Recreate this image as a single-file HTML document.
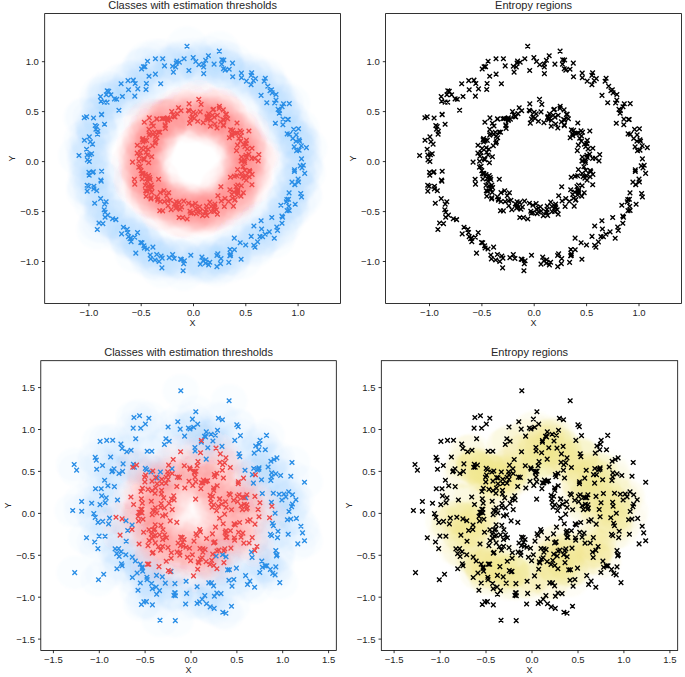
<!DOCTYPE html>
<html><head><meta charset="utf-8"><style>
html,body{margin:0;padding:0;background:#fff;width:685px;height:677px;overflow:hidden}
svg{display:block}
text{font-family:"Liberation Sans",sans-serif;fill:#262626}
.tl{font-size:9.5px}
.tt{font-size:11px}
.al{font-size:9px}
.fr line,.fr rect{stroke:#000;stroke-width:0.8}
</style></head><body>
<svg width="685" height="677" viewBox="0 0 685 677">
<defs><filter id="bl" x="-5%" y="-5%" width="110%" height="110%"><feGaussianBlur stdDeviation="1.0"/></filter></defs>
<g>
<g filter="url(#bl)">
<ellipse cx="144.4" cy="140.6" rx="20.9" ry="20" fill="#EE4848" fill-opacity="0.020"/>
<ellipse cx="176.3" cy="63.1" rx="20.9" ry="20" fill="#1E90FF" fill-opacity="0.021"/>
<ellipse cx="144.2" cy="159.6" rx="20.9" ry="20" fill="#EE4848" fill-opacity="0.020"/>
<ellipse cx="123.4" cy="227.3" rx="20.9" ry="20" fill="#1E90FF" fill-opacity="0.021"/>
<ellipse cx="107.1" cy="102.3" rx="20.9" ry="20" fill="#1E90FF" fill-opacity="0.021"/>
<ellipse cx="148.2" cy="185.9" rx="20.9" ry="20" fill="#EE4848" fill-opacity="0.020"/>
<ellipse cx="143.6" cy="158.4" rx="20.9" ry="20" fill="#EE4848" fill-opacity="0.020"/>
<ellipse cx="91.6" cy="153.8" rx="20.9" ry="20" fill="#1E90FF" fill-opacity="0.021"/>
<ellipse cx="175.6" cy="67" rx="20.9" ry="20" fill="#1E90FF" fill-opacity="0.021"/>
<ellipse cx="206.8" cy="215.4" rx="20.9" ry="20" fill="#EE4848" fill-opacity="0.020"/>
<ellipse cx="296" cy="141.3" rx="20.9" ry="20" fill="#1E90FF" fill-opacity="0.021"/>
<ellipse cx="216.9" cy="266.6" rx="20.9" ry="20" fill="#1E90FF" fill-opacity="0.021"/>
<ellipse cx="164.4" cy="201.6" rx="20.9" ry="20" fill="#EE4848" fill-opacity="0.020"/>
<ellipse cx="133.2" cy="80.1" rx="20.9" ry="20" fill="#1E90FF" fill-opacity="0.021"/>
<ellipse cx="151.7" cy="156.8" rx="20.9" ry="20" fill="#EE4848" fill-opacity="0.020"/>
<ellipse cx="146.7" cy="178.5" rx="20.9" ry="20" fill="#EE4848" fill-opacity="0.020"/>
<ellipse cx="244.9" cy="170.4" rx="20.9" ry="20" fill="#EE4848" fill-opacity="0.020"/>
<ellipse cx="270" cy="90.7" rx="20.9" ry="20" fill="#1E90FF" fill-opacity="0.021"/>
<ellipse cx="197.7" cy="121.2" rx="20.9" ry="20" fill="#EE4848" fill-opacity="0.020"/>
<ellipse cx="166.6" cy="195.8" rx="20.9" ry="20" fill="#EE4848" fill-opacity="0.020"/>
<ellipse cx="242.2" cy="176.8" rx="20.9" ry="20" fill="#EE4848" fill-opacity="0.020"/>
<ellipse cx="249.9" cy="171.7" rx="20.9" ry="20" fill="#EE4848" fill-opacity="0.020"/>
<ellipse cx="223.6" cy="125.6" rx="20.9" ry="20" fill="#EE4848" fill-opacity="0.020"/>
<ellipse cx="153" cy="134.4" rx="20.9" ry="20" fill="#EE4848" fill-opacity="0.020"/>
<ellipse cx="155.4" cy="74.1" rx="20.9" ry="20" fill="#1E90FF" fill-opacity="0.021"/>
<ellipse cx="220.9" cy="186.8" rx="20.9" ry="20" fill="#EE4848" fill-opacity="0.020"/>
<ellipse cx="237.6" cy="169.6" rx="20.9" ry="20" fill="#EE4848" fill-opacity="0.020"/>
<ellipse cx="253.8" cy="245.2" rx="20.9" ry="20" fill="#1E90FF" fill-opacity="0.021"/>
<ellipse cx="106.3" cy="94.8" rx="20.9" ry="20" fill="#1E90FF" fill-opacity="0.021"/>
<ellipse cx="162.1" cy="118.8" rx="20.9" ry="20" fill="#EE4848" fill-opacity="0.020"/>
<ellipse cx="236.9" cy="195" rx="20.9" ry="20" fill="#EE4848" fill-opacity="0.020"/>
<ellipse cx="156.8" cy="118.8" rx="20.9" ry="20" fill="#EE4848" fill-opacity="0.020"/>
<ellipse cx="206.3" cy="209.4" rx="20.9" ry="20" fill="#EE4848" fill-opacity="0.020"/>
<ellipse cx="156.7" cy="254.5" rx="20.9" ry="20" fill="#1E90FF" fill-opacity="0.021"/>
<ellipse cx="296.6" cy="150.7" rx="20.9" ry="20" fill="#1E90FF" fill-opacity="0.021"/>
<ellipse cx="165.1" cy="124.9" rx="20.9" ry="20" fill="#EE4848" fill-opacity="0.020"/>
<ellipse cx="150.9" cy="198.9" rx="20.9" ry="20" fill="#EE4848" fill-opacity="0.020"/>
<ellipse cx="179.4" cy="62.3" rx="20.9" ry="20" fill="#1E90FF" fill-opacity="0.021"/>
<ellipse cx="245.7" cy="245" rx="20.9" ry="20" fill="#1E90FF" fill-opacity="0.021"/>
<ellipse cx="193.2" cy="57.6" rx="20.9" ry="20" fill="#1E90FF" fill-opacity="0.021"/>
<ellipse cx="149.5" cy="177.6" rx="20.9" ry="20" fill="#EE4848" fill-opacity="0.020"/>
<ellipse cx="108.7" cy="91.4" rx="20.9" ry="20" fill="#1E90FF" fill-opacity="0.021"/>
<ellipse cx="236.8" cy="175.8" rx="20.9" ry="20" fill="#EE4848" fill-opacity="0.020"/>
<ellipse cx="183.1" cy="270.7" rx="20.9" ry="20" fill="#1E90FF" fill-opacity="0.021"/>
<ellipse cx="261.1" cy="95.4" rx="20.9" ry="20" fill="#1E90FF" fill-opacity="0.021"/>
<ellipse cx="164.5" cy="65.9" rx="20.9" ry="20" fill="#1E90FF" fill-opacity="0.021"/>
<ellipse cx="301.5" cy="158.9" rx="20.9" ry="20" fill="#1E90FF" fill-opacity="0.021"/>
<ellipse cx="298.5" cy="128.7" rx="20.9" ry="20" fill="#1E90FF" fill-opacity="0.021"/>
<ellipse cx="162.7" cy="210.9" rx="20.9" ry="20" fill="#EE4848" fill-opacity="0.020"/>
<ellipse cx="278.1" cy="109.4" rx="20.9" ry="20" fill="#1E90FF" fill-opacity="0.021"/>
<ellipse cx="155.4" cy="58.8" rx="20.9" ry="20" fill="#1E90FF" fill-opacity="0.021"/>
<ellipse cx="169.2" cy="257.6" rx="20.9" ry="20" fill="#1E90FF" fill-opacity="0.021"/>
<ellipse cx="89.2" cy="175.2" rx="20.9" ry="20" fill="#1E90FF" fill-opacity="0.021"/>
<ellipse cx="157.7" cy="199" rx="20.9" ry="20" fill="#EE4848" fill-opacity="0.020"/>
<ellipse cx="205.4" cy="263.3" rx="20.9" ry="20" fill="#1E90FF" fill-opacity="0.021"/>
<ellipse cx="208.4" cy="55.8" rx="20.9" ry="20" fill="#1E90FF" fill-opacity="0.021"/>
<ellipse cx="107.8" cy="215.1" rx="20.9" ry="20" fill="#1E90FF" fill-opacity="0.021"/>
<ellipse cx="283" cy="119.1" rx="20.9" ry="20" fill="#1E90FF" fill-opacity="0.021"/>
<ellipse cx="230.5" cy="255.5" rx="20.9" ry="20" fill="#1E90FF" fill-opacity="0.021"/>
<ellipse cx="147.5" cy="61.2" rx="20.9" ry="20" fill="#1E90FF" fill-opacity="0.021"/>
<ellipse cx="241.2" cy="173.5" rx="20.9" ry="20" fill="#EE4848" fill-opacity="0.020"/>
<ellipse cx="236.5" cy="150.6" rx="20.9" ry="20" fill="#EE4848" fill-opacity="0.020"/>
<ellipse cx="177.3" cy="113.6" rx="20.9" ry="20" fill="#EE4848" fill-opacity="0.020"/>
<ellipse cx="237.7" cy="190.3" rx="20.9" ry="20" fill="#EE4848" fill-opacity="0.020"/>
<ellipse cx="143.4" cy="66.8" rx="20.9" ry="20" fill="#1E90FF" fill-opacity="0.021"/>
<ellipse cx="251.1" cy="75.4" rx="20.9" ry="20" fill="#1E90FF" fill-opacity="0.021"/>
<ellipse cx="215" cy="207.9" rx="20.9" ry="20" fill="#EE4848" fill-opacity="0.020"/>
<ellipse cx="229.2" cy="69.2" rx="20.9" ry="20" fill="#1E90FF" fill-opacity="0.021"/>
<ellipse cx="300.7" cy="193.5" rx="20.9" ry="20" fill="#1E90FF" fill-opacity="0.021"/>
<ellipse cx="147.2" cy="181.2" rx="20.9" ry="20" fill="#EE4848" fill-opacity="0.020"/>
<ellipse cx="156.9" cy="137.7" rx="20.9" ry="20" fill="#EE4848" fill-opacity="0.020"/>
<ellipse cx="165.2" cy="125.8" rx="20.9" ry="20" fill="#EE4848" fill-opacity="0.020"/>
<ellipse cx="230.6" cy="129.7" rx="20.9" ry="20" fill="#EE4848" fill-opacity="0.020"/>
<ellipse cx="223.3" cy="109.9" rx="20.9" ry="20" fill="#EE4848" fill-opacity="0.020"/>
<ellipse cx="189.3" cy="111" rx="20.9" ry="20" fill="#EE4848" fill-opacity="0.020"/>
<ellipse cx="212.9" cy="109.8" rx="20.9" ry="20" fill="#EE4848" fill-opacity="0.020"/>
<ellipse cx="237.2" cy="133" rx="20.9" ry="20" fill="#EE4848" fill-opacity="0.020"/>
<ellipse cx="172.6" cy="66.3" rx="20.9" ry="20" fill="#1E90FF" fill-opacity="0.021"/>
<ellipse cx="211.3" cy="211.5" rx="20.9" ry="20" fill="#EE4848" fill-opacity="0.020"/>
<ellipse cx="228.6" cy="201.4" rx="20.9" ry="20" fill="#EE4848" fill-opacity="0.020"/>
<ellipse cx="97.3" cy="229.5" rx="20.9" ry="20" fill="#1E90FF" fill-opacity="0.021"/>
<ellipse cx="141.6" cy="69" rx="20.9" ry="20" fill="#1E90FF" fill-opacity="0.021"/>
<ellipse cx="234.4" cy="176.2" rx="20.9" ry="20" fill="#EE4848" fill-opacity="0.020"/>
<ellipse cx="161.1" cy="256" rx="20.9" ry="20" fill="#1E90FF" fill-opacity="0.021"/>
<ellipse cx="188.4" cy="110.2" rx="20.9" ry="20" fill="#EE4848" fill-opacity="0.020"/>
<ellipse cx="128" cy="80.6" rx="20.9" ry="20" fill="#1E90FF" fill-opacity="0.021"/>
<ellipse cx="174.2" cy="258.5" rx="20.9" ry="20" fill="#1E90FF" fill-opacity="0.021"/>
<ellipse cx="168.7" cy="192.8" rx="20.9" ry="20" fill="#EE4848" fill-opacity="0.020"/>
<ellipse cx="195.5" cy="113.9" rx="20.9" ry="20" fill="#EE4848" fill-opacity="0.020"/>
<ellipse cx="222.8" cy="119.5" rx="20.9" ry="20" fill="#EE4848" fill-opacity="0.020"/>
<ellipse cx="140.4" cy="166.4" rx="20.9" ry="20" fill="#EE4848" fill-opacity="0.020"/>
<ellipse cx="243.3" cy="192.8" rx="20.9" ry="20" fill="#EE4848" fill-opacity="0.020"/>
<ellipse cx="142.9" cy="138.5" rx="20.9" ry="20" fill="#EE4848" fill-opacity="0.020"/>
<ellipse cx="181" cy="110.8" rx="20.9" ry="20" fill="#EE4848" fill-opacity="0.020"/>
<ellipse cx="177" cy="204.9" rx="20.9" ry="20" fill="#EE4848" fill-opacity="0.020"/>
<ellipse cx="155.6" cy="136.1" rx="20.9" ry="20" fill="#EE4848" fill-opacity="0.020"/>
<ellipse cx="137.8" cy="88.9" rx="20.9" ry="20" fill="#1E90FF" fill-opacity="0.021"/>
<ellipse cx="173.4" cy="72.1" rx="20.9" ry="20" fill="#1E90FF" fill-opacity="0.021"/>
<ellipse cx="202.6" cy="215.6" rx="20.9" ry="20" fill="#EE4848" fill-opacity="0.020"/>
<ellipse cx="293.7" cy="129.4" rx="20.9" ry="20" fill="#1E90FF" fill-opacity="0.021"/>
<ellipse cx="303.3" cy="165.3" rx="20.9" ry="20" fill="#1E90FF" fill-opacity="0.021"/>
<ellipse cx="190" cy="211.2" rx="20.9" ry="20" fill="#EE4848" fill-opacity="0.020"/>
<ellipse cx="279.3" cy="113.2" rx="20.9" ry="20" fill="#1E90FF" fill-opacity="0.021"/>
<ellipse cx="178.5" cy="107.8" rx="20.9" ry="20" fill="#EE4848" fill-opacity="0.020"/>
<ellipse cx="167.6" cy="117.9" rx="20.9" ry="20" fill="#EE4848" fill-opacity="0.020"/>
<ellipse cx="219.3" cy="51.1" rx="20.9" ry="20" fill="#1E90FF" fill-opacity="0.021"/>
<ellipse cx="212.5" cy="115.2" rx="20.9" ry="20" fill="#EE4848" fill-opacity="0.020"/>
<ellipse cx="281.9" cy="216" rx="20.9" ry="20" fill="#1E90FF" fill-opacity="0.021"/>
<ellipse cx="166.8" cy="118.3" rx="20.9" ry="20" fill="#EE4848" fill-opacity="0.020"/>
<ellipse cx="100.8" cy="180.1" rx="20.9" ry="20" fill="#1E90FF" fill-opacity="0.021"/>
<ellipse cx="87.2" cy="191.1" rx="20.9" ry="20" fill="#1E90FF" fill-opacity="0.021"/>
<ellipse cx="175.8" cy="208.1" rx="20.9" ry="20" fill="#EE4848" fill-opacity="0.020"/>
<ellipse cx="169.7" cy="119.1" rx="20.9" ry="20" fill="#EE4848" fill-opacity="0.020"/>
<ellipse cx="282.1" cy="106.8" rx="20.9" ry="20" fill="#1E90FF" fill-opacity="0.021"/>
<ellipse cx="235.1" cy="199.6" rx="20.9" ry="20" fill="#EE4848" fill-opacity="0.020"/>
<ellipse cx="232.8" cy="130.4" rx="20.9" ry="20" fill="#EE4848" fill-opacity="0.020"/>
<ellipse cx="300.3" cy="165.9" rx="20.9" ry="20" fill="#1E90FF" fill-opacity="0.021"/>
<ellipse cx="286.4" cy="201.9" rx="20.9" ry="20" fill="#1E90FF" fill-opacity="0.021"/>
<ellipse cx="92.5" cy="144.1" rx="20.9" ry="20" fill="#1E90FF" fill-opacity="0.021"/>
<ellipse cx="246.4" cy="81.1" rx="20.9" ry="20" fill="#1E90FF" fill-opacity="0.021"/>
<ellipse cx="261.6" cy="229" rx="20.9" ry="20" fill="#1E90FF" fill-opacity="0.021"/>
<ellipse cx="161.9" cy="267.9" rx="20.9" ry="20" fill="#1E90FF" fill-opacity="0.021"/>
<ellipse cx="190.7" cy="119.1" rx="20.9" ry="20" fill="#EE4848" fill-opacity="0.020"/>
<ellipse cx="127.2" cy="229.4" rx="20.9" ry="20" fill="#1E90FF" fill-opacity="0.021"/>
<ellipse cx="288.5" cy="199.3" rx="20.9" ry="20" fill="#1E90FF" fill-opacity="0.021"/>
<ellipse cx="288.8" cy="206.3" rx="20.9" ry="20" fill="#1E90FF" fill-opacity="0.021"/>
<ellipse cx="159.8" cy="210.7" rx="20.9" ry="20" fill="#EE4848" fill-opacity="0.020"/>
<ellipse cx="234.4" cy="249.8" rx="20.9" ry="20" fill="#1E90FF" fill-opacity="0.021"/>
<ellipse cx="88.9" cy="172.3" rx="20.9" ry="20" fill="#1E90FF" fill-opacity="0.021"/>
<ellipse cx="175" cy="116.9" rx="20.9" ry="20" fill="#EE4848" fill-opacity="0.020"/>
<ellipse cx="266.8" cy="102.8" rx="20.9" ry="20" fill="#1E90FF" fill-opacity="0.021"/>
<ellipse cx="97.8" cy="131.2" rx="20.9" ry="20" fill="#1E90FF" fill-opacity="0.021"/>
<ellipse cx="241" cy="196.2" rx="20.9" ry="20" fill="#EE4848" fill-opacity="0.020"/>
<ellipse cx="241.6" cy="132.3" rx="20.9" ry="20" fill="#EE4848" fill-opacity="0.020"/>
<ellipse cx="87.1" cy="185.3" rx="20.9" ry="20" fill="#1E90FF" fill-opacity="0.021"/>
<ellipse cx="205.7" cy="60.2" rx="20.9" ry="20" fill="#1E90FF" fill-opacity="0.021"/>
<ellipse cx="208.7" cy="264.9" rx="20.9" ry="20" fill="#1E90FF" fill-opacity="0.021"/>
<ellipse cx="289.3" cy="103.6" rx="20.9" ry="20" fill="#1E90FF" fill-opacity="0.021"/>
<ellipse cx="287.6" cy="119.5" rx="20.9" ry="20" fill="#1E90FF" fill-opacity="0.021"/>
<ellipse cx="246.1" cy="143.2" rx="20.9" ry="20" fill="#EE4848" fill-opacity="0.020"/>
<ellipse cx="188.9" cy="70.5" rx="20.9" ry="20" fill="#1E90FF" fill-opacity="0.021"/>
<ellipse cx="241.1" cy="259.2" rx="20.9" ry="20" fill="#1E90FF" fill-opacity="0.021"/>
<ellipse cx="249.1" cy="176.8" rx="20.9" ry="20" fill="#EE4848" fill-opacity="0.020"/>
<ellipse cx="122.4" cy="96.5" rx="20.9" ry="20" fill="#1E90FF" fill-opacity="0.021"/>
<ellipse cx="258.2" cy="160.9" rx="20.9" ry="20" fill="#EE4848" fill-opacity="0.020"/>
<ellipse cx="240.5" cy="141.3" rx="20.9" ry="20" fill="#EE4848" fill-opacity="0.020"/>
<ellipse cx="283.5" cy="103.8" rx="20.9" ry="20" fill="#1E90FF" fill-opacity="0.021"/>
<ellipse cx="276.8" cy="227" rx="20.9" ry="20" fill="#1E90FF" fill-opacity="0.021"/>
<ellipse cx="247.3" cy="148.9" rx="20.9" ry="20" fill="#EE4848" fill-opacity="0.020"/>
<ellipse cx="181.6" cy="207" rx="20.9" ry="20" fill="#EE4848" fill-opacity="0.020"/>
<ellipse cx="301.3" cy="145.9" rx="20.9" ry="20" fill="#1E90FF" fill-opacity="0.021"/>
<ellipse cx="89.3" cy="136.9" rx="20.9" ry="20" fill="#1E90FF" fill-opacity="0.021"/>
<ellipse cx="241.5" cy="77.7" rx="20.9" ry="20" fill="#1E90FF" fill-opacity="0.021"/>
<ellipse cx="288.3" cy="119.5" rx="20.9" ry="20" fill="#1E90FF" fill-opacity="0.021"/>
<ellipse cx="232.6" cy="198.3" rx="20.9" ry="20" fill="#EE4848" fill-opacity="0.020"/>
<ellipse cx="155.7" cy="141.8" rx="20.9" ry="20" fill="#EE4848" fill-opacity="0.020"/>
<ellipse cx="299.1" cy="150.1" rx="20.9" ry="20" fill="#1E90FF" fill-opacity="0.021"/>
<ellipse cx="253.9" cy="226" rx="20.9" ry="20" fill="#1E90FF" fill-opacity="0.021"/>
<ellipse cx="145.6" cy="190.8" rx="20.9" ry="20" fill="#EE4848" fill-opacity="0.020"/>
<ellipse cx="203.7" cy="73.6" rx="20.9" ry="20" fill="#1E90FF" fill-opacity="0.021"/>
<ellipse cx="84.3" cy="117.7" rx="20.9" ry="20" fill="#1E90FF" fill-opacity="0.021"/>
<ellipse cx="192.6" cy="116.5" rx="20.9" ry="20" fill="#EE4848" fill-opacity="0.020"/>
<ellipse cx="176.5" cy="207.6" rx="20.9" ry="20" fill="#EE4848" fill-opacity="0.020"/>
<ellipse cx="271.5" cy="89.8" rx="20.9" ry="20" fill="#1E90FF" fill-opacity="0.021"/>
<ellipse cx="195.4" cy="203.6" rx="20.9" ry="20" fill="#EE4848" fill-opacity="0.020"/>
<ellipse cx="237.6" cy="191.3" rx="20.9" ry="20" fill="#EE4848" fill-opacity="0.020"/>
<ellipse cx="274.7" cy="103" rx="20.9" ry="20" fill="#1E90FF" fill-opacity="0.021"/>
<ellipse cx="296.2" cy="134.9" rx="20.9" ry="20" fill="#1E90FF" fill-opacity="0.021"/>
<ellipse cx="211.2" cy="206.5" rx="20.9" ry="20" fill="#EE4848" fill-opacity="0.020"/>
<ellipse cx="86.6" cy="116.8" rx="20.9" ry="20" fill="#1E90FF" fill-opacity="0.021"/>
<ellipse cx="267.8" cy="86.2" rx="20.9" ry="20" fill="#1E90FF" fill-opacity="0.021"/>
<ellipse cx="137.5" cy="232.6" rx="20.9" ry="20" fill="#1E90FF" fill-opacity="0.021"/>
<ellipse cx="230.4" cy="177.2" rx="20.9" ry="20" fill="#EE4848" fill-opacity="0.020"/>
<ellipse cx="97.5" cy="134.1" rx="20.9" ry="20" fill="#1E90FF" fill-opacity="0.021"/>
<ellipse cx="96.6" cy="126.5" rx="20.9" ry="20" fill="#1E90FF" fill-opacity="0.021"/>
<ellipse cx="155" cy="260" rx="20.9" ry="20" fill="#1E90FF" fill-opacity="0.021"/>
<ellipse cx="132.5" cy="162.1" rx="20.9" ry="20" fill="#EE4848" fill-opacity="0.020"/>
<ellipse cx="180.5" cy="259.1" rx="20.9" ry="20" fill="#1E90FF" fill-opacity="0.021"/>
<ellipse cx="105.1" cy="212.2" rx="20.9" ry="20" fill="#1E90FF" fill-opacity="0.021"/>
<ellipse cx="137.2" cy="153.1" rx="20.9" ry="20" fill="#EE4848" fill-opacity="0.020"/>
<ellipse cx="141.7" cy="173.5" rx="20.9" ry="20" fill="#EE4848" fill-opacity="0.020"/>
<ellipse cx="209.8" cy="262.2" rx="20.9" ry="20" fill="#1E90FF" fill-opacity="0.021"/>
<ellipse cx="156.7" cy="196.8" rx="20.9" ry="20" fill="#EE4848" fill-opacity="0.020"/>
<ellipse cx="229.4" cy="137.7" rx="20.9" ry="20" fill="#EE4848" fill-opacity="0.020"/>
<ellipse cx="217.4" cy="214.1" rx="20.9" ry="20" fill="#EE4848" fill-opacity="0.020"/>
<ellipse cx="104.6" cy="204.1" rx="20.9" ry="20" fill="#1E90FF" fill-opacity="0.021"/>
<ellipse cx="146.1" cy="152.3" rx="20.9" ry="20" fill="#EE4848" fill-opacity="0.020"/>
<ellipse cx="176.9" cy="61.1" rx="20.9" ry="20" fill="#1E90FF" fill-opacity="0.021"/>
<ellipse cx="255" cy="247.2" rx="20.9" ry="20" fill="#1E90FF" fill-opacity="0.021"/>
<ellipse cx="143.9" cy="245.7" rx="20.9" ry="20" fill="#1E90FF" fill-opacity="0.021"/>
<ellipse cx="249.4" cy="170.5" rx="20.9" ry="20" fill="#EE4848" fill-opacity="0.020"/>
<ellipse cx="138.9" cy="161.2" rx="20.9" ry="20" fill="#EE4848" fill-opacity="0.020"/>
<ellipse cx="150.2" cy="189.4" rx="20.9" ry="20" fill="#EE4848" fill-opacity="0.020"/>
<ellipse cx="231.8" cy="134" rx="20.9" ry="20" fill="#EE4848" fill-opacity="0.020"/>
<ellipse cx="93.5" cy="118" rx="20.9" ry="20" fill="#1E90FF" fill-opacity="0.021"/>
<ellipse cx="294.5" cy="169.9" rx="20.9" ry="20" fill="#1E90FF" fill-opacity="0.021"/>
<ellipse cx="104.2" cy="209.7" rx="20.9" ry="20" fill="#1E90FF" fill-opacity="0.021"/>
<ellipse cx="134.8" cy="96.1" rx="20.9" ry="20" fill="#1E90FF" fill-opacity="0.021"/>
<ellipse cx="112.6" cy="218.7" rx="20.9" ry="20" fill="#1E90FF" fill-opacity="0.021"/>
<ellipse cx="139.2" cy="156.2" rx="20.9" ry="20" fill="#EE4848" fill-opacity="0.020"/>
<ellipse cx="224.3" cy="206.5" rx="20.9" ry="20" fill="#EE4848" fill-opacity="0.020"/>
<ellipse cx="149" cy="76.3" rx="20.9" ry="20" fill="#1E90FF" fill-opacity="0.021"/>
<ellipse cx="294.9" cy="184.7" rx="20.9" ry="20" fill="#1E90FF" fill-opacity="0.021"/>
<ellipse cx="130" cy="238.6" rx="20.9" ry="20" fill="#1E90FF" fill-opacity="0.021"/>
<ellipse cx="134.7" cy="237.3" rx="20.9" ry="20" fill="#1E90FF" fill-opacity="0.021"/>
<ellipse cx="228.8" cy="262.4" rx="20.9" ry="20" fill="#1E90FF" fill-opacity="0.021"/>
<ellipse cx="295.2" cy="204.3" rx="20.9" ry="20" fill="#1E90FF" fill-opacity="0.021"/>
<ellipse cx="160.7" cy="83.7" rx="20.9" ry="20" fill="#1E90FF" fill-opacity="0.021"/>
<ellipse cx="236.1" cy="186.6" rx="20.9" ry="20" fill="#EE4848" fill-opacity="0.020"/>
<ellipse cx="142.9" cy="142" rx="20.9" ry="20" fill="#EE4848" fill-opacity="0.020"/>
<ellipse cx="241.5" cy="157" rx="20.9" ry="20" fill="#EE4848" fill-opacity="0.020"/>
<ellipse cx="90.4" cy="141.8" rx="20.9" ry="20" fill="#1E90FF" fill-opacity="0.021"/>
<ellipse cx="203.2" cy="122.6" rx="20.9" ry="20" fill="#EE4848" fill-opacity="0.020"/>
<ellipse cx="206.9" cy="117.6" rx="20.9" ry="20" fill="#EE4848" fill-opacity="0.020"/>
<ellipse cx="258.8" cy="154.6" rx="20.9" ry="20" fill="#EE4848" fill-opacity="0.020"/>
<ellipse cx="152.6" cy="145.8" rx="20.9" ry="20" fill="#EE4848" fill-opacity="0.020"/>
<ellipse cx="151.2" cy="185" rx="20.9" ry="20" fill="#EE4848" fill-opacity="0.020"/>
<ellipse cx="282.6" cy="217.2" rx="20.9" ry="20" fill="#1E90FF" fill-opacity="0.021"/>
<ellipse cx="149.1" cy="135.1" rx="20.9" ry="20" fill="#EE4848" fill-opacity="0.020"/>
<ellipse cx="280.9" cy="205.2" rx="20.9" ry="20" fill="#1E90FF" fill-opacity="0.021"/>
<ellipse cx="143.2" cy="173.9" rx="20.9" ry="20" fill="#EE4848" fill-opacity="0.020"/>
<ellipse cx="240.2" cy="130.9" rx="20.9" ry="20" fill="#EE4848" fill-opacity="0.020"/>
<ellipse cx="265.3" cy="78.3" rx="20.9" ry="20" fill="#1E90FF" fill-opacity="0.021"/>
<ellipse cx="216.9" cy="255.5" rx="20.9" ry="20" fill="#1E90FF" fill-opacity="0.021"/>
<ellipse cx="100.6" cy="198.6" rx="20.9" ry="20" fill="#1E90FF" fill-opacity="0.021"/>
<ellipse cx="141.5" cy="148.4" rx="20.9" ry="20" fill="#EE4848" fill-opacity="0.020"/>
<ellipse cx="294.4" cy="171.5" rx="20.9" ry="20" fill="#1E90FF" fill-opacity="0.021"/>
<ellipse cx="192.2" cy="205.3" rx="20.9" ry="20" fill="#EE4848" fill-opacity="0.020"/>
<ellipse cx="223.9" cy="120" rx="20.9" ry="20" fill="#EE4848" fill-opacity="0.020"/>
<ellipse cx="203.6" cy="67" rx="20.9" ry="20" fill="#1E90FF" fill-opacity="0.021"/>
<ellipse cx="95.2" cy="125.5" rx="20.9" ry="20" fill="#1E90FF" fill-opacity="0.021"/>
<ellipse cx="128.5" cy="89.8" rx="20.9" ry="20" fill="#1E90FF" fill-opacity="0.021"/>
<ellipse cx="200.4" cy="211.1" rx="20.9" ry="20" fill="#EE4848" fill-opacity="0.020"/>
<ellipse cx="292.8" cy="138.5" rx="20.9" ry="20" fill="#1E90FF" fill-opacity="0.021"/>
<ellipse cx="148.1" cy="149.2" rx="20.9" ry="20" fill="#EE4848" fill-opacity="0.020"/>
<ellipse cx="149" cy="129.4" rx="20.9" ry="20" fill="#EE4848" fill-opacity="0.020"/>
<ellipse cx="163.8" cy="118.5" rx="20.9" ry="20" fill="#EE4848" fill-opacity="0.020"/>
<ellipse cx="127.8" cy="232.6" rx="20.9" ry="20" fill="#1E90FF" fill-opacity="0.021"/>
<ellipse cx="115.9" cy="219.7" rx="20.9" ry="20" fill="#1E90FF" fill-opacity="0.021"/>
<ellipse cx="162.2" cy="258.1" rx="20.9" ry="20" fill="#1E90FF" fill-opacity="0.021"/>
<ellipse cx="146.1" cy="196.3" rx="20.9" ry="20" fill="#EE4848" fill-opacity="0.020"/>
<ellipse cx="181.4" cy="259.5" rx="20.9" ry="20" fill="#1E90FF" fill-opacity="0.021"/>
<ellipse cx="206.2" cy="212.7" rx="20.9" ry="20" fill="#EE4848" fill-opacity="0.020"/>
<ellipse cx="299.6" cy="141.3" rx="20.9" ry="20" fill="#1E90FF" fill-opacity="0.021"/>
<ellipse cx="145.3" cy="174.5" rx="20.9" ry="20" fill="#EE4848" fill-opacity="0.020"/>
<ellipse cx="118.9" cy="110.2" rx="20.9" ry="20" fill="#1E90FF" fill-opacity="0.021"/>
<ellipse cx="144.9" cy="66.6" rx="20.9" ry="20" fill="#1E90FF" fill-opacity="0.021"/>
<ellipse cx="251.7" cy="72.8" rx="20.9" ry="20" fill="#1E90FF" fill-opacity="0.021"/>
<ellipse cx="193.5" cy="112.3" rx="20.9" ry="20" fill="#EE4848" fill-opacity="0.020"/>
<ellipse cx="140.8" cy="242.5" rx="20.9" ry="20" fill="#1E90FF" fill-opacity="0.021"/>
<ellipse cx="231.9" cy="194.5" rx="20.9" ry="20" fill="#EE4848" fill-opacity="0.020"/>
<ellipse cx="217.4" cy="115.2" rx="20.9" ry="20" fill="#EE4848" fill-opacity="0.020"/>
<ellipse cx="237.7" cy="192.6" rx="20.9" ry="20" fill="#EE4848" fill-opacity="0.020"/>
<ellipse cx="220.5" cy="263.6" rx="20.9" ry="20" fill="#1E90FF" fill-opacity="0.021"/>
<ellipse cx="214.9" cy="124" rx="20.9" ry="20" fill="#EE4848" fill-opacity="0.020"/>
<ellipse cx="168.1" cy="205.8" rx="20.9" ry="20" fill="#EE4848" fill-opacity="0.020"/>
<ellipse cx="105.1" cy="217.2" rx="20.9" ry="20" fill="#1E90FF" fill-opacity="0.021"/>
<ellipse cx="134.8" cy="184.1" rx="20.9" ry="20" fill="#EE4848" fill-opacity="0.020"/>
<ellipse cx="99" cy="223" rx="20.9" ry="20" fill="#1E90FF" fill-opacity="0.021"/>
<ellipse cx="209.9" cy="202.1" rx="20.9" ry="20" fill="#EE4848" fill-opacity="0.020"/>
<ellipse cx="220.6" cy="121.9" rx="20.9" ry="20" fill="#EE4848" fill-opacity="0.020"/>
<ellipse cx="87.4" cy="159.9" rx="20.9" ry="20" fill="#1E90FF" fill-opacity="0.021"/>
<ellipse cx="145.5" cy="147.8" rx="20.9" ry="20" fill="#EE4848" fill-opacity="0.020"/>
<ellipse cx="110.9" cy="94.8" rx="20.9" ry="20" fill="#1E90FF" fill-opacity="0.021"/>
<ellipse cx="106.1" cy="201.8" rx="20.9" ry="20" fill="#1E90FF" fill-opacity="0.021"/>
<ellipse cx="298.5" cy="182" rx="20.9" ry="20" fill="#1E90FF" fill-opacity="0.021"/>
<ellipse cx="206.5" cy="206.1" rx="20.9" ry="20" fill="#EE4848" fill-opacity="0.020"/>
<ellipse cx="114.5" cy="98.9" rx="20.9" ry="20" fill="#1E90FF" fill-opacity="0.021"/>
<ellipse cx="157.8" cy="200.2" rx="20.9" ry="20" fill="#EE4848" fill-opacity="0.020"/>
<ellipse cx="79" cy="155.5" rx="20.9" ry="20" fill="#1E90FF" fill-opacity="0.021"/>
<ellipse cx="183.6" cy="263.8" rx="20.9" ry="20" fill="#1E90FF" fill-opacity="0.021"/>
<ellipse cx="229.8" cy="255.7" rx="20.9" ry="20" fill="#1E90FF" fill-opacity="0.021"/>
<ellipse cx="304.7" cy="173.4" rx="20.9" ry="20" fill="#1E90FF" fill-opacity="0.021"/>
<ellipse cx="210.4" cy="126.1" rx="20.9" ry="20" fill="#EE4848" fill-opacity="0.020"/>
<ellipse cx="219.2" cy="108.4" rx="20.9" ry="20" fill="#EE4848" fill-opacity="0.020"/>
<ellipse cx="155.1" cy="143.3" rx="20.9" ry="20" fill="#EE4848" fill-opacity="0.020"/>
<ellipse cx="148.5" cy="175.5" rx="20.9" ry="20" fill="#EE4848" fill-opacity="0.020"/>
<ellipse cx="134.4" cy="179.2" rx="20.9" ry="20" fill="#EE4848" fill-opacity="0.020"/>
<ellipse cx="235.4" cy="133.4" rx="20.9" ry="20" fill="#EE4848" fill-opacity="0.020"/>
<ellipse cx="89.8" cy="154.7" rx="20.9" ry="20" fill="#1E90FF" fill-opacity="0.021"/>
<ellipse cx="213.6" cy="109.2" rx="20.9" ry="20" fill="#EE4848" fill-opacity="0.020"/>
<ellipse cx="261.1" cy="220.7" rx="20.9" ry="20" fill="#1E90FF" fill-opacity="0.021"/>
<ellipse cx="167.7" cy="200.7" rx="20.9" ry="20" fill="#EE4848" fill-opacity="0.020"/>
<ellipse cx="269.3" cy="231.9" rx="20.9" ry="20" fill="#1E90FF" fill-opacity="0.021"/>
<ellipse cx="92.8" cy="172.5" rx="20.9" ry="20" fill="#1E90FF" fill-opacity="0.021"/>
<ellipse cx="171.1" cy="209.6" rx="20.9" ry="20" fill="#EE4848" fill-opacity="0.020"/>
<ellipse cx="214.2" cy="117.3" rx="20.9" ry="20" fill="#EE4848" fill-opacity="0.020"/>
<ellipse cx="197.8" cy="211.9" rx="20.9" ry="20" fill="#EE4848" fill-opacity="0.020"/>
<ellipse cx="142.7" cy="173.3" rx="20.9" ry="20" fill="#EE4848" fill-opacity="0.020"/>
<ellipse cx="210.7" cy="120.3" rx="20.9" ry="20" fill="#EE4848" fill-opacity="0.020"/>
<ellipse cx="150" cy="133.8" rx="20.9" ry="20" fill="#EE4848" fill-opacity="0.020"/>
<ellipse cx="208.6" cy="113.8" rx="20.9" ry="20" fill="#EE4848" fill-opacity="0.020"/>
<ellipse cx="147" cy="191.2" rx="20.9" ry="20" fill="#EE4848" fill-opacity="0.020"/>
<ellipse cx="156.8" cy="119.1" rx="20.9" ry="20" fill="#EE4848" fill-opacity="0.020"/>
<ellipse cx="95.9" cy="129.3" rx="20.9" ry="20" fill="#1E90FF" fill-opacity="0.021"/>
<ellipse cx="172.6" cy="254.6" rx="20.9" ry="20" fill="#1E90FF" fill-opacity="0.021"/>
<ellipse cx="200.2" cy="111.9" rx="20.9" ry="20" fill="#EE4848" fill-opacity="0.020"/>
<ellipse cx="192.2" cy="212.7" rx="20.9" ry="20" fill="#EE4848" fill-opacity="0.020"/>
<ellipse cx="246.3" cy="180.1" rx="20.9" ry="20" fill="#EE4848" fill-opacity="0.020"/>
<ellipse cx="237.8" cy="185.1" rx="20.9" ry="20" fill="#EE4848" fill-opacity="0.020"/>
<ellipse cx="176.3" cy="201.8" rx="20.9" ry="20" fill="#EE4848" fill-opacity="0.020"/>
<ellipse cx="289.2" cy="210.5" rx="20.9" ry="20" fill="#1E90FF" fill-opacity="0.021"/>
<ellipse cx="198.8" cy="99.4" rx="20.9" ry="20" fill="#EE4848" fill-opacity="0.020"/>
<ellipse cx="135.8" cy="253.1" rx="20.9" ry="20" fill="#1E90FF" fill-opacity="0.021"/>
<ellipse cx="93.8" cy="188.9" rx="20.9" ry="20" fill="#1E90FF" fill-opacity="0.021"/>
<ellipse cx="217.8" cy="253.9" rx="20.9" ry="20" fill="#1E90FF" fill-opacity="0.021"/>
<ellipse cx="252" cy="148.2" rx="20.9" ry="20" fill="#EE4848" fill-opacity="0.020"/>
<ellipse cx="286.9" cy="199.6" rx="20.9" ry="20" fill="#1E90FF" fill-opacity="0.021"/>
<ellipse cx="84.4" cy="140.3" rx="20.9" ry="20" fill="#1E90FF" fill-opacity="0.021"/>
<ellipse cx="86.6" cy="149.2" rx="20.9" ry="20" fill="#1E90FF" fill-opacity="0.021"/>
<ellipse cx="154.6" cy="132.2" rx="20.9" ry="20" fill="#EE4848" fill-opacity="0.020"/>
<ellipse cx="271.8" cy="217.5" rx="20.9" ry="20" fill="#1E90FF" fill-opacity="0.021"/>
<ellipse cx="151.6" cy="192.4" rx="20.9" ry="20" fill="#EE4848" fill-opacity="0.020"/>
<ellipse cx="151.9" cy="187.6" rx="20.9" ry="20" fill="#EE4848" fill-opacity="0.020"/>
<ellipse cx="89.3" cy="161.5" rx="20.9" ry="20" fill="#1E90FF" fill-opacity="0.021"/>
<ellipse cx="227.6" cy="118.8" rx="20.9" ry="20" fill="#EE4848" fill-opacity="0.020"/>
<ellipse cx="164" cy="190.8" rx="20.9" ry="20" fill="#EE4848" fill-opacity="0.020"/>
<ellipse cx="101.6" cy="114.7" rx="20.9" ry="20" fill="#1E90FF" fill-opacity="0.021"/>
<ellipse cx="147.4" cy="155" rx="20.9" ry="20" fill="#EE4848" fill-opacity="0.020"/>
<ellipse cx="174" cy="116.5" rx="20.9" ry="20" fill="#EE4848" fill-opacity="0.020"/>
<ellipse cx="88.6" cy="186.3" rx="20.9" ry="20" fill="#1E90FF" fill-opacity="0.021"/>
<ellipse cx="213.8" cy="211.4" rx="20.9" ry="20" fill="#EE4848" fill-opacity="0.020"/>
<ellipse cx="241.4" cy="73.1" rx="20.9" ry="20" fill="#1E90FF" fill-opacity="0.021"/>
<ellipse cx="221.3" cy="201" rx="20.9" ry="20" fill="#EE4848" fill-opacity="0.020"/>
<ellipse cx="184.1" cy="58.7" rx="20.9" ry="20" fill="#1E90FF" fill-opacity="0.021"/>
<ellipse cx="237" cy="123" rx="20.9" ry="20" fill="#EE4848" fill-opacity="0.020"/>
<ellipse cx="133.4" cy="80.3" rx="20.9" ry="20" fill="#1E90FF" fill-opacity="0.021"/>
<ellipse cx="294.7" cy="184.5" rx="20.9" ry="20" fill="#1E90FF" fill-opacity="0.021"/>
<ellipse cx="184.4" cy="260.7" rx="20.9" ry="20" fill="#1E90FF" fill-opacity="0.021"/>
<ellipse cx="141.1" cy="170.6" rx="20.9" ry="20" fill="#EE4848" fill-opacity="0.020"/>
<ellipse cx="131" cy="238.1" rx="20.9" ry="20" fill="#1E90FF" fill-opacity="0.021"/>
<ellipse cx="287.2" cy="133.9" rx="20.9" ry="20" fill="#1E90FF" fill-opacity="0.021"/>
<ellipse cx="264.2" cy="81.2" rx="20.9" ry="20" fill="#1E90FF" fill-opacity="0.021"/>
<ellipse cx="276" cy="100.1" rx="20.9" ry="20" fill="#1E90FF" fill-opacity="0.021"/>
<ellipse cx="152.9" cy="247.1" rx="20.9" ry="20" fill="#1E90FF" fill-opacity="0.021"/>
<ellipse cx="94.7" cy="203.2" rx="20.9" ry="20" fill="#1E90FF" fill-opacity="0.021"/>
<ellipse cx="160.3" cy="192.6" rx="20.9" ry="20" fill="#EE4848" fill-opacity="0.020"/>
<ellipse cx="149.3" cy="117.9" rx="20.9" ry="20" fill="#EE4848" fill-opacity="0.020"/>
<ellipse cx="277.5" cy="230.4" rx="20.9" ry="20" fill="#1E90FF" fill-opacity="0.021"/>
<ellipse cx="116.7" cy="99.3" rx="20.9" ry="20" fill="#1E90FF" fill-opacity="0.021"/>
<ellipse cx="223.8" cy="60" rx="20.9" ry="20" fill="#1E90FF" fill-opacity="0.021"/>
<ellipse cx="292" cy="182.1" rx="20.9" ry="20" fill="#1E90FF" fill-opacity="0.021"/>
<ellipse cx="244.1" cy="178.3" rx="20.9" ry="20" fill="#EE4848" fill-opacity="0.020"/>
<ellipse cx="138.8" cy="167.1" rx="20.9" ry="20" fill="#EE4848" fill-opacity="0.020"/>
<ellipse cx="159.1" cy="261.5" rx="20.9" ry="20" fill="#1E90FF" fill-opacity="0.021"/>
<ellipse cx="253.4" cy="80.6" rx="20.9" ry="20" fill="#1E90FF" fill-opacity="0.021"/>
<ellipse cx="241.7" cy="160.9" rx="20.9" ry="20" fill="#EE4848" fill-opacity="0.020"/>
<ellipse cx="174.5" cy="203.9" rx="20.9" ry="20" fill="#EE4848" fill-opacity="0.020"/>
<ellipse cx="234.3" cy="238.1" rx="20.9" ry="20" fill="#1E90FF" fill-opacity="0.021"/>
<ellipse cx="223.4" cy="124.9" rx="20.9" ry="20" fill="#EE4848" fill-opacity="0.020"/>
<ellipse cx="244.7" cy="162.5" rx="20.9" ry="20" fill="#EE4848" fill-opacity="0.020"/>
<ellipse cx="160.3" cy="201.5" rx="20.9" ry="20" fill="#EE4848" fill-opacity="0.020"/>
<ellipse cx="294.2" cy="146.9" rx="20.9" ry="20" fill="#1E90FF" fill-opacity="0.021"/>
<ellipse cx="244.4" cy="160.8" rx="20.9" ry="20" fill="#EE4848" fill-opacity="0.020"/>
<ellipse cx="199.7" cy="206.8" rx="20.9" ry="20" fill="#EE4848" fill-opacity="0.020"/>
<ellipse cx="101.1" cy="101.3" rx="20.9" ry="20" fill="#1E90FF" fill-opacity="0.021"/>
<ellipse cx="282" cy="223.2" rx="20.9" ry="20" fill="#1E90FF" fill-opacity="0.021"/>
<ellipse cx="187.1" cy="219" rx="20.9" ry="20" fill="#EE4848" fill-opacity="0.020"/>
<ellipse cx="257.6" cy="241.9" rx="20.9" ry="20" fill="#1E90FF" fill-opacity="0.021"/>
<ellipse cx="150.7" cy="258.9" rx="20.9" ry="20" fill="#1E90FF" fill-opacity="0.021"/>
<ellipse cx="107.2" cy="90.8" rx="20.9" ry="20" fill="#1E90FF" fill-opacity="0.021"/>
<ellipse cx="225.6" cy="114.4" rx="20.9" ry="20" fill="#EE4848" fill-opacity="0.020"/>
<ellipse cx="265.1" cy="234.3" rx="20.9" ry="20" fill="#1E90FF" fill-opacity="0.021"/>
<ellipse cx="195.8" cy="61.5" rx="20.9" ry="20" fill="#1E90FF" fill-opacity="0.021"/>
<ellipse cx="225.5" cy="69.6" rx="20.9" ry="20" fill="#1E90FF" fill-opacity="0.021"/>
<ellipse cx="272.2" cy="92.9" rx="20.9" ry="20" fill="#1E90FF" fill-opacity="0.021"/>
<ellipse cx="246.4" cy="140.4" rx="20.9" ry="20" fill="#EE4848" fill-opacity="0.020"/>
<ellipse cx="167.6" cy="120.5" rx="20.9" ry="20" fill="#EE4848" fill-opacity="0.020"/>
<ellipse cx="230.6" cy="253.9" rx="20.9" ry="20" fill="#1E90FF" fill-opacity="0.021"/>
<ellipse cx="205.1" cy="211.8" rx="20.9" ry="20" fill="#EE4848" fill-opacity="0.020"/>
<ellipse cx="276" cy="94.5" rx="20.9" ry="20" fill="#1E90FF" fill-opacity="0.021"/>
<ellipse cx="183.8" cy="201.1" rx="20.9" ry="20" fill="#EE4848" fill-opacity="0.020"/>
<ellipse cx="287.1" cy="210.6" rx="20.9" ry="20" fill="#1E90FF" fill-opacity="0.021"/>
<ellipse cx="244.9" cy="146.6" rx="20.9" ry="20" fill="#EE4848" fill-opacity="0.020"/>
<ellipse cx="226.4" cy="114.3" rx="20.9" ry="20" fill="#EE4848" fill-opacity="0.020"/>
<ellipse cx="142" cy="242.7" rx="20.9" ry="20" fill="#1E90FF" fill-opacity="0.021"/>
<ellipse cx="188.6" cy="203.2" rx="20.9" ry="20" fill="#EE4848" fill-opacity="0.020"/>
<ellipse cx="93.9" cy="186.2" rx="20.9" ry="20" fill="#1E90FF" fill-opacity="0.021"/>
<ellipse cx="203.6" cy="64" rx="20.9" ry="20" fill="#1E90FF" fill-opacity="0.021"/>
<ellipse cx="101.2" cy="181.1" rx="20.9" ry="20" fill="#1E90FF" fill-opacity="0.021"/>
<ellipse cx="101.6" cy="171.2" rx="20.9" ry="20" fill="#1E90FF" fill-opacity="0.021"/>
<ellipse cx="234.7" cy="200.1" rx="20.9" ry="20" fill="#EE4848" fill-opacity="0.020"/>
<ellipse cx="299" cy="139.8" rx="20.9" ry="20" fill="#1E90FF" fill-opacity="0.021"/>
<ellipse cx="173.1" cy="114.9" rx="20.9" ry="20" fill="#EE4848" fill-opacity="0.020"/>
<ellipse cx="217.9" cy="195.7" rx="20.9" ry="20" fill="#EE4848" fill-opacity="0.020"/>
<ellipse cx="187" cy="46.3" rx="20.9" ry="20" fill="#1E90FF" fill-opacity="0.021"/>
<ellipse cx="208.7" cy="117.9" rx="20.9" ry="20" fill="#EE4848" fill-opacity="0.020"/>
<ellipse cx="289.5" cy="134.2" rx="20.9" ry="20" fill="#1E90FF" fill-opacity="0.021"/>
<ellipse cx="121.6" cy="233.9" rx="20.9" ry="20" fill="#1E90FF" fill-opacity="0.021"/>
<ellipse cx="255.5" cy="78.6" rx="20.9" ry="20" fill="#1E90FF" fill-opacity="0.021"/>
<ellipse cx="148.7" cy="162.8" rx="20.9" ry="20" fill="#EE4848" fill-opacity="0.020"/>
<ellipse cx="229.9" cy="189.7" rx="20.9" ry="20" fill="#EE4848" fill-opacity="0.020"/>
<ellipse cx="158.6" cy="179.2" rx="20.9" ry="20" fill="#EE4848" fill-opacity="0.020"/>
<ellipse cx="260" cy="236.6" rx="20.9" ry="20" fill="#1E90FF" fill-opacity="0.021"/>
<ellipse cx="240.7" cy="136" rx="20.9" ry="20" fill="#EE4848" fill-opacity="0.020"/>
<ellipse cx="195.8" cy="209.2" rx="20.9" ry="20" fill="#EE4848" fill-opacity="0.020"/>
<ellipse cx="179.1" cy="217.5" rx="20.9" ry="20" fill="#EE4848" fill-opacity="0.020"/>
<ellipse cx="159.8" cy="132.2" rx="20.9" ry="20" fill="#EE4848" fill-opacity="0.020"/>
<ellipse cx="289.1" cy="192.9" rx="20.9" ry="20" fill="#1E90FF" fill-opacity="0.021"/>
<ellipse cx="240.2" cy="242.8" rx="20.9" ry="20" fill="#1E90FF" fill-opacity="0.021"/>
<ellipse cx="262.6" cy="236.8" rx="20.9" ry="20" fill="#1E90FF" fill-opacity="0.021"/>
<ellipse cx="217" cy="128" rx="20.9" ry="20" fill="#EE4848" fill-opacity="0.020"/>
<ellipse cx="214.4" cy="206.4" rx="20.9" ry="20" fill="#EE4848" fill-opacity="0.020"/>
<ellipse cx="241.1" cy="161" rx="20.9" ry="20" fill="#EE4848" fill-opacity="0.020"/>
<ellipse cx="251.9" cy="184.7" rx="20.9" ry="20" fill="#EE4848" fill-opacity="0.020"/>
<ellipse cx="252.1" cy="174.4" rx="20.9" ry="20" fill="#EE4848" fill-opacity="0.020"/>
<ellipse cx="207.3" cy="116.6" rx="20.9" ry="20" fill="#EE4848" fill-opacity="0.020"/>
<ellipse cx="146.6" cy="140.4" rx="20.9" ry="20" fill="#EE4848" fill-opacity="0.020"/>
<ellipse cx="248.9" cy="131" rx="20.9" ry="20" fill="#EE4848" fill-opacity="0.020"/>
<ellipse cx="221" cy="258.6" rx="20.9" ry="20" fill="#1E90FF" fill-opacity="0.021"/>
<ellipse cx="131.1" cy="241.6" rx="20.9" ry="20" fill="#1E90FF" fill-opacity="0.021"/>
<ellipse cx="232.7" cy="76.7" rx="20.9" ry="20" fill="#1E90FF" fill-opacity="0.021"/>
<ellipse cx="274.3" cy="238.2" rx="20.9" ry="20" fill="#1E90FF" fill-opacity="0.021"/>
<ellipse cx="151.1" cy="197.7" rx="20.9" ry="20" fill="#EE4848" fill-opacity="0.020"/>
<ellipse cx="203.1" cy="260.7" rx="20.9" ry="20" fill="#1E90FF" fill-opacity="0.021"/>
<ellipse cx="194.2" cy="118.4" rx="20.9" ry="20" fill="#EE4848" fill-opacity="0.020"/>
<ellipse cx="251.8" cy="158.4" rx="20.9" ry="20" fill="#EE4848" fill-opacity="0.020"/>
<ellipse cx="104.5" cy="124.2" rx="20.9" ry="20" fill="#1E90FF" fill-opacity="0.021"/>
<ellipse cx="221.9" cy="59.7" rx="20.9" ry="20" fill="#1E90FF" fill-opacity="0.021"/>
<ellipse cx="150.1" cy="179.6" rx="20.9" ry="20" fill="#EE4848" fill-opacity="0.020"/>
<ellipse cx="306.4" cy="147.6" rx="20.9" ry="20" fill="#1E90FF" fill-opacity="0.021"/>
<ellipse cx="196.4" cy="213.6" rx="20.9" ry="20" fill="#EE4848" fill-opacity="0.020"/>
<ellipse cx="241.3" cy="185.8" rx="20.9" ry="20" fill="#EE4848" fill-opacity="0.020"/>
<ellipse cx="225.1" cy="70.1" rx="20.9" ry="20" fill="#1E90FF" fill-opacity="0.021"/>
<ellipse cx="179" cy="202.4" rx="20.9" ry="20" fill="#EE4848" fill-opacity="0.020"/>
<ellipse cx="146.4" cy="83.5" rx="20.9" ry="20" fill="#1E90FF" fill-opacity="0.021"/>
<ellipse cx="230" cy="249.5" rx="20.9" ry="20" fill="#1E90FF" fill-opacity="0.021"/>
<ellipse cx="251.1" cy="84.8" rx="20.9" ry="20" fill="#1E90FF" fill-opacity="0.021"/>
<ellipse cx="237.5" cy="145.1" rx="20.9" ry="20" fill="#EE4848" fill-opacity="0.020"/>
<ellipse cx="180.2" cy="209.2" rx="20.9" ry="20" fill="#EE4848" fill-opacity="0.020"/>
<ellipse cx="140.5" cy="152.5" rx="20.9" ry="20" fill="#EE4848" fill-opacity="0.020"/>
<ellipse cx="121.1" cy="83.8" rx="20.9" ry="20" fill="#1E90FF" fill-opacity="0.021"/>
<ellipse cx="165.4" cy="128.4" rx="20.9" ry="20" fill="#EE4848" fill-opacity="0.020"/>
<ellipse cx="233.9" cy="192" rx="20.9" ry="20" fill="#EE4848" fill-opacity="0.020"/>
<ellipse cx="221.7" cy="64.3" rx="20.9" ry="20" fill="#1E90FF" fill-opacity="0.021"/>
<ellipse cx="153.3" cy="126" rx="20.9" ry="20" fill="#EE4848" fill-opacity="0.020"/>
<ellipse cx="245.8" cy="143.7" rx="20.9" ry="20" fill="#EE4848" fill-opacity="0.020"/>
<ellipse cx="298.1" cy="179.1" rx="20.9" ry="20" fill="#1E90FF" fill-opacity="0.021"/>
<ellipse cx="282.9" cy="124.8" rx="20.9" ry="20" fill="#1E90FF" fill-opacity="0.021"/>
<ellipse cx="192" cy="117.3" rx="20.9" ry="20" fill="#EE4848" fill-opacity="0.020"/>
<ellipse cx="135.2" cy="83.5" rx="20.9" ry="20" fill="#1E90FF" fill-opacity="0.021"/>
<ellipse cx="142.2" cy="179" rx="20.9" ry="20" fill="#EE4848" fill-opacity="0.020"/>
<ellipse cx="238.9" cy="138.2" rx="20.9" ry="20" fill="#EE4848" fill-opacity="0.020"/>
<ellipse cx="144.4" cy="248" rx="20.9" ry="20" fill="#1E90FF" fill-opacity="0.021"/>
<ellipse cx="171.7" cy="111.6" rx="20.9" ry="20" fill="#EE4848" fill-opacity="0.020"/>
<ellipse cx="243.1" cy="166.8" rx="20.9" ry="20" fill="#EE4848" fill-opacity="0.020"/>
<ellipse cx="96.7" cy="190.7" rx="20.9" ry="20" fill="#1E90FF" fill-opacity="0.021"/>
<ellipse cx="207.8" cy="119.6" rx="20.9" ry="20" fill="#EE4848" fill-opacity="0.020"/>
<ellipse cx="245.5" cy="175.5" rx="20.9" ry="20" fill="#EE4848" fill-opacity="0.020"/>
<ellipse cx="189.6" cy="123.1" rx="20.9" ry="20" fill="#EE4848" fill-opacity="0.020"/>
<ellipse cx="302" cy="167.9" rx="20.9" ry="20" fill="#1E90FF" fill-opacity="0.021"/>
<ellipse cx="214.1" cy="64.1" rx="20.9" ry="20" fill="#1E90FF" fill-opacity="0.021"/>
<ellipse cx="137.3" cy="145.2" rx="20.9" ry="20" fill="#EE4848" fill-opacity="0.020"/>
<ellipse cx="232.5" cy="63.1" rx="20.9" ry="20" fill="#1E90FF" fill-opacity="0.021"/>
<ellipse cx="233.4" cy="206.1" rx="20.9" ry="20" fill="#EE4848" fill-opacity="0.020"/>
<ellipse cx="150.2" cy="255" rx="20.9" ry="20" fill="#1E90FF" fill-opacity="0.021"/>
<ellipse cx="190.7" cy="213.3" rx="20.9" ry="20" fill="#EE4848" fill-opacity="0.020"/>
<ellipse cx="205.9" cy="259.8" rx="20.9" ry="20" fill="#1E90FF" fill-opacity="0.021"/>
<ellipse cx="246.5" cy="157.5" rx="20.9" ry="20" fill="#EE4848" fill-opacity="0.020"/>
<ellipse cx="190.8" cy="255.2" rx="20.9" ry="20" fill="#1E90FF" fill-opacity="0.021"/>
<ellipse cx="147.3" cy="249" rx="20.9" ry="20" fill="#1E90FF" fill-opacity="0.021"/>
<ellipse cx="198.9" cy="64.7" rx="20.9" ry="20" fill="#1E90FF" fill-opacity="0.021"/>
<ellipse cx="223.5" cy="68.7" rx="20.9" ry="20" fill="#1E90FF" fill-opacity="0.021"/>
<ellipse cx="158.3" cy="132" rx="20.9" ry="20" fill="#EE4848" fill-opacity="0.020"/>
<ellipse cx="301.5" cy="197" rx="20.9" ry="20" fill="#1E90FF" fill-opacity="0.021"/>
<ellipse cx="246" cy="155.2" rx="20.9" ry="20" fill="#EE4848" fill-opacity="0.020"/>
<ellipse cx="279.5" cy="110.5" rx="20.9" ry="20" fill="#1E90FF" fill-opacity="0.021"/>
<ellipse cx="189.1" cy="103.9" rx="20.9" ry="20" fill="#EE4848" fill-opacity="0.020"/>
<ellipse cx="214.9" cy="204.1" rx="20.9" ry="20" fill="#EE4848" fill-opacity="0.020"/>
<ellipse cx="128.5" cy="236.6" rx="20.9" ry="20" fill="#1E90FF" fill-opacity="0.021"/>
<ellipse cx="232" cy="135.7" rx="20.9" ry="20" fill="#EE4848" fill-opacity="0.020"/>
<ellipse cx="197.7" cy="208.4" rx="20.9" ry="20" fill="#EE4848" fill-opacity="0.020"/>
<ellipse cx="201.9" cy="257.1" rx="20.9" ry="20" fill="#1E90FF" fill-opacity="0.021"/>
<ellipse cx="145.3" cy="185.4" rx="20.9" ry="20" fill="#EE4848" fill-opacity="0.020"/>
<ellipse cx="219.4" cy="106.3" rx="20.9" ry="20" fill="#EE4848" fill-opacity="0.020"/>
<ellipse cx="170.2" cy="200.3" rx="20.9" ry="20" fill="#EE4848" fill-opacity="0.020"/>
<ellipse cx="151.7" cy="123.2" rx="20.9" ry="20" fill="#EE4848" fill-opacity="0.020"/>
<ellipse cx="248.9" cy="154.1" rx="20.9" ry="20" fill="#EE4848" fill-opacity="0.020"/>
<ellipse cx="201.1" cy="104.4" rx="20.9" ry="20" fill="#EE4848" fill-opacity="0.020"/>
<ellipse cx="102.9" cy="223.6" rx="20.9" ry="20" fill="#1E90FF" fill-opacity="0.021"/>
<ellipse cx="93.3" cy="171.8" rx="20.9" ry="20" fill="#1E90FF" fill-opacity="0.021"/>
<ellipse cx="115.8" cy="219.5" rx="20.9" ry="20" fill="#1E90FF" fill-opacity="0.021"/>
<ellipse cx="142.4" cy="139.9" rx="20.9" ry="20" fill="#EE4848" fill-opacity="0.020"/>
<ellipse cx="104.5" cy="102.1" rx="20.9" ry="20" fill="#1E90FF" fill-opacity="0.021"/>
<ellipse cx="144" cy="159.6" rx="20.9" ry="20" fill="#EE4848" fill-opacity="0.020"/>
<ellipse cx="146" cy="89.5" rx="20.9" ry="20" fill="#1E90FF" fill-opacity="0.021"/>
<ellipse cx="216.4" cy="209.7" rx="20.9" ry="20" fill="#EE4848" fill-opacity="0.020"/>
<ellipse cx="167.6" cy="119.6" rx="20.9" ry="20" fill="#EE4848" fill-opacity="0.020"/>
<ellipse cx="251.2" cy="236.4" rx="20.9" ry="20" fill="#1E90FF" fill-opacity="0.021"/>
<ellipse cx="225" cy="198.5" rx="20.9" ry="20" fill="#EE4848" fill-opacity="0.020"/>
<ellipse cx="87.2" cy="155" rx="20.9" ry="20" fill="#1E90FF" fill-opacity="0.021"/>
<ellipse cx="254.5" cy="158.2" rx="20.9" ry="20" fill="#EE4848" fill-opacity="0.020"/>
<ellipse cx="275.4" cy="123.3" rx="20.9" ry="20" fill="#1E90FF" fill-opacity="0.021"/>
<ellipse cx="200.3" cy="264.1" rx="20.9" ry="20" fill="#1E90FF" fill-opacity="0.021"/>
<ellipse cx="162.7" cy="58.7" rx="20.9" ry="20" fill="#1E90FF" fill-opacity="0.021"/>
<ellipse cx="101.5" cy="114.4" rx="20.9" ry="20" fill="#1E90FF" fill-opacity="0.021"/>
<ellipse cx="243.6" cy="144.1" rx="20.9" ry="20" fill="#EE4848" fill-opacity="0.020"/>
<ellipse cx="144.3" cy="122.3" rx="20.9" ry="20" fill="#EE4848" fill-opacity="0.020"/>
<ellipse cx="182.7" cy="217.6" rx="20.9" ry="20" fill="#EE4848" fill-opacity="0.020"/>
<ellipse cx="100.5" cy="96.6" rx="20.9" ry="20" fill="#1E90FF" fill-opacity="0.021"/>
</g>
<path fill="none" stroke="#2A8EE6" stroke-width="1.35" d="M174 60.8l4.6 4.6m0-4.6l-4.6 4.6M121.1 225l4.6 4.6m0-4.6l-4.6 4.6M104.8 100l4.6 4.6m0-4.6l-4.6 4.6M89.3 151.5l4.6 4.6m0-4.6l-4.6 4.6M173.3 64.7l4.6 4.6m0-4.6l-4.6 4.6M293.7 139l4.6 4.6m0-4.6l-4.6 4.6M214.6 264.3l4.6 4.6m0-4.6l-4.6 4.6M130.9 77.8l4.6 4.6m0-4.6l-4.6 4.6M267.7 88.4l4.6 4.6m0-4.6l-4.6 4.6M153.1 71.8l4.6 4.6m0-4.6l-4.6 4.6M251.5 242.9l4.6 4.6m0-4.6l-4.6 4.6M104 92.5l4.6 4.6m0-4.6l-4.6 4.6M154.4 252.2l4.6 4.6m0-4.6l-4.6 4.6M294.3 148.4l4.6 4.6m0-4.6l-4.6 4.6M177.1 60l4.6 4.6m0-4.6l-4.6 4.6M243.4 242.7l4.6 4.6m0-4.6l-4.6 4.6M190.9 55.3l4.6 4.6m0-4.6l-4.6 4.6M106.4 89.1l4.6 4.6m0-4.6l-4.6 4.6M180.8 268.4l4.6 4.6m0-4.6l-4.6 4.6M258.8 93.1l4.6 4.6m0-4.6l-4.6 4.6M162.2 63.6l4.6 4.6m0-4.6l-4.6 4.6M299.2 156.6l4.6 4.6m0-4.6l-4.6 4.6M296.2 126.4l4.6 4.6m0-4.6l-4.6 4.6M275.8 107.1l4.6 4.6m0-4.6l-4.6 4.6M153.1 56.5l4.6 4.6m0-4.6l-4.6 4.6M166.9 255.3l4.6 4.6m0-4.6l-4.6 4.6M86.9 172.9l4.6 4.6m0-4.6l-4.6 4.6M203.1 261l4.6 4.6m0-4.6l-4.6 4.6M206.1 53.5l4.6 4.6m0-4.6l-4.6 4.6M105.5 212.8l4.6 4.6m0-4.6l-4.6 4.6M280.7 116.8l4.6 4.6m0-4.6l-4.6 4.6M228.2 253.2l4.6 4.6m0-4.6l-4.6 4.6M145.2 58.9l4.6 4.6m0-4.6l-4.6 4.6M141.1 64.5l4.6 4.6m0-4.6l-4.6 4.6M248.8 73.1l4.6 4.6m0-4.6l-4.6 4.6M226.9 66.9l4.6 4.6m0-4.6l-4.6 4.6M298.4 191.2l4.6 4.6m0-4.6l-4.6 4.6M170.3 64l4.6 4.6m0-4.6l-4.6 4.6M95 227.2l4.6 4.6m0-4.6l-4.6 4.6M139.3 66.7l4.6 4.6m0-4.6l-4.6 4.6M158.8 253.7l4.6 4.6m0-4.6l-4.6 4.6M125.7 78.3l4.6 4.6m0-4.6l-4.6 4.6M171.9 256.2l4.6 4.6m0-4.6l-4.6 4.6M135.5 86.6l4.6 4.6m0-4.6l-4.6 4.6M171.1 69.8l4.6 4.6m0-4.6l-4.6 4.6M291.4 127.1l4.6 4.6m0-4.6l-4.6 4.6M301 163l4.6 4.6m0-4.6l-4.6 4.6M277 110.9l4.6 4.6m0-4.6l-4.6 4.6M217 48.8l4.6 4.6m0-4.6l-4.6 4.6M279.6 213.7l4.6 4.6m0-4.6l-4.6 4.6M98.5 177.8l4.6 4.6m0-4.6l-4.6 4.6M84.9 188.8l4.6 4.6m0-4.6l-4.6 4.6M279.8 104.5l4.6 4.6m0-4.6l-4.6 4.6M298 163.6l4.6 4.6m0-4.6l-4.6 4.6M284.1 199.6l4.6 4.6m0-4.6l-4.6 4.6M90.2 141.8l4.6 4.6m0-4.6l-4.6 4.6M244.1 78.8l4.6 4.6m0-4.6l-4.6 4.6M259.3 226.7l4.6 4.6m0-4.6l-4.6 4.6M159.6 265.6l4.6 4.6m0-4.6l-4.6 4.6M124.9 227.1l4.6 4.6m0-4.6l-4.6 4.6M286.2 197l4.6 4.6m0-4.6l-4.6 4.6M286.5 204l4.6 4.6m0-4.6l-4.6 4.6M232.1 247.5l4.6 4.6m0-4.6l-4.6 4.6M86.6 170l4.6 4.6m0-4.6l-4.6 4.6M264.5 100.5l4.6 4.6m0-4.6l-4.6 4.6M95.5 128.9l4.6 4.6m0-4.6l-4.6 4.6M84.8 183l4.6 4.6m0-4.6l-4.6 4.6M203.4 57.9l4.6 4.6m0-4.6l-4.6 4.6M206.4 262.6l4.6 4.6m0-4.6l-4.6 4.6M287 101.3l4.6 4.6m0-4.6l-4.6 4.6M285.3 117.2l4.6 4.6m0-4.6l-4.6 4.6M186.6 68.2l4.6 4.6m0-4.6l-4.6 4.6M238.8 256.9l4.6 4.6m0-4.6l-4.6 4.6M120.1 94.2l4.6 4.6m0-4.6l-4.6 4.6M281.2 101.5l4.6 4.6m0-4.6l-4.6 4.6M274.5 224.7l4.6 4.6m0-4.6l-4.6 4.6M299 143.6l4.6 4.6m0-4.6l-4.6 4.6M87 134.6l4.6 4.6m0-4.6l-4.6 4.6M239.2 75.4l4.6 4.6m0-4.6l-4.6 4.6M286 117.2l4.6 4.6m0-4.6l-4.6 4.6M296.8 147.8l4.6 4.6m0-4.6l-4.6 4.6M251.6 223.7l4.6 4.6m0-4.6l-4.6 4.6M201.4 71.3l4.6 4.6m0-4.6l-4.6 4.6M82 115.4l4.6 4.6m0-4.6l-4.6 4.6M269.2 87.5l4.6 4.6m0-4.6l-4.6 4.6M272.4 100.7l4.6 4.6m0-4.6l-4.6 4.6M293.9 132.6l4.6 4.6m0-4.6l-4.6 4.6M84.3 114.5l4.6 4.6m0-4.6l-4.6 4.6M265.5 83.9l4.6 4.6m0-4.6l-4.6 4.6M135.2 230.3l4.6 4.6m0-4.6l-4.6 4.6M95.2 131.8l4.6 4.6m0-4.6l-4.6 4.6M94.3 124.2l4.6 4.6m0-4.6l-4.6 4.6M152.7 257.7l4.6 4.6m0-4.6l-4.6 4.6M178.2 256.8l4.6 4.6m0-4.6l-4.6 4.6M102.8 209.9l4.6 4.6m0-4.6l-4.6 4.6M207.5 259.9l4.6 4.6m0-4.6l-4.6 4.6M102.3 201.8l4.6 4.6m0-4.6l-4.6 4.6M174.6 58.8l4.6 4.6m0-4.6l-4.6 4.6M252.7 244.9l4.6 4.6m0-4.6l-4.6 4.6M141.6 243.4l4.6 4.6m0-4.6l-4.6 4.6M91.2 115.7l4.6 4.6m0-4.6l-4.6 4.6M292.2 167.6l4.6 4.6m0-4.6l-4.6 4.6M101.9 207.4l4.6 4.6m0-4.6l-4.6 4.6M132.5 93.8l4.6 4.6m0-4.6l-4.6 4.6M110.3 216.4l4.6 4.6m0-4.6l-4.6 4.6M146.7 74l4.6 4.6m0-4.6l-4.6 4.6M292.6 182.4l4.6 4.6m0-4.6l-4.6 4.6M127.7 236.3l4.6 4.6m0-4.6l-4.6 4.6M132.4 235l4.6 4.6m0-4.6l-4.6 4.6M226.5 260.1l4.6 4.6m0-4.6l-4.6 4.6M292.9 202l4.6 4.6m0-4.6l-4.6 4.6M158.4 81.4l4.6 4.6m0-4.6l-4.6 4.6M88.1 139.5l4.6 4.6m0-4.6l-4.6 4.6M280.3 214.9l4.6 4.6m0-4.6l-4.6 4.6M278.6 202.9l4.6 4.6m0-4.6l-4.6 4.6M263 76l4.6 4.6m0-4.6l-4.6 4.6M214.6 253.2l4.6 4.6m0-4.6l-4.6 4.6M98.3 196.3l4.6 4.6m0-4.6l-4.6 4.6M292.1 169.2l4.6 4.6m0-4.6l-4.6 4.6M201.3 64.7l4.6 4.6m0-4.6l-4.6 4.6M92.9 123.2l4.6 4.6m0-4.6l-4.6 4.6M126.2 87.5l4.6 4.6m0-4.6l-4.6 4.6M290.5 136.2l4.6 4.6m0-4.6l-4.6 4.6M125.5 230.3l4.6 4.6m0-4.6l-4.6 4.6M113.6 217.4l4.6 4.6m0-4.6l-4.6 4.6M159.9 255.8l4.6 4.6m0-4.6l-4.6 4.6M179.1 257.2l4.6 4.6m0-4.6l-4.6 4.6M297.3 139l4.6 4.6m0-4.6l-4.6 4.6M116.6 107.9l4.6 4.6m0-4.6l-4.6 4.6M142.6 64.3l4.6 4.6m0-4.6l-4.6 4.6M249.4 70.5l4.6 4.6m0-4.6l-4.6 4.6M138.5 240.2l4.6 4.6m0-4.6l-4.6 4.6M218.2 261.3l4.6 4.6m0-4.6l-4.6 4.6M102.8 214.9l4.6 4.6m0-4.6l-4.6 4.6M96.7 220.7l4.6 4.6m0-4.6l-4.6 4.6M85.1 157.6l4.6 4.6m0-4.6l-4.6 4.6M108.6 92.5l4.6 4.6m0-4.6l-4.6 4.6M103.8 199.5l4.6 4.6m0-4.6l-4.6 4.6M296.2 179.7l4.6 4.6m0-4.6l-4.6 4.6M112.2 96.6l4.6 4.6m0-4.6l-4.6 4.6M76.7 153.2l4.6 4.6m0-4.6l-4.6 4.6M181.3 261.5l4.6 4.6m0-4.6l-4.6 4.6M227.5 253.4l4.6 4.6m0-4.6l-4.6 4.6M302.4 171.1l4.6 4.6m0-4.6l-4.6 4.6M87.5 152.4l4.6 4.6m0-4.6l-4.6 4.6M258.8 218.4l4.6 4.6m0-4.6l-4.6 4.6M267 229.6l4.6 4.6m0-4.6l-4.6 4.6M90.5 170.2l4.6 4.6m0-4.6l-4.6 4.6M93.6 127l4.6 4.6m0-4.6l-4.6 4.6M170.3 252.3l4.6 4.6m0-4.6l-4.6 4.6M286.9 208.2l4.6 4.6m0-4.6l-4.6 4.6M133.5 250.8l4.6 4.6m0-4.6l-4.6 4.6M91.5 186.6l4.6 4.6m0-4.6l-4.6 4.6M215.5 251.6l4.6 4.6m0-4.6l-4.6 4.6M284.6 197.3l4.6 4.6m0-4.6l-4.6 4.6M82.1 138l4.6 4.6m0-4.6l-4.6 4.6M84.3 146.9l4.6 4.6m0-4.6l-4.6 4.6M269.5 215.2l4.6 4.6m0-4.6l-4.6 4.6M87 159.2l4.6 4.6m0-4.6l-4.6 4.6M99.3 112.4l4.6 4.6m0-4.6l-4.6 4.6M86.3 184l4.6 4.6m0-4.6l-4.6 4.6M239.1 70.8l4.6 4.6m0-4.6l-4.6 4.6M181.8 56.4l4.6 4.6m0-4.6l-4.6 4.6M131.1 78l4.6 4.6m0-4.6l-4.6 4.6M292.4 182.2l4.6 4.6m0-4.6l-4.6 4.6M182.1 258.4l4.6 4.6m0-4.6l-4.6 4.6M128.7 235.8l4.6 4.6m0-4.6l-4.6 4.6M284.9 131.6l4.6 4.6m0-4.6l-4.6 4.6M261.9 78.9l4.6 4.6m0-4.6l-4.6 4.6M273.7 97.8l4.6 4.6m0-4.6l-4.6 4.6M150.6 244.8l4.6 4.6m0-4.6l-4.6 4.6M92.4 200.9l4.6 4.6m0-4.6l-4.6 4.6M275.2 228.1l4.6 4.6m0-4.6l-4.6 4.6M114.4 97l4.6 4.6m0-4.6l-4.6 4.6M221.5 57.7l4.6 4.6m0-4.6l-4.6 4.6M289.7 179.8l4.6 4.6m0-4.6l-4.6 4.6M156.8 259.2l4.6 4.6m0-4.6l-4.6 4.6M251.1 78.3l4.6 4.6m0-4.6l-4.6 4.6M232 235.8l4.6 4.6m0-4.6l-4.6 4.6M291.9 144.6l4.6 4.6m0-4.6l-4.6 4.6M98.8 99l4.6 4.6m0-4.6l-4.6 4.6M279.7 220.9l4.6 4.6m0-4.6l-4.6 4.6M255.3 239.6l4.6 4.6m0-4.6l-4.6 4.6M148.4 256.6l4.6 4.6m0-4.6l-4.6 4.6M104.9 88.5l4.6 4.6m0-4.6l-4.6 4.6M262.8 232l4.6 4.6m0-4.6l-4.6 4.6M193.5 59.2l4.6 4.6m0-4.6l-4.6 4.6M223.2 67.3l4.6 4.6m0-4.6l-4.6 4.6M269.9 90.6l4.6 4.6m0-4.6l-4.6 4.6M228.3 251.6l4.6 4.6m0-4.6l-4.6 4.6M273.7 92.2l4.6 4.6m0-4.6l-4.6 4.6M284.8 208.3l4.6 4.6m0-4.6l-4.6 4.6M139.7 240.4l4.6 4.6m0-4.6l-4.6 4.6M91.6 183.9l4.6 4.6m0-4.6l-4.6 4.6M201.3 61.7l4.6 4.6m0-4.6l-4.6 4.6M98.9 178.8l4.6 4.6m0-4.6l-4.6 4.6M99.3 168.9l4.6 4.6m0-4.6l-4.6 4.6M296.7 137.5l4.6 4.6m0-4.6l-4.6 4.6M184.7 44l4.6 4.6m0-4.6l-4.6 4.6M287.2 131.9l4.6 4.6m0-4.6l-4.6 4.6M119.3 231.6l4.6 4.6m0-4.6l-4.6 4.6M253.2 76.3l4.6 4.6m0-4.6l-4.6 4.6M257.7 234.3l4.6 4.6m0-4.6l-4.6 4.6M286.8 190.6l4.6 4.6m0-4.6l-4.6 4.6M237.9 240.5l4.6 4.6m0-4.6l-4.6 4.6M260.3 234.5l4.6 4.6m0-4.6l-4.6 4.6M218.7 256.3l4.6 4.6m0-4.6l-4.6 4.6M128.8 239.3l4.6 4.6m0-4.6l-4.6 4.6M230.4 74.4l4.6 4.6m0-4.6l-4.6 4.6M272 235.9l4.6 4.6m0-4.6l-4.6 4.6M200.8 258.4l4.6 4.6m0-4.6l-4.6 4.6M102.2 121.9l4.6 4.6m0-4.6l-4.6 4.6M219.6 57.4l4.6 4.6m0-4.6l-4.6 4.6M304.1 145.3l4.6 4.6m0-4.6l-4.6 4.6M222.8 67.8l4.6 4.6m0-4.6l-4.6 4.6M144.1 81.2l4.6 4.6m0-4.6l-4.6 4.6M227.7 247.2l4.6 4.6m0-4.6l-4.6 4.6M248.8 82.5l4.6 4.6m0-4.6l-4.6 4.6M118.8 81.5l4.6 4.6m0-4.6l-4.6 4.6M219.4 62l4.6 4.6m0-4.6l-4.6 4.6M295.8 176.8l4.6 4.6m0-4.6l-4.6 4.6M280.6 122.5l4.6 4.6m0-4.6l-4.6 4.6M132.9 81.2l4.6 4.6m0-4.6l-4.6 4.6M142.1 245.7l4.6 4.6m0-4.6l-4.6 4.6M94.4 188.4l4.6 4.6m0-4.6l-4.6 4.6M299.7 165.6l4.6 4.6m0-4.6l-4.6 4.6M211.8 61.8l4.6 4.6m0-4.6l-4.6 4.6M230.2 60.8l4.6 4.6m0-4.6l-4.6 4.6M147.9 252.7l4.6 4.6m0-4.6l-4.6 4.6M203.6 257.5l4.6 4.6m0-4.6l-4.6 4.6M188.5 252.9l4.6 4.6m0-4.6l-4.6 4.6M145 246.7l4.6 4.6m0-4.6l-4.6 4.6M196.6 62.4l4.6 4.6m0-4.6l-4.6 4.6M221.2 66.4l4.6 4.6m0-4.6l-4.6 4.6M299.2 194.7l4.6 4.6m0-4.6l-4.6 4.6M277.2 108.2l4.6 4.6m0-4.6l-4.6 4.6M126.2 234.3l4.6 4.6m0-4.6l-4.6 4.6M199.6 254.8l4.6 4.6m0-4.6l-4.6 4.6M100.6 221.3l4.6 4.6m0-4.6l-4.6 4.6M91 169.5l4.6 4.6m0-4.6l-4.6 4.6M113.5 217.2l4.6 4.6m0-4.6l-4.6 4.6M102.2 99.8l4.6 4.6m0-4.6l-4.6 4.6M143.7 87.2l4.6 4.6m0-4.6l-4.6 4.6M248.9 234.1l4.6 4.6m0-4.6l-4.6 4.6M84.9 152.7l4.6 4.6m0-4.6l-4.6 4.6M273.1 121l4.6 4.6m0-4.6l-4.6 4.6M198 261.8l4.6 4.6m0-4.6l-4.6 4.6M160.4 56.4l4.6 4.6m0-4.6l-4.6 4.6M99.2 112.1l4.6 4.6m0-4.6l-4.6 4.6M98.2 94.3l4.6 4.6m0-4.6l-4.6 4.6"/>
<path fill="none" stroke="#EE4848" stroke-width="1.35" d="M142.1 138.3l4.6 4.6m0-4.6l-4.6 4.6M141.9 157.3l4.6 4.6m0-4.6l-4.6 4.6M145.9 183.6l4.6 4.6m0-4.6l-4.6 4.6M141.3 156.1l4.6 4.6m0-4.6l-4.6 4.6M204.5 213.1l4.6 4.6m0-4.6l-4.6 4.6M162.1 199.3l4.6 4.6m0-4.6l-4.6 4.6M149.4 154.5l4.6 4.6m0-4.6l-4.6 4.6M144.4 176.2l4.6 4.6m0-4.6l-4.6 4.6M242.6 168.1l4.6 4.6m0-4.6l-4.6 4.6M195.4 118.9l4.6 4.6m0-4.6l-4.6 4.6M164.3 193.5l4.6 4.6m0-4.6l-4.6 4.6M239.9 174.5l4.6 4.6m0-4.6l-4.6 4.6M247.6 169.4l4.6 4.6m0-4.6l-4.6 4.6M221.3 123.3l4.6 4.6m0-4.6l-4.6 4.6M150.7 132.1l4.6 4.6m0-4.6l-4.6 4.6M218.6 184.5l4.6 4.6m0-4.6l-4.6 4.6M235.3 167.3l4.6 4.6m0-4.6l-4.6 4.6M159.8 116.5l4.6 4.6m0-4.6l-4.6 4.6M234.6 192.7l4.6 4.6m0-4.6l-4.6 4.6M154.5 116.5l4.6 4.6m0-4.6l-4.6 4.6M204 207.1l4.6 4.6m0-4.6l-4.6 4.6M162.8 122.6l4.6 4.6m0-4.6l-4.6 4.6M148.6 196.6l4.6 4.6m0-4.6l-4.6 4.6M147.2 175.3l4.6 4.6m0-4.6l-4.6 4.6M234.5 173.5l4.6 4.6m0-4.6l-4.6 4.6M160.4 208.6l4.6 4.6m0-4.6l-4.6 4.6M155.4 196.7l4.6 4.6m0-4.6l-4.6 4.6M238.9 171.2l4.6 4.6m0-4.6l-4.6 4.6M234.2 148.3l4.6 4.6m0-4.6l-4.6 4.6M175 111.3l4.6 4.6m0-4.6l-4.6 4.6M235.4 188l4.6 4.6m0-4.6l-4.6 4.6M212.7 205.6l4.6 4.6m0-4.6l-4.6 4.6M144.9 178.9l4.6 4.6m0-4.6l-4.6 4.6M154.6 135.4l4.6 4.6m0-4.6l-4.6 4.6M162.9 123.5l4.6 4.6m0-4.6l-4.6 4.6M228.3 127.4l4.6 4.6m0-4.6l-4.6 4.6M221 107.6l4.6 4.6m0-4.6l-4.6 4.6M187 108.7l4.6 4.6m0-4.6l-4.6 4.6M210.6 107.5l4.6 4.6m0-4.6l-4.6 4.6M234.9 130.7l4.6 4.6m0-4.6l-4.6 4.6M209 209.2l4.6 4.6m0-4.6l-4.6 4.6M226.3 199.1l4.6 4.6m0-4.6l-4.6 4.6M232.1 173.9l4.6 4.6m0-4.6l-4.6 4.6M186.1 107.9l4.6 4.6m0-4.6l-4.6 4.6M166.4 190.5l4.6 4.6m0-4.6l-4.6 4.6M193.2 111.6l4.6 4.6m0-4.6l-4.6 4.6M220.5 117.2l4.6 4.6m0-4.6l-4.6 4.6M138.1 164.1l4.6 4.6m0-4.6l-4.6 4.6M241 190.5l4.6 4.6m0-4.6l-4.6 4.6M140.6 136.2l4.6 4.6m0-4.6l-4.6 4.6M178.7 108.5l4.6 4.6m0-4.6l-4.6 4.6M174.7 202.6l4.6 4.6m0-4.6l-4.6 4.6M153.3 133.8l4.6 4.6m0-4.6l-4.6 4.6M200.3 213.3l4.6 4.6m0-4.6l-4.6 4.6M187.7 208.9l4.6 4.6m0-4.6l-4.6 4.6M176.2 105.5l4.6 4.6m0-4.6l-4.6 4.6M165.3 115.6l4.6 4.6m0-4.6l-4.6 4.6M210.2 112.9l4.6 4.6m0-4.6l-4.6 4.6M164.5 116l4.6 4.6m0-4.6l-4.6 4.6M173.5 205.8l4.6 4.6m0-4.6l-4.6 4.6M167.4 116.8l4.6 4.6m0-4.6l-4.6 4.6M232.8 197.3l4.6 4.6m0-4.6l-4.6 4.6M230.5 128.1l4.6 4.6m0-4.6l-4.6 4.6M188.4 116.8l4.6 4.6m0-4.6l-4.6 4.6M157.5 208.4l4.6 4.6m0-4.6l-4.6 4.6M172.7 114.6l4.6 4.6m0-4.6l-4.6 4.6M238.7 193.9l4.6 4.6m0-4.6l-4.6 4.6M239.3 130l4.6 4.6m0-4.6l-4.6 4.6M243.8 140.9l4.6 4.6m0-4.6l-4.6 4.6M246.8 174.5l4.6 4.6m0-4.6l-4.6 4.6M255.9 158.6l4.6 4.6m0-4.6l-4.6 4.6M238.2 139l4.6 4.6m0-4.6l-4.6 4.6M245 146.6l4.6 4.6m0-4.6l-4.6 4.6M179.3 204.7l4.6 4.6m0-4.6l-4.6 4.6M230.3 196l4.6 4.6m0-4.6l-4.6 4.6M153.4 139.5l4.6 4.6m0-4.6l-4.6 4.6M143.3 188.5l4.6 4.6m0-4.6l-4.6 4.6M190.3 114.2l4.6 4.6m0-4.6l-4.6 4.6M174.2 205.3l4.6 4.6m0-4.6l-4.6 4.6M193.1 201.3l4.6 4.6m0-4.6l-4.6 4.6M235.3 189l4.6 4.6m0-4.6l-4.6 4.6M208.9 204.2l4.6 4.6m0-4.6l-4.6 4.6M228.1 174.9l4.6 4.6m0-4.6l-4.6 4.6M130.2 159.8l4.6 4.6m0-4.6l-4.6 4.6M134.9 150.8l4.6 4.6m0-4.6l-4.6 4.6M139.4 171.2l4.6 4.6m0-4.6l-4.6 4.6M154.4 194.5l4.6 4.6m0-4.6l-4.6 4.6M227.1 135.4l4.6 4.6m0-4.6l-4.6 4.6M215.1 211.8l4.6 4.6m0-4.6l-4.6 4.6M143.8 150l4.6 4.6m0-4.6l-4.6 4.6M247.1 168.2l4.6 4.6m0-4.6l-4.6 4.6M136.6 158.9l4.6 4.6m0-4.6l-4.6 4.6M147.9 187.1l4.6 4.6m0-4.6l-4.6 4.6M229.5 131.7l4.6 4.6m0-4.6l-4.6 4.6M136.9 153.9l4.6 4.6m0-4.6l-4.6 4.6M222 204.2l4.6 4.6m0-4.6l-4.6 4.6M233.8 184.3l4.6 4.6m0-4.6l-4.6 4.6M140.6 139.7l4.6 4.6m0-4.6l-4.6 4.6M239.2 154.7l4.6 4.6m0-4.6l-4.6 4.6M200.9 120.3l4.6 4.6m0-4.6l-4.6 4.6M204.6 115.3l4.6 4.6m0-4.6l-4.6 4.6M256.5 152.3l4.6 4.6m0-4.6l-4.6 4.6M150.3 143.5l4.6 4.6m0-4.6l-4.6 4.6M148.9 182.7l4.6 4.6m0-4.6l-4.6 4.6M146.8 132.8l4.6 4.6m0-4.6l-4.6 4.6M140.9 171.6l4.6 4.6m0-4.6l-4.6 4.6M237.9 128.6l4.6 4.6m0-4.6l-4.6 4.6M139.2 146.1l4.6 4.6m0-4.6l-4.6 4.6M189.9 203l4.6 4.6m0-4.6l-4.6 4.6M221.6 117.7l4.6 4.6m0-4.6l-4.6 4.6M198.1 208.8l4.6 4.6m0-4.6l-4.6 4.6M145.8 146.9l4.6 4.6m0-4.6l-4.6 4.6M146.7 127.1l4.6 4.6m0-4.6l-4.6 4.6M161.5 116.2l4.6 4.6m0-4.6l-4.6 4.6M143.8 194l4.6 4.6m0-4.6l-4.6 4.6M203.9 210.4l4.6 4.6m0-4.6l-4.6 4.6M143 172.2l4.6 4.6m0-4.6l-4.6 4.6M191.2 110l4.6 4.6m0-4.6l-4.6 4.6M229.6 192.2l4.6 4.6m0-4.6l-4.6 4.6M215.1 112.9l4.6 4.6m0-4.6l-4.6 4.6M235.4 190.3l4.6 4.6m0-4.6l-4.6 4.6M212.6 121.7l4.6 4.6m0-4.6l-4.6 4.6M165.8 203.5l4.6 4.6m0-4.6l-4.6 4.6M132.5 181.8l4.6 4.6m0-4.6l-4.6 4.6M207.6 199.8l4.6 4.6m0-4.6l-4.6 4.6M218.3 119.6l4.6 4.6m0-4.6l-4.6 4.6M143.2 145.5l4.6 4.6m0-4.6l-4.6 4.6M204.2 203.8l4.6 4.6m0-4.6l-4.6 4.6M155.5 197.9l4.6 4.6m0-4.6l-4.6 4.6M208.1 123.8l4.6 4.6m0-4.6l-4.6 4.6M216.9 106.1l4.6 4.6m0-4.6l-4.6 4.6M152.8 141l4.6 4.6m0-4.6l-4.6 4.6M146.2 173.2l4.6 4.6m0-4.6l-4.6 4.6M132.1 176.9l4.6 4.6m0-4.6l-4.6 4.6M233.1 131.1l4.6 4.6m0-4.6l-4.6 4.6M211.3 106.9l4.6 4.6m0-4.6l-4.6 4.6M165.4 198.4l4.6 4.6m0-4.6l-4.6 4.6M168.8 207.3l4.6 4.6m0-4.6l-4.6 4.6M211.9 115l4.6 4.6m0-4.6l-4.6 4.6M195.5 209.6l4.6 4.6m0-4.6l-4.6 4.6M140.4 171l4.6 4.6m0-4.6l-4.6 4.6M208.4 118l4.6 4.6m0-4.6l-4.6 4.6M147.7 131.5l4.6 4.6m0-4.6l-4.6 4.6M206.3 111.5l4.6 4.6m0-4.6l-4.6 4.6M144.7 188.9l4.6 4.6m0-4.6l-4.6 4.6M154.5 116.8l4.6 4.6m0-4.6l-4.6 4.6M197.9 109.6l4.6 4.6m0-4.6l-4.6 4.6M189.9 210.4l4.6 4.6m0-4.6l-4.6 4.6M244 177.8l4.6 4.6m0-4.6l-4.6 4.6M235.5 182.8l4.6 4.6m0-4.6l-4.6 4.6M174 199.5l4.6 4.6m0-4.6l-4.6 4.6M196.5 97.1l4.6 4.6m0-4.6l-4.6 4.6M249.7 145.9l4.6 4.6m0-4.6l-4.6 4.6M152.3 129.9l4.6 4.6m0-4.6l-4.6 4.6M149.3 190.1l4.6 4.6m0-4.6l-4.6 4.6M149.6 185.3l4.6 4.6m0-4.6l-4.6 4.6M225.3 116.5l4.6 4.6m0-4.6l-4.6 4.6M161.7 188.5l4.6 4.6m0-4.6l-4.6 4.6M145.1 152.7l4.6 4.6m0-4.6l-4.6 4.6M171.7 114.2l4.6 4.6m0-4.6l-4.6 4.6M211.5 209.1l4.6 4.6m0-4.6l-4.6 4.6M219 198.7l4.6 4.6m0-4.6l-4.6 4.6M234.7 120.7l4.6 4.6m0-4.6l-4.6 4.6M138.8 168.3l4.6 4.6m0-4.6l-4.6 4.6M158 190.3l4.6 4.6m0-4.6l-4.6 4.6M147 115.6l4.6 4.6m0-4.6l-4.6 4.6M241.8 176l4.6 4.6m0-4.6l-4.6 4.6M136.5 164.8l4.6 4.6m0-4.6l-4.6 4.6M239.4 158.6l4.6 4.6m0-4.6l-4.6 4.6M172.2 201.6l4.6 4.6m0-4.6l-4.6 4.6M221.1 122.6l4.6 4.6m0-4.6l-4.6 4.6M242.4 160.2l4.6 4.6m0-4.6l-4.6 4.6M158 199.2l4.6 4.6m0-4.6l-4.6 4.6M242.1 158.5l4.6 4.6m0-4.6l-4.6 4.6M197.4 204.5l4.6 4.6m0-4.6l-4.6 4.6M184.8 216.7l4.6 4.6m0-4.6l-4.6 4.6M223.3 112.1l4.6 4.6m0-4.6l-4.6 4.6M244.1 138.1l4.6 4.6m0-4.6l-4.6 4.6M165.3 118.2l4.6 4.6m0-4.6l-4.6 4.6M202.8 209.5l4.6 4.6m0-4.6l-4.6 4.6M181.5 198.8l4.6 4.6m0-4.6l-4.6 4.6M242.6 144.3l4.6 4.6m0-4.6l-4.6 4.6M224.1 112l4.6 4.6m0-4.6l-4.6 4.6M186.3 200.9l4.6 4.6m0-4.6l-4.6 4.6M232.4 197.8l4.6 4.6m0-4.6l-4.6 4.6M170.8 112.6l4.6 4.6m0-4.6l-4.6 4.6M215.6 193.4l4.6 4.6m0-4.6l-4.6 4.6M206.4 115.6l4.6 4.6m0-4.6l-4.6 4.6M146.4 160.5l4.6 4.6m0-4.6l-4.6 4.6M227.6 187.4l4.6 4.6m0-4.6l-4.6 4.6M156.3 176.9l4.6 4.6m0-4.6l-4.6 4.6M238.4 133.7l4.6 4.6m0-4.6l-4.6 4.6M193.5 206.9l4.6 4.6m0-4.6l-4.6 4.6M176.8 215.2l4.6 4.6m0-4.6l-4.6 4.6M157.5 129.9l4.6 4.6m0-4.6l-4.6 4.6M214.7 125.7l4.6 4.6m0-4.6l-4.6 4.6M212.1 204.1l4.6 4.6m0-4.6l-4.6 4.6M238.8 158.7l4.6 4.6m0-4.6l-4.6 4.6M249.6 182.4l4.6 4.6m0-4.6l-4.6 4.6M249.8 172.1l4.6 4.6m0-4.6l-4.6 4.6M205 114.3l4.6 4.6m0-4.6l-4.6 4.6M144.3 138.1l4.6 4.6m0-4.6l-4.6 4.6M246.6 128.7l4.6 4.6m0-4.6l-4.6 4.6M148.8 195.4l4.6 4.6m0-4.6l-4.6 4.6M191.9 116.1l4.6 4.6m0-4.6l-4.6 4.6M249.5 156.1l4.6 4.6m0-4.6l-4.6 4.6M147.8 177.3l4.6 4.6m0-4.6l-4.6 4.6M194.1 211.3l4.6 4.6m0-4.6l-4.6 4.6M239 183.5l4.6 4.6m0-4.6l-4.6 4.6M176.7 200.1l4.6 4.6m0-4.6l-4.6 4.6M235.2 142.8l4.6 4.6m0-4.6l-4.6 4.6M177.9 206.9l4.6 4.6m0-4.6l-4.6 4.6M138.2 150.2l4.6 4.6m0-4.6l-4.6 4.6M163.1 126.1l4.6 4.6m0-4.6l-4.6 4.6M231.6 189.7l4.6 4.6m0-4.6l-4.6 4.6M151 123.7l4.6 4.6m0-4.6l-4.6 4.6M243.5 141.4l4.6 4.6m0-4.6l-4.6 4.6M189.7 115l4.6 4.6m0-4.6l-4.6 4.6M139.9 176.7l4.6 4.6m0-4.6l-4.6 4.6M236.6 135.9l4.6 4.6m0-4.6l-4.6 4.6M169.4 109.3l4.6 4.6m0-4.6l-4.6 4.6M240.8 164.5l4.6 4.6m0-4.6l-4.6 4.6M205.5 117.3l4.6 4.6m0-4.6l-4.6 4.6M243.2 173.2l4.6 4.6m0-4.6l-4.6 4.6M187.3 120.8l4.6 4.6m0-4.6l-4.6 4.6M135 142.9l4.6 4.6m0-4.6l-4.6 4.6M231.1 203.8l4.6 4.6m0-4.6l-4.6 4.6M188.4 211l4.6 4.6m0-4.6l-4.6 4.6M244.2 155.2l4.6 4.6m0-4.6l-4.6 4.6M156 129.7l4.6 4.6m0-4.6l-4.6 4.6M243.7 152.9l4.6 4.6m0-4.6l-4.6 4.6M186.8 101.6l4.6 4.6m0-4.6l-4.6 4.6M212.6 201.8l4.6 4.6m0-4.6l-4.6 4.6M229.7 133.4l4.6 4.6m0-4.6l-4.6 4.6M195.4 206.1l4.6 4.6m0-4.6l-4.6 4.6M143 183.1l4.6 4.6m0-4.6l-4.6 4.6M217.1 104l4.6 4.6m0-4.6l-4.6 4.6M167.9 198l4.6 4.6m0-4.6l-4.6 4.6M149.4 120.9l4.6 4.6m0-4.6l-4.6 4.6M246.6 151.8l4.6 4.6m0-4.6l-4.6 4.6M198.8 102.1l4.6 4.6m0-4.6l-4.6 4.6M140.1 137.6l4.6 4.6m0-4.6l-4.6 4.6M141.7 157.3l4.6 4.6m0-4.6l-4.6 4.6M214.1 207.4l4.6 4.6m0-4.6l-4.6 4.6M165.3 117.3l4.6 4.6m0-4.6l-4.6 4.6M222.7 196.2l4.6 4.6m0-4.6l-4.6 4.6M252.2 155.9l4.6 4.6m0-4.6l-4.6 4.6M241.3 141.8l4.6 4.6m0-4.6l-4.6 4.6M142 120l4.6 4.6m0-4.6l-4.6 4.6M180.4 215.3l4.6 4.6m0-4.6l-4.6 4.6"/>
<path fill="none" stroke="#000" stroke-width="1.35" d="M482.8 138.3l4.6 4.6m0-4.6l-4.6 4.6M514.8 60.8l4.6 4.6m0-4.6l-4.6 4.6M482.6 157.3l4.6 4.6m0-4.6l-4.6 4.6M461.7 225l4.6 4.6m0-4.6l-4.6 4.6M445.4 100l4.6 4.6m0-4.6l-4.6 4.6M486.6 183.6l4.6 4.6m0-4.6l-4.6 4.6M482 156.1l4.6 4.6m0-4.6l-4.6 4.6M429.9 151.5l4.6 4.6m0-4.6l-4.6 4.6M514 64.7l4.6 4.6m0-4.6l-4.6 4.6M545.3 213.1l4.6 4.6m0-4.6l-4.6 4.6M634.6 139l4.6 4.6m0-4.6l-4.6 4.6M555.4 264.3l4.6 4.6m0-4.6l-4.6 4.6M502.8 199.3l4.6 4.6m0-4.6l-4.6 4.6M471.6 77.8l4.6 4.6m0-4.6l-4.6 4.6M490.1 154.5l4.6 4.6m0-4.6l-4.6 4.6M485.1 176.2l4.6 4.6m0-4.6l-4.6 4.6M583.4 168.1l4.6 4.6m0-4.6l-4.6 4.6M608.6 88.4l4.6 4.6m0-4.6l-4.6 4.6M536.1 118.9l4.6 4.6m0-4.6l-4.6 4.6M505 193.5l4.6 4.6m0-4.6l-4.6 4.6M580.8 174.5l4.6 4.6m0-4.6l-4.6 4.6M588.5 169.4l4.6 4.6m0-4.6l-4.6 4.6M562.1 123.3l4.6 4.6m0-4.6l-4.6 4.6M491.4 132.1l4.6 4.6m0-4.6l-4.6 4.6M493.8 71.8l4.6 4.6m0-4.6l-4.6 4.6M559.4 184.5l4.6 4.6m0-4.6l-4.6 4.6M576.1 167.3l4.6 4.6m0-4.6l-4.6 4.6M592.3 242.9l4.6 4.6m0-4.6l-4.6 4.6M444.6 92.5l4.6 4.6m0-4.6l-4.6 4.6M500.5 116.5l4.6 4.6m0-4.6l-4.6 4.6M575.4 192.7l4.6 4.6m0-4.6l-4.6 4.6M495.2 116.5l4.6 4.6m0-4.6l-4.6 4.6M544.7 207.1l4.6 4.6m0-4.6l-4.6 4.6M495.1 252.2l4.6 4.6m0-4.6l-4.6 4.6M635.2 148.4l4.6 4.6m0-4.6l-4.6 4.6M503.5 122.6l4.6 4.6m0-4.6l-4.6 4.6M489.3 196.6l4.6 4.6m0-4.6l-4.6 4.6M517.9 60l4.6 4.6m0-4.6l-4.6 4.6M584.2 242.7l4.6 4.6m0-4.6l-4.6 4.6M531.6 55.3l4.6 4.6m0-4.6l-4.6 4.6M487.9 175.3l4.6 4.6m0-4.6l-4.6 4.6M447 89.1l4.6 4.6m0-4.6l-4.6 4.6M575.3 173.5l4.6 4.6m0-4.6l-4.6 4.6M521.6 268.4l4.6 4.6m0-4.6l-4.6 4.6M599.7 93.1l4.6 4.6m0-4.6l-4.6 4.6M502.9 63.6l4.6 4.6m0-4.6l-4.6 4.6M640.1 156.6l4.6 4.6m0-4.6l-4.6 4.6M637.1 126.4l4.6 4.6m0-4.6l-4.6 4.6M501.1 208.6l4.6 4.6m0-4.6l-4.6 4.6M616.7 107.1l4.6 4.6m0-4.6l-4.6 4.6M493.7 56.5l4.6 4.6m0-4.6l-4.6 4.6M507.6 255.3l4.6 4.6m0-4.6l-4.6 4.6M427.5 172.9l4.6 4.6m0-4.6l-4.6 4.6M496.1 196.7l4.6 4.6m0-4.6l-4.6 4.6M543.9 261l4.6 4.6m0-4.6l-4.6 4.6M546.9 53.5l4.6 4.6m0-4.6l-4.6 4.6M446.1 212.8l4.6 4.6m0-4.6l-4.6 4.6M621.6 116.8l4.6 4.6m0-4.6l-4.6 4.6M569 253.2l4.6 4.6m0-4.6l-4.6 4.6M485.8 58.9l4.6 4.6m0-4.6l-4.6 4.6M579.8 171.2l4.6 4.6m0-4.6l-4.6 4.6M575 148.3l4.6 4.6m0-4.6l-4.6 4.6M515.7 111.3l4.6 4.6m0-4.6l-4.6 4.6M576.2 188l4.6 4.6m0-4.6l-4.6 4.6M481.8 64.5l4.6 4.6m0-4.6l-4.6 4.6M589.6 73.1l4.6 4.6m0-4.6l-4.6 4.6M553.5 205.6l4.6 4.6m0-4.6l-4.6 4.6M567.7 66.9l4.6 4.6m0-4.6l-4.6 4.6M639.3 191.2l4.6 4.6m0-4.6l-4.6 4.6M485.5 178.9l4.6 4.6m0-4.6l-4.6 4.6M495.3 135.4l4.6 4.6m0-4.6l-4.6 4.6M503.6 123.5l4.6 4.6m0-4.6l-4.6 4.6M569.1 127.4l4.6 4.6m0-4.6l-4.6 4.6M561.8 107.6l4.6 4.6m0-4.6l-4.6 4.6M527.7 108.7l4.6 4.6m0-4.6l-4.6 4.6M551.4 107.5l4.6 4.6m0-4.6l-4.6 4.6M575.7 130.7l4.6 4.6m0-4.6l-4.6 4.6M511 64l4.6 4.6m0-4.6l-4.6 4.6M549.8 209.2l4.6 4.6m0-4.6l-4.6 4.6M567.1 199.1l4.6 4.6m0-4.6l-4.6 4.6M435.6 227.2l4.6 4.6m0-4.6l-4.6 4.6M479.9 66.7l4.6 4.6m0-4.6l-4.6 4.6M572.9 173.9l4.6 4.6m0-4.6l-4.6 4.6M499.5 253.7l4.6 4.6m0-4.6l-4.6 4.6M526.9 107.9l4.6 4.6m0-4.6l-4.6 4.6M466.4 78.3l4.6 4.6m0-4.6l-4.6 4.6M512.6 256.2l4.6 4.6m0-4.6l-4.6 4.6M507.1 190.5l4.6 4.6m0-4.6l-4.6 4.6M533.9 111.6l4.6 4.6m0-4.6l-4.6 4.6M561.3 117.2l4.6 4.6m0-4.6l-4.6 4.6M478.8 164.1l4.6 4.6m0-4.6l-4.6 4.6M581.9 190.5l4.6 4.6m0-4.6l-4.6 4.6M481.3 136.2l4.6 4.6m0-4.6l-4.6 4.6M519.4 108.5l4.6 4.6m0-4.6l-4.6 4.6M515.5 202.6l4.6 4.6m0-4.6l-4.6 4.6M494 133.8l4.6 4.6m0-4.6l-4.6 4.6M476.2 86.6l4.6 4.6m0-4.6l-4.6 4.6M511.8 69.8l4.6 4.6m0-4.6l-4.6 4.6M541 213.3l4.6 4.6m0-4.6l-4.6 4.6M632.3 127.1l4.6 4.6m0-4.6l-4.6 4.6M641.9 163l4.6 4.6m0-4.6l-4.6 4.6M528.5 208.9l4.6 4.6m0-4.6l-4.6 4.6M617.8 110.9l4.6 4.6m0-4.6l-4.6 4.6M516.9 105.5l4.6 4.6m0-4.6l-4.6 4.6M506.1 115.6l4.6 4.6m0-4.6l-4.6 4.6M557.8 48.8l4.6 4.6m0-4.6l-4.6 4.6M551 112.9l4.6 4.6m0-4.6l-4.6 4.6M620.5 213.7l4.6 4.6m0-4.6l-4.6 4.6M505.2 116l4.6 4.6m0-4.6l-4.6 4.6M439.1 177.8l4.6 4.6m0-4.6l-4.6 4.6M425.5 188.8l4.6 4.6m0-4.6l-4.6 4.6M514.2 205.8l4.6 4.6m0-4.6l-4.6 4.6M508.1 116.8l4.6 4.6m0-4.6l-4.6 4.6M620.7 104.5l4.6 4.6m0-4.6l-4.6 4.6M573.6 197.3l4.6 4.6m0-4.6l-4.6 4.6M571.3 128.1l4.6 4.6m0-4.6l-4.6 4.6M638.9 163.6l4.6 4.6m0-4.6l-4.6 4.6M625 199.6l4.6 4.6m0-4.6l-4.6 4.6M430.8 141.8l4.6 4.6m0-4.6l-4.6 4.6M584.9 78.8l4.6 4.6m0-4.6l-4.6 4.6M600.1 226.7l4.6 4.6m0-4.6l-4.6 4.6M500.3 265.6l4.6 4.6m0-4.6l-4.6 4.6M529.2 116.8l4.6 4.6m0-4.6l-4.6 4.6M465.6 227.1l4.6 4.6m0-4.6l-4.6 4.6M627.1 197l4.6 4.6m0-4.6l-4.6 4.6M627.4 204l4.6 4.6m0-4.6l-4.6 4.6M498.2 208.4l4.6 4.6m0-4.6l-4.6 4.6M572.9 247.5l4.6 4.6m0-4.6l-4.6 4.6M427.2 170l4.6 4.6m0-4.6l-4.6 4.6M513.4 114.6l4.6 4.6m0-4.6l-4.6 4.6M605.4 100.5l4.6 4.6m0-4.6l-4.6 4.6M436.1 128.9l4.6 4.6m0-4.6l-4.6 4.6M579.5 193.9l4.6 4.6m0-4.6l-4.6 4.6M580.2 130l4.6 4.6m0-4.6l-4.6 4.6M425.4 183l4.6 4.6m0-4.6l-4.6 4.6M544.1 57.9l4.6 4.6m0-4.6l-4.6 4.6M547.1 262.6l4.6 4.6m0-4.6l-4.6 4.6M627.9 101.3l4.6 4.6m0-4.6l-4.6 4.6M626.2 117.2l4.6 4.6m0-4.6l-4.6 4.6M584.6 140.9l4.6 4.6m0-4.6l-4.6 4.6M527.4 68.2l4.6 4.6m0-4.6l-4.6 4.6M579.6 256.9l4.6 4.6m0-4.6l-4.6 4.6M587.7 174.5l4.6 4.6m0-4.6l-4.6 4.6M460.7 94.2l4.6 4.6m0-4.6l-4.6 4.6M596.7 158.6l4.6 4.6m0-4.6l-4.6 4.6M579 139l4.6 4.6m0-4.6l-4.6 4.6M622 101.5l4.6 4.6m0-4.6l-4.6 4.6M615.4 224.7l4.6 4.6m0-4.6l-4.6 4.6M585.8 146.6l4.6 4.6m0-4.6l-4.6 4.6M520.1 204.7l4.6 4.6m0-4.6l-4.6 4.6M639.9 143.6l4.6 4.6m0-4.6l-4.6 4.6M427.6 134.6l4.6 4.6m0-4.6l-4.6 4.6M580 75.4l4.6 4.6m0-4.6l-4.6 4.6M626.9 117.2l4.6 4.6m0-4.6l-4.6 4.6M571.2 196l4.6 4.6m0-4.6l-4.6 4.6M494.1 139.5l4.6 4.6m0-4.6l-4.6 4.6M637.7 147.8l4.6 4.6m0-4.6l-4.6 4.6M592.4 223.7l4.6 4.6m0-4.6l-4.6 4.6M484 188.5l4.6 4.6m0-4.6l-4.6 4.6M542.1 71.3l4.6 4.6m0-4.6l-4.6 4.6M422.6 115.4l4.6 4.6m0-4.6l-4.6 4.6M531.1 114.2l4.6 4.6m0-4.6l-4.6 4.6M514.9 205.3l4.6 4.6m0-4.6l-4.6 4.6M610 87.5l4.6 4.6m0-4.6l-4.6 4.6M533.8 201.3l4.6 4.6m0-4.6l-4.6 4.6M576.1 189l4.6 4.6m0-4.6l-4.6 4.6M613.3 100.7l4.6 4.6m0-4.6l-4.6 4.6M634.8 132.6l4.6 4.6m0-4.6l-4.6 4.6M549.7 204.2l4.6 4.6m0-4.6l-4.6 4.6M424.9 114.5l4.6 4.6m0-4.6l-4.6 4.6M606.4 83.9l4.6 4.6m0-4.6l-4.6 4.6M475.9 230.3l4.6 4.6m0-4.6l-4.6 4.6M568.9 174.9l4.6 4.6m0-4.6l-4.6 4.6M435.8 131.8l4.6 4.6m0-4.6l-4.6 4.6M434.9 124.2l4.6 4.6m0-4.6l-4.6 4.6M493.4 257.7l4.6 4.6m0-4.6l-4.6 4.6M470.8 159.8l4.6 4.6m0-4.6l-4.6 4.6M518.9 256.8l4.6 4.6m0-4.6l-4.6 4.6M443.5 209.9l4.6 4.6m0-4.6l-4.6 4.6M475.6 150.8l4.6 4.6m0-4.6l-4.6 4.6M480.1 171.2l4.6 4.6m0-4.6l-4.6 4.6M548.3 259.9l4.6 4.6m0-4.6l-4.6 4.6M495.1 194.5l4.6 4.6m0-4.6l-4.6 4.6M567.9 135.4l4.6 4.6m0-4.6l-4.6 4.6M555.9 211.8l4.6 4.6m0-4.6l-4.6 4.6M442.9 201.8l4.6 4.6m0-4.6l-4.6 4.6M484.4 150l4.6 4.6m0-4.6l-4.6 4.6M515.3 58.8l4.6 4.6m0-4.6l-4.6 4.6M593.6 244.9l4.6 4.6m0-4.6l-4.6 4.6M482.3 243.4l4.6 4.6m0-4.6l-4.6 4.6M587.9 168.2l4.6 4.6m0-4.6l-4.6 4.6M477.3 158.9l4.6 4.6m0-4.6l-4.6 4.6M488.6 187.1l4.6 4.6m0-4.6l-4.6 4.6M570.3 131.7l4.6 4.6m0-4.6l-4.6 4.6M431.8 115.7l4.6 4.6m0-4.6l-4.6 4.6M633 167.6l4.6 4.6m0-4.6l-4.6 4.6M442.5 207.4l4.6 4.6m0-4.6l-4.6 4.6M473.1 93.8l4.6 4.6m0-4.6l-4.6 4.6M451 216.4l4.6 4.6m0-4.6l-4.6 4.6M477.6 153.9l4.6 4.6m0-4.6l-4.6 4.6M562.8 204.2l4.6 4.6m0-4.6l-4.6 4.6M487.4 74l4.6 4.6m0-4.6l-4.6 4.6M633.5 182.4l4.6 4.6m0-4.6l-4.6 4.6M468.3 236.3l4.6 4.6m0-4.6l-4.6 4.6M473 235l4.6 4.6m0-4.6l-4.6 4.6M567.3 260.1l4.6 4.6m0-4.6l-4.6 4.6M633.8 202l4.6 4.6m0-4.6l-4.6 4.6M499.1 81.4l4.6 4.6m0-4.6l-4.6 4.6M574.7 184.3l4.6 4.6m0-4.6l-4.6 4.6M481.3 139.7l4.6 4.6m0-4.6l-4.6 4.6M580 154.7l4.6 4.6m0-4.6l-4.6 4.6M428.7 139.5l4.6 4.6m0-4.6l-4.6 4.6M541.6 120.3l4.6 4.6m0-4.6l-4.6 4.6M545.3 115.3l4.6 4.6m0-4.6l-4.6 4.6M597.4 152.3l4.6 4.6m0-4.6l-4.6 4.6M491 143.5l4.6 4.6m0-4.6l-4.6 4.6M489.6 182.7l4.6 4.6m0-4.6l-4.6 4.6M621.2 214.9l4.6 4.6m0-4.6l-4.6 4.6M487.4 132.8l4.6 4.6m0-4.6l-4.6 4.6M619.5 202.9l4.6 4.6m0-4.6l-4.6 4.6M481.6 171.6l4.6 4.6m0-4.6l-4.6 4.6M578.7 128.6l4.6 4.6m0-4.6l-4.6 4.6M603.8 76l4.6 4.6m0-4.6l-4.6 4.6M555.3 253.2l4.6 4.6m0-4.6l-4.6 4.6M438.9 196.3l4.6 4.6m0-4.6l-4.6 4.6M479.8 146.1l4.6 4.6m0-4.6l-4.6 4.6M633 169.2l4.6 4.6m0-4.6l-4.6 4.6M530.6 203l4.6 4.6m0-4.6l-4.6 4.6M562.4 117.7l4.6 4.6m0-4.6l-4.6 4.6M542 64.7l4.6 4.6m0-4.6l-4.6 4.6M433.5 123.2l4.6 4.6m0-4.6l-4.6 4.6M466.9 87.5l4.6 4.6m0-4.6l-4.6 4.6M538.9 208.8l4.6 4.6m0-4.6l-4.6 4.6M631.4 136.2l4.6 4.6m0-4.6l-4.6 4.6M486.5 146.9l4.6 4.6m0-4.6l-4.6 4.6M487.4 127.1l4.6 4.6m0-4.6l-4.6 4.6M502.2 116.2l4.6 4.6m0-4.6l-4.6 4.6M466.2 230.3l4.6 4.6m0-4.6l-4.6 4.6M454.3 217.4l4.6 4.6m0-4.6l-4.6 4.6M500.6 255.8l4.6 4.6m0-4.6l-4.6 4.6M484.5 194l4.6 4.6m0-4.6l-4.6 4.6M519.8 257.2l4.6 4.6m0-4.6l-4.6 4.6M544.7 210.4l4.6 4.6m0-4.6l-4.6 4.6M638.2 139l4.6 4.6m0-4.6l-4.6 4.6M483.7 172.2l4.6 4.6m0-4.6l-4.6 4.6M457.3 107.9l4.6 4.6m0-4.6l-4.6 4.6M483.3 64.3l4.6 4.6m0-4.6l-4.6 4.6M590.3 70.5l4.6 4.6m0-4.6l-4.6 4.6M531.9 110l4.6 4.6m0-4.6l-4.6 4.6M479.2 240.2l4.6 4.6m0-4.6l-4.6 4.6M570.4 192.2l4.6 4.6m0-4.6l-4.6 4.6M555.9 112.9l4.6 4.6m0-4.6l-4.6 4.6M576.3 190.3l4.6 4.6m0-4.6l-4.6 4.6M559 261.3l4.6 4.6m0-4.6l-4.6 4.6M553.4 121.7l4.6 4.6m0-4.6l-4.6 4.6M506.5 203.5l4.6 4.6m0-4.6l-4.6 4.6M443.4 214.9l4.6 4.6m0-4.6l-4.6 4.6M473.2 181.8l4.6 4.6m0-4.6l-4.6 4.6M437.3 220.7l4.6 4.6m0-4.6l-4.6 4.6M548.4 199.8l4.6 4.6m0-4.6l-4.6 4.6M559.1 119.6l4.6 4.6m0-4.6l-4.6 4.6M425.7 157.6l4.6 4.6m0-4.6l-4.6 4.6M483.9 145.5l4.6 4.6m0-4.6l-4.6 4.6M449.3 92.5l4.6 4.6m0-4.6l-4.6 4.6M444.5 199.5l4.6 4.6m0-4.6l-4.6 4.6M637.1 179.7l4.6 4.6m0-4.6l-4.6 4.6M545 203.8l4.6 4.6m0-4.6l-4.6 4.6M452.8 96.6l4.6 4.6m0-4.6l-4.6 4.6M496.2 197.9l4.6 4.6m0-4.6l-4.6 4.6M417.3 153.2l4.6 4.6m0-4.6l-4.6 4.6M522 261.5l4.6 4.6m0-4.6l-4.6 4.6M568.3 253.4l4.6 4.6m0-4.6l-4.6 4.6M643.3 171.1l4.6 4.6m0-4.6l-4.6 4.6M548.9 123.8l4.6 4.6m0-4.6l-4.6 4.6M557.7 106.1l4.6 4.6m0-4.6l-4.6 4.6M493.5 141l4.6 4.6m0-4.6l-4.6 4.6M486.9 173.2l4.6 4.6m0-4.6l-4.6 4.6M472.8 176.9l4.6 4.6m0-4.6l-4.6 4.6M573.9 131.1l4.6 4.6m0-4.6l-4.6 4.6M428.1 152.4l4.6 4.6m0-4.6l-4.6 4.6M552.1 106.9l4.6 4.6m0-4.6l-4.6 4.6M599.6 218.4l4.6 4.6m0-4.6l-4.6 4.6M506.2 198.4l4.6 4.6m0-4.6l-4.6 4.6M607.8 229.6l4.6 4.6m0-4.6l-4.6 4.6M431.1 170.2l4.6 4.6m0-4.6l-4.6 4.6M509.5 207.3l4.6 4.6m0-4.6l-4.6 4.6M552.7 115l4.6 4.6m0-4.6l-4.6 4.6M536.2 209.6l4.6 4.6m0-4.6l-4.6 4.6M481.1 171l4.6 4.6m0-4.6l-4.6 4.6M549.1 118l4.6 4.6m0-4.6l-4.6 4.6M488.4 131.5l4.6 4.6m0-4.6l-4.6 4.6M547.1 111.5l4.6 4.6m0-4.6l-4.6 4.6M485.4 188.9l4.6 4.6m0-4.6l-4.6 4.6M495.2 116.8l4.6 4.6m0-4.6l-4.6 4.6M434.2 127l4.6 4.6m0-4.6l-4.6 4.6M511 252.3l4.6 4.6m0-4.6l-4.6 4.6M538.7 109.6l4.6 4.6m0-4.6l-4.6 4.6M530.7 210.4l4.6 4.6m0-4.6l-4.6 4.6M584.8 177.8l4.6 4.6m0-4.6l-4.6 4.6M576.3 182.8l4.6 4.6m0-4.6l-4.6 4.6M514.8 199.5l4.6 4.6m0-4.6l-4.6 4.6M627.8 208.2l4.6 4.6m0-4.6l-4.6 4.6M537.2 97.1l4.6 4.6m0-4.6l-4.6 4.6M474.2 250.8l4.6 4.6m0-4.6l-4.6 4.6M432.1 186.6l4.6 4.6m0-4.6l-4.6 4.6M556.3 251.6l4.6 4.6m0-4.6l-4.6 4.6M590.5 145.9l4.6 4.6m0-4.6l-4.6 4.6M625.5 197.3l4.6 4.6m0-4.6l-4.6 4.6M422.7 138l4.6 4.6m0-4.6l-4.6 4.6M424.9 146.9l4.6 4.6m0-4.6l-4.6 4.6M493 129.9l4.6 4.6m0-4.6l-4.6 4.6M610.4 215.2l4.6 4.6m0-4.6l-4.6 4.6M489.9 190.1l4.6 4.6m0-4.6l-4.6 4.6M490.3 185.3l4.6 4.6m0-4.6l-4.6 4.6M427.6 159.2l4.6 4.6m0-4.6l-4.6 4.6M566.1 116.5l4.6 4.6m0-4.6l-4.6 4.6M502.4 188.5l4.6 4.6m0-4.6l-4.6 4.6M439.9 112.4l4.6 4.6m0-4.6l-4.6 4.6M485.8 152.7l4.6 4.6m0-4.6l-4.6 4.6M512.4 114.2l4.6 4.6m0-4.6l-4.6 4.6M426.9 184l4.6 4.6m0-4.6l-4.6 4.6M552.3 209.1l4.6 4.6m0-4.6l-4.6 4.6M579.9 70.8l4.6 4.6m0-4.6l-4.6 4.6M559.8 198.7l4.6 4.6m0-4.6l-4.6 4.6M522.5 56.4l4.6 4.6m0-4.6l-4.6 4.6M575.5 120.7l4.6 4.6m0-4.6l-4.6 4.6M471.7 78l4.6 4.6m0-4.6l-4.6 4.6M633.3 182.2l4.6 4.6m0-4.6l-4.6 4.6M522.8 258.4l4.6 4.6m0-4.6l-4.6 4.6M479.5 168.3l4.6 4.6m0-4.6l-4.6 4.6M469.4 235.8l4.6 4.6m0-4.6l-4.6 4.6M625.8 131.6l4.6 4.6m0-4.6l-4.6 4.6M602.8 78.9l4.6 4.6m0-4.6l-4.6 4.6M614.5 97.8l4.6 4.6m0-4.6l-4.6 4.6M491.3 244.8l4.6 4.6m0-4.6l-4.6 4.6M433 200.9l4.6 4.6m0-4.6l-4.6 4.6M498.7 190.3l4.6 4.6m0-4.6l-4.6 4.6M487.6 115.6l4.6 4.6m0-4.6l-4.6 4.6M616 228.1l4.6 4.6m0-4.6l-4.6 4.6M455 97l4.6 4.6m0-4.6l-4.6 4.6M562.3 57.7l4.6 4.6m0-4.6l-4.6 4.6M630.6 179.8l4.6 4.6m0-4.6l-4.6 4.6M582.6 176l4.6 4.6m0-4.6l-4.6 4.6M477.2 164.8l4.6 4.6m0-4.6l-4.6 4.6M497.5 259.2l4.6 4.6m0-4.6l-4.6 4.6M591.9 78.3l4.6 4.6m0-4.6l-4.6 4.6M580.2 158.6l4.6 4.6m0-4.6l-4.6 4.6M513 201.6l4.6 4.6m0-4.6l-4.6 4.6M572.8 235.8l4.6 4.6m0-4.6l-4.6 4.6M561.9 122.6l4.6 4.6m0-4.6l-4.6 4.6M583.2 160.2l4.6 4.6m0-4.6l-4.6 4.6M498.7 199.2l4.6 4.6m0-4.6l-4.6 4.6M632.8 144.6l4.6 4.6m0-4.6l-4.6 4.6M582.9 158.5l4.6 4.6m0-4.6l-4.6 4.6M538.1 204.5l4.6 4.6m0-4.6l-4.6 4.6M439.4 99l4.6 4.6m0-4.6l-4.6 4.6M620.5 220.9l4.6 4.6m0-4.6l-4.6 4.6M525.5 216.7l4.6 4.6m0-4.6l-4.6 4.6M596.1 239.6l4.6 4.6m0-4.6l-4.6 4.6M489.1 256.6l4.6 4.6m0-4.6l-4.6 4.6M445.5 88.5l4.6 4.6m0-4.6l-4.6 4.6M564.1 112.1l4.6 4.6m0-4.6l-4.6 4.6M603.6 232l4.6 4.6m0-4.6l-4.6 4.6M534.2 59.2l4.6 4.6m0-4.6l-4.6 4.6M564 67.3l4.6 4.6m0-4.6l-4.6 4.6M610.8 90.6l4.6 4.6m0-4.6l-4.6 4.6M585 138.1l4.6 4.6m0-4.6l-4.6 4.6M506 118.2l4.6 4.6m0-4.6l-4.6 4.6M569.1 251.6l4.6 4.6m0-4.6l-4.6 4.6M543.6 209.5l4.6 4.6m0-4.6l-4.6 4.6M614.6 92.2l4.6 4.6m0-4.6l-4.6 4.6M522.2 198.8l4.6 4.6m0-4.6l-4.6 4.6M625.7 208.3l4.6 4.6m0-4.6l-4.6 4.6M583.4 144.3l4.6 4.6m0-4.6l-4.6 4.6M564.9 112l4.6 4.6m0-4.6l-4.6 4.6M480.4 240.4l4.6 4.6m0-4.6l-4.6 4.6M527.1 200.9l4.6 4.6m0-4.6l-4.6 4.6M432.2 183.9l4.6 4.6m0-4.6l-4.6 4.6M542.1 61.7l4.6 4.6m0-4.6l-4.6 4.6M439.6 178.8l4.6 4.6m0-4.6l-4.6 4.6M439.9 168.9l4.6 4.6m0-4.6l-4.6 4.6M573.2 197.8l4.6 4.6m0-4.6l-4.6 4.6M637.6 137.5l4.6 4.6m0-4.6l-4.6 4.6M511.6 112.6l4.6 4.6m0-4.6l-4.6 4.6M556.4 193.4l4.6 4.6m0-4.6l-4.6 4.6M525.4 44l4.6 4.6m0-4.6l-4.6 4.6M547.2 115.6l4.6 4.6m0-4.6l-4.6 4.6M628.1 131.9l4.6 4.6m0-4.6l-4.6 4.6M459.9 231.6l4.6 4.6m0-4.6l-4.6 4.6M594 76.3l4.6 4.6m0-4.6l-4.6 4.6M487.1 160.5l4.6 4.6m0-4.6l-4.6 4.6M568.4 187.4l4.6 4.6m0-4.6l-4.6 4.6M497 176.9l4.6 4.6m0-4.6l-4.6 4.6M598.6 234.3l4.6 4.6m0-4.6l-4.6 4.6M579.2 133.7l4.6 4.6m0-4.6l-4.6 4.6M534.2 206.9l4.6 4.6m0-4.6l-4.6 4.6M517.5 215.2l4.6 4.6m0-4.6l-4.6 4.6M498.2 129.9l4.6 4.6m0-4.6l-4.6 4.6M627.7 190.6l4.6 4.6m0-4.6l-4.6 4.6M578.8 240.5l4.6 4.6m0-4.6l-4.6 4.6M601.1 234.5l4.6 4.6m0-4.6l-4.6 4.6M555.5 125.7l4.6 4.6m0-4.6l-4.6 4.6M552.9 204.1l4.6 4.6m0-4.6l-4.6 4.6M579.6 158.7l4.6 4.6m0-4.6l-4.6 4.6M590.4 182.4l4.6 4.6m0-4.6l-4.6 4.6M590.6 172.1l4.6 4.6m0-4.6l-4.6 4.6M545.7 114.3l4.6 4.6m0-4.6l-4.6 4.6M485 138.1l4.6 4.6m0-4.6l-4.6 4.6M587.5 128.7l4.6 4.6m0-4.6l-4.6 4.6M559.4 256.3l4.6 4.6m0-4.6l-4.6 4.6M469.5 239.3l4.6 4.6m0-4.6l-4.6 4.6M571.2 74.4l4.6 4.6m0-4.6l-4.6 4.6M612.9 235.9l4.6 4.6m0-4.6l-4.6 4.6M489.5 195.4l4.6 4.6m0-4.6l-4.6 4.6M541.6 258.4l4.6 4.6m0-4.6l-4.6 4.6M532.7 116.1l4.6 4.6m0-4.6l-4.6 4.6M590.3 156.1l4.6 4.6m0-4.6l-4.6 4.6M442.8 121.9l4.6 4.6m0-4.6l-4.6 4.6M560.4 57.4l4.6 4.6m0-4.6l-4.6 4.6M488.5 177.3l4.6 4.6m0-4.6l-4.6 4.6M645 145.3l4.6 4.6m0-4.6l-4.6 4.6M534.9 211.3l4.6 4.6m0-4.6l-4.6 4.6M579.8 183.5l4.6 4.6m0-4.6l-4.6 4.6M563.5 67.8l4.6 4.6m0-4.6l-4.6 4.6M517.5 200.1l4.6 4.6m0-4.6l-4.6 4.6M484.8 81.2l4.6 4.6m0-4.6l-4.6 4.6M568.5 247.2l4.6 4.6m0-4.6l-4.6 4.6M589.6 82.5l4.6 4.6m0-4.6l-4.6 4.6M576 142.8l4.6 4.6m0-4.6l-4.6 4.6M518.6 206.9l4.6 4.6m0-4.6l-4.6 4.6M478.8 150.2l4.6 4.6m0-4.6l-4.6 4.6M459.4 81.5l4.6 4.6m0-4.6l-4.6 4.6M503.8 126.1l4.6 4.6m0-4.6l-4.6 4.6M572.5 189.7l4.6 4.6m0-4.6l-4.6 4.6M560.2 62l4.6 4.6m0-4.6l-4.6 4.6M491.7 123.7l4.6 4.6m0-4.6l-4.6 4.6M584.4 141.4l4.6 4.6m0-4.6l-4.6 4.6M636.7 176.8l4.6 4.6m0-4.6l-4.6 4.6M621.5 122.5l4.6 4.6m0-4.6l-4.6 4.6M530.5 115l4.6 4.6m0-4.6l-4.6 4.6M473.5 81.2l4.6 4.6m0-4.6l-4.6 4.6M480.6 176.7l4.6 4.6m0-4.6l-4.6 4.6M577.4 135.9l4.6 4.6m0-4.6l-4.6 4.6M482.8 245.7l4.6 4.6m0-4.6l-4.6 4.6M510.2 109.3l4.6 4.6m0-4.6l-4.6 4.6M581.6 164.5l4.6 4.6m0-4.6l-4.6 4.6M435 188.4l4.6 4.6m0-4.6l-4.6 4.6M546.3 117.3l4.6 4.6m0-4.6l-4.6 4.6M584 173.2l4.6 4.6m0-4.6l-4.6 4.6M528 120.8l4.6 4.6m0-4.6l-4.6 4.6M640.7 165.6l4.6 4.6m0-4.6l-4.6 4.6M552.6 61.8l4.6 4.6m0-4.6l-4.6 4.6M475.7 142.9l4.6 4.6m0-4.6l-4.6 4.6M571 60.8l4.6 4.6m0-4.6l-4.6 4.6M571.9 203.8l4.6 4.6m0-4.6l-4.6 4.6M488.5 252.7l4.6 4.6m0-4.6l-4.6 4.6M529.1 211l4.6 4.6m0-4.6l-4.6 4.6M544.4 257.5l4.6 4.6m0-4.6l-4.6 4.6M585 155.2l4.6 4.6m0-4.6l-4.6 4.6M529.2 252.9l4.6 4.6m0-4.6l-4.6 4.6M485.7 246.7l4.6 4.6m0-4.6l-4.6 4.6M537.4 62.4l4.6 4.6m0-4.6l-4.6 4.6M562 66.4l4.6 4.6m0-4.6l-4.6 4.6M496.7 129.7l4.6 4.6m0-4.6l-4.6 4.6M640.1 194.7l4.6 4.6m0-4.6l-4.6 4.6M584.6 152.9l4.6 4.6m0-4.6l-4.6 4.6M618.1 108.2l4.6 4.6m0-4.6l-4.6 4.6M527.5 101.6l4.6 4.6m0-4.6l-4.6 4.6M553.3 201.8l4.6 4.6m0-4.6l-4.6 4.6M466.9 234.3l4.6 4.6m0-4.6l-4.6 4.6M570.5 133.4l4.6 4.6m0-4.6l-4.6 4.6M536.2 206.1l4.6 4.6m0-4.6l-4.6 4.6M540.4 254.8l4.6 4.6m0-4.6l-4.6 4.6M483.7 183.1l4.6 4.6m0-4.6l-4.6 4.6M557.9 104l4.6 4.6m0-4.6l-4.6 4.6M508.6 198l4.6 4.6m0-4.6l-4.6 4.6M490.1 120.9l4.6 4.6m0-4.6l-4.6 4.6M587.4 151.8l4.6 4.6m0-4.6l-4.6 4.6M539.5 102.1l4.6 4.6m0-4.6l-4.6 4.6M441.2 221.3l4.6 4.6m0-4.6l-4.6 4.6M431.7 169.5l4.6 4.6m0-4.6l-4.6 4.6M454.2 217.2l4.6 4.6m0-4.6l-4.6 4.6M480.8 137.6l4.6 4.6m0-4.6l-4.6 4.6M442.8 99.8l4.6 4.6m0-4.6l-4.6 4.6M482.4 157.3l4.6 4.6m0-4.6l-4.6 4.6M484.4 87.2l4.6 4.6m0-4.6l-4.6 4.6M554.9 207.4l4.6 4.6m0-4.6l-4.6 4.6M506 117.3l4.6 4.6m0-4.6l-4.6 4.6M589.7 234.1l4.6 4.6m0-4.6l-4.6 4.6M563.5 196.2l4.6 4.6m0-4.6l-4.6 4.6M425.5 152.7l4.6 4.6m0-4.6l-4.6 4.6M593.1 155.9l4.6 4.6m0-4.6l-4.6 4.6M614 121l4.6 4.6m0-4.6l-4.6 4.6M538.7 261.8l4.6 4.6m0-4.6l-4.6 4.6M501.1 56.4l4.6 4.6m0-4.6l-4.6 4.6M439.8 112.1l4.6 4.6m0-4.6l-4.6 4.6M582.1 141.8l4.6 4.6m0-4.6l-4.6 4.6M482.6 120l4.6 4.6m0-4.6l-4.6 4.6M521.1 215.3l4.6 4.6m0-4.6l-4.6 4.6M438.9 94.3l4.6 4.6m0-4.6l-4.6 4.6"/>
<g filter="url(#bl)">
<ellipse cx="148" cy="489.4" rx="18.3" ry="16.8" fill="#EE4848" fill-opacity="0.020"/>
<ellipse cx="193.7" cy="427.2" rx="18.3" ry="16.8" fill="#1E90FF" fill-opacity="0.021"/>
<ellipse cx="153" cy="510.4" rx="18.3" ry="16.8" fill="#EE4848" fill-opacity="0.020"/>
<ellipse cx="140.3" cy="564.1" rx="18.3" ry="16.8" fill="#1E90FF" fill-opacity="0.021"/>
<ellipse cx="122.1" cy="448.4" rx="18.3" ry="16.8" fill="#1E90FF" fill-opacity="0.021"/>
<ellipse cx="153.4" cy="536" rx="18.3" ry="16.8" fill="#EE4848" fill-opacity="0.020"/>
<ellipse cx="151.3" cy="501.2" rx="18.3" ry="16.8" fill="#EE4848" fill-opacity="0.020"/>
<ellipse cx="106.2" cy="497.9" rx="18.3" ry="16.8" fill="#1E90FF" fill-opacity="0.021"/>
<ellipse cx="169.2" cy="441.2" rx="18.3" ry="16.8" fill="#1E90FF" fill-opacity="0.021"/>
<ellipse cx="197.7" cy="569.2" rx="18.3" ry="16.8" fill="#EE4848" fill-opacity="0.020"/>
<ellipse cx="281.9" cy="500" rx="18.3" ry="16.8" fill="#1E90FF" fill-opacity="0.021"/>
<ellipse cx="222.8" cy="612.3" rx="18.3" ry="16.8" fill="#1E90FF" fill-opacity="0.021"/>
<ellipse cx="179.8" cy="555.1" rx="18.3" ry="16.8" fill="#EE4848" fill-opacity="0.020"/>
<ellipse cx="126.8" cy="451.8" rx="18.3" ry="16.8" fill="#1E90FF" fill-opacity="0.021"/>
<ellipse cx="172.2" cy="509.6" rx="18.3" ry="16.8" fill="#EE4848" fill-opacity="0.020"/>
<ellipse cx="154.8" cy="529.1" rx="18.3" ry="16.8" fill="#EE4848" fill-opacity="0.020"/>
<ellipse cx="235.3" cy="525" rx="18.3" ry="16.8" fill="#EE4848" fill-opacity="0.020"/>
<ellipse cx="258.6" cy="449.7" rx="18.3" ry="16.8" fill="#1E90FF" fill-opacity="0.021"/>
<ellipse cx="210.1" cy="495.2" rx="18.3" ry="16.8" fill="#EE4848" fill-opacity="0.020"/>
<ellipse cx="182.2" cy="537.6" rx="18.3" ry="16.8" fill="#EE4848" fill-opacity="0.020"/>
<ellipse cx="230.4" cy="530.7" rx="18.3" ry="16.8" fill="#EE4848" fill-opacity="0.020"/>
<ellipse cx="250.1" cy="519.9" rx="18.3" ry="16.8" fill="#EE4848" fill-opacity="0.020"/>
<ellipse cx="203.3" cy="480.1" rx="18.3" ry="16.8" fill="#EE4848" fill-opacity="0.020"/>
<ellipse cx="166" cy="483.3" rx="18.3" ry="16.8" fill="#EE4848" fill-opacity="0.020"/>
<ellipse cx="151.8" cy="451.2" rx="18.3" ry="16.8" fill="#1E90FF" fill-opacity="0.021"/>
<ellipse cx="212.1" cy="507.2" rx="18.3" ry="16.8" fill="#EE4848" fill-opacity="0.020"/>
<ellipse cx="215.5" cy="527.1" rx="18.3" ry="16.8" fill="#EE4848" fill-opacity="0.020"/>
<ellipse cx="247.5" cy="584.5" rx="18.3" ry="16.8" fill="#1E90FF" fill-opacity="0.021"/>
<ellipse cx="112.7" cy="440.3" rx="18.3" ry="16.8" fill="#1E90FF" fill-opacity="0.021"/>
<ellipse cx="155.7" cy="477.6" rx="18.3" ry="16.8" fill="#EE4848" fill-opacity="0.020"/>
<ellipse cx="230.9" cy="548.1" rx="18.3" ry="16.8" fill="#EE4848" fill-opacity="0.020"/>
<ellipse cx="145.6" cy="475.1" rx="18.3" ry="16.8" fill="#EE4848" fill-opacity="0.020"/>
<ellipse cx="218.8" cy="550.1" rx="18.3" ry="16.8" fill="#EE4848" fill-opacity="0.020"/>
<ellipse cx="159.5" cy="590.6" rx="18.3" ry="16.8" fill="#1E90FF" fill-opacity="0.021"/>
<ellipse cx="279.1" cy="494.3" rx="18.3" ry="16.8" fill="#1E90FF" fill-opacity="0.021"/>
<ellipse cx="161.4" cy="493.9" rx="18.3" ry="16.8" fill="#EE4848" fill-opacity="0.020"/>
<ellipse cx="139.1" cy="544" rx="18.3" ry="16.8" fill="#EE4848" fill-opacity="0.020"/>
<ellipse cx="188.4" cy="428" rx="18.3" ry="16.8" fill="#1E90FF" fill-opacity="0.021"/>
<ellipse cx="233.8" cy="579.5" rx="18.3" ry="16.8" fill="#1E90FF" fill-opacity="0.021"/>
<ellipse cx="192.4" cy="419.1" rx="18.3" ry="16.8" fill="#1E90FF" fill-opacity="0.021"/>
<ellipse cx="164.6" cy="534.8" rx="18.3" ry="16.8" fill="#EE4848" fill-opacity="0.020"/>
<ellipse cx="95.2" cy="457.4" rx="18.3" ry="16.8" fill="#1E90FF" fill-opacity="0.021"/>
<ellipse cx="219.6" cy="518.3" rx="18.3" ry="16.8" fill="#EE4848" fill-opacity="0.020"/>
<ellipse cx="175.3" cy="620.6" rx="18.3" ry="16.8" fill="#1E90FF" fill-opacity="0.021"/>
<ellipse cx="245" cy="470.3" rx="18.3" ry="16.8" fill="#1E90FF" fill-opacity="0.021"/>
<ellipse cx="180.2" cy="429.1" rx="18.3" ry="16.8" fill="#1E90FF" fill-opacity="0.021"/>
<ellipse cx="291.6" cy="506.6" rx="18.3" ry="16.8" fill="#1E90FF" fill-opacity="0.021"/>
<ellipse cx="290.8" cy="476.2" rx="18.3" ry="16.8" fill="#1E90FF" fill-opacity="0.021"/>
<ellipse cx="159" cy="566.6" rx="18.3" ry="16.8" fill="#EE4848" fill-opacity="0.020"/>
<ellipse cx="257.4" cy="469.9" rx="18.3" ry="16.8" fill="#1E90FF" fill-opacity="0.021"/>
<ellipse cx="134" cy="417.5" rx="18.3" ry="16.8" fill="#1E90FF" fill-opacity="0.021"/>
<ellipse cx="152.3" cy="588.8" rx="18.3" ry="16.8" fill="#1E90FF" fill-opacity="0.021"/>
<ellipse cx="98" cy="522.4" rx="18.3" ry="16.8" fill="#1E90FF" fill-opacity="0.021"/>
<ellipse cx="155.3" cy="542.9" rx="18.3" ry="16.8" fill="#EE4848" fill-opacity="0.020"/>
<ellipse cx="197.1" cy="603.4" rx="18.3" ry="16.8" fill="#1E90FF" fill-opacity="0.021"/>
<ellipse cx="195.8" cy="411.8" rx="18.3" ry="16.8" fill="#1E90FF" fill-opacity="0.021"/>
<ellipse cx="119.2" cy="556.5" rx="18.3" ry="16.8" fill="#1E90FF" fill-opacity="0.021"/>
<ellipse cx="261.5" cy="479.7" rx="18.3" ry="16.8" fill="#1E90FF" fill-opacity="0.021"/>
<ellipse cx="214.4" cy="596.3" rx="18.3" ry="16.8" fill="#1E90FF" fill-opacity="0.021"/>
<ellipse cx="139.5" cy="415.8" rx="18.3" ry="16.8" fill="#1E90FF" fill-opacity="0.021"/>
<ellipse cx="225.9" cy="530.7" rx="18.3" ry="16.8" fill="#EE4848" fill-opacity="0.020"/>
<ellipse cx="216.6" cy="510.6" rx="18.3" ry="16.8" fill="#EE4848" fill-opacity="0.020"/>
<ellipse cx="172.2" cy="473.5" rx="18.3" ry="16.8" fill="#EE4848" fill-opacity="0.020"/>
<ellipse cx="223.9" cy="550.8" rx="18.3" ry="16.8" fill="#EE4848" fill-opacity="0.020"/>
<ellipse cx="133.2" cy="428.1" rx="18.3" ry="16.8" fill="#1E90FF" fill-opacity="0.021"/>
<ellipse cx="240.4" cy="435.6" rx="18.3" ry="16.8" fill="#1E90FF" fill-opacity="0.021"/>
<ellipse cx="217" cy="551" rx="18.3" ry="16.8" fill="#EE4848" fill-opacity="0.020"/>
<ellipse cx="211" cy="434.2" rx="18.3" ry="16.8" fill="#1E90FF" fill-opacity="0.021"/>
<ellipse cx="297.8" cy="543.9" rx="18.3" ry="16.8" fill="#1E90FF" fill-opacity="0.021"/>
<ellipse cx="153.5" cy="529.9" rx="18.3" ry="16.8" fill="#EE4848" fill-opacity="0.020"/>
<ellipse cx="171.5" cy="499" rx="18.3" ry="16.8" fill="#EE4848" fill-opacity="0.020"/>
<ellipse cx="176.8" cy="486.5" rx="18.3" ry="16.8" fill="#EE4848" fill-opacity="0.020"/>
<ellipse cx="217.2" cy="485.7" rx="18.3" ry="16.8" fill="#EE4848" fill-opacity="0.020"/>
<ellipse cx="220.3" cy="453.9" rx="18.3" ry="16.8" fill="#EE4848" fill-opacity="0.020"/>
<ellipse cx="190.2" cy="469.3" rx="18.3" ry="16.8" fill="#EE4848" fill-opacity="0.020"/>
<ellipse cx="222.7" cy="464.8" rx="18.3" ry="16.8" fill="#EE4848" fill-opacity="0.020"/>
<ellipse cx="223.4" cy="478" rx="18.3" ry="16.8" fill="#EE4848" fill-opacity="0.020"/>
<ellipse cx="165.9" cy="438.8" rx="18.3" ry="16.8" fill="#1E90FF" fill-opacity="0.021"/>
<ellipse cx="198.9" cy="563" rx="18.3" ry="16.8" fill="#EE4848" fill-opacity="0.020"/>
<ellipse cx="224.8" cy="548.9" rx="18.3" ry="16.8" fill="#EE4848" fill-opacity="0.020"/>
<ellipse cx="74.7" cy="572.6" rx="18.3" ry="16.8" fill="#1E90FF" fill-opacity="0.021"/>
<ellipse cx="140.7" cy="428.2" rx="18.3" ry="16.8" fill="#1E90FF" fill-opacity="0.021"/>
<ellipse cx="221.7" cy="504.3" rx="18.3" ry="16.8" fill="#EE4848" fill-opacity="0.020"/>
<ellipse cx="175.4" cy="595.8" rx="18.3" ry="16.8" fill="#1E90FF" fill-opacity="0.021"/>
<ellipse cx="197.1" cy="465.8" rx="18.3" ry="16.8" fill="#EE4848" fill-opacity="0.020"/>
<ellipse cx="135.7" cy="438.7" rx="18.3" ry="16.8" fill="#1E90FF" fill-opacity="0.021"/>
<ellipse cx="174.6" cy="592.7" rx="18.3" ry="16.8" fill="#1E90FF" fill-opacity="0.021"/>
<ellipse cx="176.8" cy="522.4" rx="18.3" ry="16.8" fill="#EE4848" fill-opacity="0.020"/>
<ellipse cx="195" cy="477.1" rx="18.3" ry="16.8" fill="#EE4848" fill-opacity="0.020"/>
<ellipse cx="198" cy="461.6" rx="18.3" ry="16.8" fill="#EE4848" fill-opacity="0.020"/>
<ellipse cx="142" cy="512.9" rx="18.3" ry="16.8" fill="#EE4848" fill-opacity="0.020"/>
<ellipse cx="252.2" cy="537.6" rx="18.3" ry="16.8" fill="#EE4848" fill-opacity="0.020"/>
<ellipse cx="144.9" cy="482" rx="18.3" ry="16.8" fill="#EE4848" fill-opacity="0.020"/>
<ellipse cx="184.3" cy="465.8" rx="18.3" ry="16.8" fill="#EE4848" fill-opacity="0.020"/>
<ellipse cx="162.6" cy="539.5" rx="18.3" ry="16.8" fill="#EE4848" fill-opacity="0.020"/>
<ellipse cx="161.2" cy="503.5" rx="18.3" ry="16.8" fill="#EE4848" fill-opacity="0.020"/>
<ellipse cx="146.6" cy="469.7" rx="18.3" ry="16.8" fill="#1E90FF" fill-opacity="0.021"/>
<ellipse cx="194.9" cy="447.5" rx="18.3" ry="16.8" fill="#1E90FF" fill-opacity="0.021"/>
<ellipse cx="213.8" cy="565.5" rx="18.3" ry="16.8" fill="#EE4848" fill-opacity="0.020"/>
<ellipse cx="284" cy="494" rx="18.3" ry="16.8" fill="#1E90FF" fill-opacity="0.021"/>
<ellipse cx="296.4" cy="518.4" rx="18.3" ry="16.8" fill="#1E90FF" fill-opacity="0.021"/>
<ellipse cx="192.3" cy="554.8" rx="18.3" ry="16.8" fill="#EE4848" fill-opacity="0.020"/>
<ellipse cx="253.7" cy="468.5" rx="18.3" ry="16.8" fill="#1E90FF" fill-opacity="0.021"/>
<ellipse cx="173.2" cy="459.5" rx="18.3" ry="16.8" fill="#EE4848" fill-opacity="0.020"/>
<ellipse cx="166.2" cy="477.3" rx="18.3" ry="16.8" fill="#EE4848" fill-opacity="0.020"/>
<ellipse cx="229.1" cy="400.7" rx="18.3" ry="16.8" fill="#1E90FF" fill-opacity="0.021"/>
<ellipse cx="214.9" cy="476.8" rx="18.3" ry="16.8" fill="#EE4848" fill-opacity="0.020"/>
<ellipse cx="265.1" cy="565.9" rx="18.3" ry="16.8" fill="#1E90FF" fill-opacity="0.021"/>
<ellipse cx="161.8" cy="479.3" rx="18.3" ry="16.8" fill="#EE4848" fill-opacity="0.020"/>
<ellipse cx="127.7" cy="530.5" rx="18.3" ry="16.8" fill="#1E90FF" fill-opacity="0.021"/>
<ellipse cx="86.5" cy="537.7" rx="18.3" ry="16.8" fill="#1E90FF" fill-opacity="0.021"/>
<ellipse cx="177.1" cy="552.1" rx="18.3" ry="16.8" fill="#EE4848" fill-opacity="0.020"/>
<ellipse cx="177.4" cy="477.1" rx="18.3" ry="16.8" fill="#EE4848" fill-opacity="0.020"/>
<ellipse cx="275.8" cy="473.9" rx="18.3" ry="16.8" fill="#1E90FF" fill-opacity="0.021"/>
<ellipse cx="243.8" cy="543.1" rx="18.3" ry="16.8" fill="#EE4848" fill-opacity="0.020"/>
<ellipse cx="229.1" cy="493.8" rx="18.3" ry="16.8" fill="#EE4848" fill-opacity="0.020"/>
<ellipse cx="289" cy="511.5" rx="18.3" ry="16.8" fill="#1E90FF" fill-opacity="0.021"/>
<ellipse cx="261.8" cy="561.1" rx="18.3" ry="16.8" fill="#1E90FF" fill-opacity="0.021"/>
<ellipse cx="105.2" cy="502.8" rx="18.3" ry="16.8" fill="#1E90FF" fill-opacity="0.021"/>
<ellipse cx="239.8" cy="456.6" rx="18.3" ry="16.8" fill="#1E90FF" fill-opacity="0.021"/>
<ellipse cx="236.4" cy="568.1" rx="18.3" ry="16.8" fill="#1E90FF" fill-opacity="0.021"/>
<ellipse cx="160" cy="620.2" rx="18.3" ry="16.8" fill="#1E90FF" fill-opacity="0.021"/>
<ellipse cx="200.9" cy="488.6" rx="18.3" ry="16.8" fill="#EE4848" fill-opacity="0.020"/>
<ellipse cx="156.5" cy="575.4" rx="18.3" ry="16.8" fill="#1E90FF" fill-opacity="0.021"/>
<ellipse cx="278" cy="531.2" rx="18.3" ry="16.8" fill="#1E90FF" fill-opacity="0.021"/>
<ellipse cx="288.2" cy="534.2" rx="18.3" ry="16.8" fill="#1E90FF" fill-opacity="0.021"/>
<ellipse cx="147.4" cy="564.1" rx="18.3" ry="16.8" fill="#EE4848" fill-opacity="0.020"/>
<ellipse cx="228.9" cy="580.3" rx="18.3" ry="16.8" fill="#1E90FF" fill-opacity="0.021"/>
<ellipse cx="99.1" cy="536.1" rx="18.3" ry="16.8" fill="#1E90FF" fill-opacity="0.021"/>
<ellipse cx="179.4" cy="477.4" rx="18.3" ry="16.8" fill="#EE4848" fill-opacity="0.020"/>
<ellipse cx="253.4" cy="483.1" rx="18.3" ry="16.8" fill="#1E90FF" fill-opacity="0.021"/>
<ellipse cx="114.4" cy="486.6" rx="18.3" ry="16.8" fill="#1E90FF" fill-opacity="0.021"/>
<ellipse cx="249.1" cy="543" rx="18.3" ry="16.8" fill="#EE4848" fill-opacity="0.020"/>
<ellipse cx="238.4" cy="481.8" rx="18.3" ry="16.8" fill="#EE4848" fill-opacity="0.020"/>
<ellipse cx="81.7" cy="511.3" rx="18.3" ry="16.8" fill="#1E90FF" fill-opacity="0.021"/>
<ellipse cx="197.7" cy="424.1" rx="18.3" ry="16.8" fill="#1E90FF" fill-opacity="0.021"/>
<ellipse cx="210.2" cy="606.9" rx="18.3" ry="16.8" fill="#1E90FF" fill-opacity="0.021"/>
<ellipse cx="292" cy="462.5" rx="18.3" ry="16.8" fill="#1E90FF" fill-opacity="0.021"/>
<ellipse cx="271.5" cy="476.9" rx="18.3" ry="16.8" fill="#1E90FF" fill-opacity="0.021"/>
<ellipse cx="244.2" cy="497.8" rx="18.3" ry="16.8" fill="#EE4848" fill-opacity="0.020"/>
<ellipse cx="195.1" cy="451" rx="18.3" ry="16.8" fill="#1E90FF" fill-opacity="0.021"/>
<ellipse cx="225.9" cy="613.2" rx="18.3" ry="16.8" fill="#1E90FF" fill-opacity="0.021"/>
<ellipse cx="258.1" cy="509.5" rx="18.3" ry="16.8" fill="#EE4848" fill-opacity="0.020"/>
<ellipse cx="134.4" cy="467.2" rx="18.3" ry="16.8" fill="#1E90FF" fill-opacity="0.021"/>
<ellipse cx="269.6" cy="517.8" rx="18.3" ry="16.8" fill="#EE4848" fill-opacity="0.020"/>
<ellipse cx="230.3" cy="494.9" rx="18.3" ry="16.8" fill="#EE4848" fill-opacity="0.020"/>
<ellipse cx="274" cy="459.5" rx="18.3" ry="16.8" fill="#1E90FF" fill-opacity="0.021"/>
<ellipse cx="270.3" cy="569.4" rx="18.3" ry="16.8" fill="#1E90FF" fill-opacity="0.021"/>
<ellipse cx="244.3" cy="504.3" rx="18.3" ry="16.8" fill="#EE4848" fill-opacity="0.020"/>
<ellipse cx="185.9" cy="547.3" rx="18.3" ry="16.8" fill="#EE4848" fill-opacity="0.020"/>
<ellipse cx="292.5" cy="494.8" rx="18.3" ry="16.8" fill="#1E90FF" fill-opacity="0.021"/>
<ellipse cx="95.5" cy="488.8" rx="18.3" ry="16.8" fill="#1E90FF" fill-opacity="0.021"/>
<ellipse cx="239" cy="453.7" rx="18.3" ry="16.8" fill="#1E90FF" fill-opacity="0.021"/>
<ellipse cx="271.6" cy="472.9" rx="18.3" ry="16.8" fill="#1E90FF" fill-opacity="0.021"/>
<ellipse cx="241" cy="537.2" rx="18.3" ry="16.8" fill="#EE4848" fill-opacity="0.020"/>
<ellipse cx="174.1" cy="500" rx="18.3" ry="16.8" fill="#EE4848" fill-opacity="0.020"/>
<ellipse cx="285.9" cy="496.9" rx="18.3" ry="16.8" fill="#1E90FF" fill-opacity="0.021"/>
<ellipse cx="222.6" cy="554.7" rx="18.3" ry="16.8" fill="#1E90FF" fill-opacity="0.021"/>
<ellipse cx="132" cy="529.5" rx="18.3" ry="16.8" fill="#EE4848" fill-opacity="0.020"/>
<ellipse cx="206.2" cy="459.1" rx="18.3" ry="16.8" fill="#1E90FF" fill-opacity="0.021"/>
<ellipse cx="74.2" cy="464.5" rx="18.3" ry="16.8" fill="#1E90FF" fill-opacity="0.021"/>
<ellipse cx="201.4" cy="482.9" rx="18.3" ry="16.8" fill="#EE4848" fill-opacity="0.020"/>
<ellipse cx="168" cy="547.6" rx="18.3" ry="16.8" fill="#EE4848" fill-opacity="0.020"/>
<ellipse cx="259.2" cy="444.3" rx="18.3" ry="16.8" fill="#1E90FF" fill-opacity="0.021"/>
<ellipse cx="197" cy="535.4" rx="18.3" ry="16.8" fill="#EE4848" fill-opacity="0.020"/>
<ellipse cx="238.6" cy="532.2" rx="18.3" ry="16.8" fill="#EE4848" fill-opacity="0.020"/>
<ellipse cx="259" cy="467.7" rx="18.3" ry="16.8" fill="#1E90FF" fill-opacity="0.021"/>
<ellipse cx="280.6" cy="475.5" rx="18.3" ry="16.8" fill="#1E90FF" fill-opacity="0.021"/>
<ellipse cx="202.8" cy="548.8" rx="18.3" ry="16.8" fill="#EE4848" fill-opacity="0.020"/>
<ellipse cx="76.6" cy="470.1" rx="18.3" ry="16.8" fill="#1E90FF" fill-opacity="0.021"/>
<ellipse cx="276.9" cy="457.9" rx="18.3" ry="16.8" fill="#1E90FF" fill-opacity="0.021"/>
<ellipse cx="171" cy="571.4" rx="18.3" ry="16.8" fill="#1E90FF" fill-opacity="0.021"/>
<ellipse cx="199.7" cy="529.6" rx="18.3" ry="16.8" fill="#EE4848" fill-opacity="0.020"/>
<ellipse cx="119" cy="473.5" rx="18.3" ry="16.8" fill="#1E90FF" fill-opacity="0.021"/>
<ellipse cx="112.6" cy="470.8" rx="18.3" ry="16.8" fill="#1E90FF" fill-opacity="0.021"/>
<ellipse cx="146.4" cy="601.6" rx="18.3" ry="16.8" fill="#1E90FF" fill-opacity="0.021"/>
<ellipse cx="122.1" cy="518.9" rx="18.3" ry="16.8" fill="#EE4848" fill-opacity="0.020"/>
<ellipse cx="186.6" cy="593.4" rx="18.3" ry="16.8" fill="#1E90FF" fill-opacity="0.021"/>
<ellipse cx="121.5" cy="563.7" rx="18.3" ry="16.8" fill="#1E90FF" fill-opacity="0.021"/>
<ellipse cx="133.6" cy="504.5" rx="18.3" ry="16.8" fill="#EE4848" fill-opacity="0.020"/>
<ellipse cx="140.1" cy="512.4" rx="18.3" ry="16.8" fill="#EE4848" fill-opacity="0.020"/>
<ellipse cx="199.6" cy="601.9" rx="18.3" ry="16.8" fill="#1E90FF" fill-opacity="0.021"/>
<ellipse cx="162.6" cy="546.2" rx="18.3" ry="16.8" fill="#EE4848" fill-opacity="0.020"/>
<ellipse cx="211.1" cy="502.5" rx="18.3" ry="16.8" fill="#EE4848" fill-opacity="0.020"/>
<ellipse cx="216.9" cy="568.8" rx="18.3" ry="16.8" fill="#EE4848" fill-opacity="0.020"/>
<ellipse cx="125.8" cy="554.8" rx="18.3" ry="16.8" fill="#1E90FF" fill-opacity="0.021"/>
<ellipse cx="155.1" cy="510.9" rx="18.3" ry="16.8" fill="#EE4848" fill-opacity="0.020"/>
<ellipse cx="168.1" cy="427" rx="18.3" ry="16.8" fill="#1E90FF" fill-opacity="0.021"/>
<ellipse cx="254.6" cy="587.2" rx="18.3" ry="16.8" fill="#1E90FF" fill-opacity="0.021"/>
<ellipse cx="146.9" cy="577.2" rx="18.3" ry="16.8" fill="#1E90FF" fill-opacity="0.021"/>
<ellipse cx="247.7" cy="521.2" rx="18.3" ry="16.8" fill="#EE4848" fill-opacity="0.020"/>
<ellipse cx="139" cy="512.3" rx="18.3" ry="16.8" fill="#EE4848" fill-opacity="0.020"/>
<ellipse cx="151.3" cy="534.1" rx="18.3" ry="16.8" fill="#EE4848" fill-opacity="0.020"/>
<ellipse cx="213.6" cy="487.9" rx="18.3" ry="16.8" fill="#EE4848" fill-opacity="0.020"/>
<ellipse cx="96.7" cy="469.2" rx="18.3" ry="16.8" fill="#1E90FF" fill-opacity="0.021"/>
<ellipse cx="273.4" cy="525.8" rx="18.3" ry="16.8" fill="#1E90FF" fill-opacity="0.021"/>
<ellipse cx="116.7" cy="553.6" rx="18.3" ry="16.8" fill="#1E90FF" fill-opacity="0.021"/>
<ellipse cx="160.4" cy="472" rx="18.3" ry="16.8" fill="#1E90FF" fill-opacity="0.021"/>
<ellipse cx="121.1" cy="551.8" rx="18.3" ry="16.8" fill="#1E90FF" fill-opacity="0.021"/>
<ellipse cx="138.1" cy="516.4" rx="18.3" ry="16.8" fill="#EE4848" fill-opacity="0.020"/>
<ellipse cx="210" cy="564.5" rx="18.3" ry="16.8" fill="#EE4848" fill-opacity="0.020"/>
<ellipse cx="164.4" cy="444.5" rx="18.3" ry="16.8" fill="#1E90FF" fill-opacity="0.021"/>
<ellipse cx="275.8" cy="550.6" rx="18.3" ry="16.8" fill="#1E90FF" fill-opacity="0.021"/>
<ellipse cx="122.1" cy="565.7" rx="18.3" ry="16.8" fill="#1E90FF" fill-opacity="0.021"/>
<ellipse cx="142.2" cy="567.1" rx="18.3" ry="16.8" fill="#1E90FF" fill-opacity="0.021"/>
<ellipse cx="231.5" cy="606.3" rx="18.3" ry="16.8" fill="#1E90FF" fill-opacity="0.021"/>
<ellipse cx="302.5" cy="532.9" rx="18.3" ry="16.8" fill="#1E90FF" fill-opacity="0.021"/>
<ellipse cx="157.1" cy="477.9" rx="18.3" ry="16.8" fill="#1E90FF" fill-opacity="0.021"/>
<ellipse cx="225.1" cy="532.4" rx="18.3" ry="16.8" fill="#EE4848" fill-opacity="0.020"/>
<ellipse cx="141.4" cy="498.8" rx="18.3" ry="16.8" fill="#EE4848" fill-opacity="0.020"/>
<ellipse cx="225.5" cy="501.8" rx="18.3" ry="16.8" fill="#EE4848" fill-opacity="0.020"/>
<ellipse cx="101.2" cy="488.8" rx="18.3" ry="16.8" fill="#1E90FF" fill-opacity="0.021"/>
<ellipse cx="210.7" cy="498.9" rx="18.3" ry="16.8" fill="#EE4848" fill-opacity="0.020"/>
<ellipse cx="195.7" cy="481.7" rx="18.3" ry="16.8" fill="#EE4848" fill-opacity="0.020"/>
<ellipse cx="271.9" cy="506.2" rx="18.3" ry="16.8" fill="#EE4848" fill-opacity="0.020"/>
<ellipse cx="162.6" cy="515.9" rx="18.3" ry="16.8" fill="#EE4848" fill-opacity="0.020"/>
<ellipse cx="155.2" cy="524.8" rx="18.3" ry="16.8" fill="#EE4848" fill-opacity="0.020"/>
<ellipse cx="277.1" cy="554.8" rx="18.3" ry="16.8" fill="#1E90FF" fill-opacity="0.021"/>
<ellipse cx="152.1" cy="490.6" rx="18.3" ry="16.8" fill="#EE4848" fill-opacity="0.020"/>
<ellipse cx="252.1" cy="557.5" rx="18.3" ry="16.8" fill="#1E90FF" fill-opacity="0.021"/>
<ellipse cx="149" cy="529.7" rx="18.3" ry="16.8" fill="#EE4848" fill-opacity="0.020"/>
<ellipse cx="238.2" cy="483.7" rx="18.3" ry="16.8" fill="#EE4848" fill-opacity="0.020"/>
<ellipse cx="266.5" cy="435.4" rx="18.3" ry="16.8" fill="#1E90FF" fill-opacity="0.021"/>
<ellipse cx="213.6" cy="585.9" rx="18.3" ry="16.8" fill="#1E90FF" fill-opacity="0.021"/>
<ellipse cx="118.7" cy="548.6" rx="18.3" ry="16.8" fill="#1E90FF" fill-opacity="0.021"/>
<ellipse cx="142.3" cy="503.1" rx="18.3" ry="16.8" fill="#EE4848" fill-opacity="0.020"/>
<ellipse cx="275.1" cy="513.2" rx="18.3" ry="16.8" fill="#1E90FF" fill-opacity="0.021"/>
<ellipse cx="184.1" cy="539.5" rx="18.3" ry="16.8" fill="#EE4848" fill-opacity="0.020"/>
<ellipse cx="214.3" cy="474.5" rx="18.3" ry="16.8" fill="#EE4848" fill-opacity="0.020"/>
<ellipse cx="201.3" cy="442.1" rx="18.3" ry="16.8" fill="#1E90FF" fill-opacity="0.021"/>
<ellipse cx="104.6" cy="480.3" rx="18.3" ry="16.8" fill="#1E90FF" fill-opacity="0.021"/>
<ellipse cx="133.4" cy="464.3" rx="18.3" ry="16.8" fill="#1E90FF" fill-opacity="0.021"/>
<ellipse cx="212.7" cy="554.1" rx="18.3" ry="16.8" fill="#EE4848" fill-opacity="0.020"/>
<ellipse cx="270.8" cy="480.4" rx="18.3" ry="16.8" fill="#1E90FF" fill-opacity="0.021"/>
<ellipse cx="156.9" cy="513" rx="18.3" ry="16.8" fill="#EE4848" fill-opacity="0.020"/>
<ellipse cx="142.4" cy="488.2" rx="18.3" ry="16.8" fill="#EE4848" fill-opacity="0.020"/>
<ellipse cx="167.7" cy="471.9" rx="18.3" ry="16.8" fill="#EE4848" fill-opacity="0.020"/>
<ellipse cx="142.1" cy="568.4" rx="18.3" ry="16.8" fill="#1E90FF" fill-opacity="0.021"/>
<ellipse cx="135.3" cy="561" rx="18.3" ry="16.8" fill="#1E90FF" fill-opacity="0.021"/>
<ellipse cx="156.6" cy="594.3" rx="18.3" ry="16.8" fill="#1E90FF" fill-opacity="0.021"/>
<ellipse cx="148.8" cy="564.1" rx="18.3" ry="16.8" fill="#EE4848" fill-opacity="0.020"/>
<ellipse cx="175.2" cy="592.9" rx="18.3" ry="16.8" fill="#1E90FF" fill-opacity="0.021"/>
<ellipse cx="198.2" cy="561.7" rx="18.3" ry="16.8" fill="#EE4848" fill-opacity="0.020"/>
<ellipse cx="292.4" cy="504" rx="18.3" ry="16.8" fill="#1E90FF" fill-opacity="0.021"/>
<ellipse cx="155.3" cy="535.4" rx="18.3" ry="16.8" fill="#EE4848" fill-opacity="0.020"/>
<ellipse cx="150.9" cy="472" rx="18.3" ry="16.8" fill="#1E90FF" fill-opacity="0.021"/>
<ellipse cx="145.4" cy="424" rx="18.3" ry="16.8" fill="#1E90FF" fill-opacity="0.021"/>
<ellipse cx="238.2" cy="426.6" rx="18.3" ry="16.8" fill="#1E90FF" fill-opacity="0.021"/>
<ellipse cx="194.4" cy="473" rx="18.3" ry="16.8" fill="#EE4848" fill-opacity="0.020"/>
<ellipse cx="142.7" cy="571.1" rx="18.3" ry="16.8" fill="#1E90FF" fill-opacity="0.021"/>
<ellipse cx="226.8" cy="537.4" rx="18.3" ry="16.8" fill="#EE4848" fill-opacity="0.020"/>
<ellipse cx="216.9" cy="473.3" rx="18.3" ry="16.8" fill="#EE4848" fill-opacity="0.020"/>
<ellipse cx="234.6" cy="540.3" rx="18.3" ry="16.8" fill="#EE4848" fill-opacity="0.020"/>
<ellipse cx="214.2" cy="608.4" rx="18.3" ry="16.8" fill="#1E90FF" fill-opacity="0.021"/>
<ellipse cx="212.5" cy="496.2" rx="18.3" ry="16.8" fill="#EE4848" fill-opacity="0.020"/>
<ellipse cx="171.3" cy="552.8" rx="18.3" ry="16.8" fill="#EE4848" fill-opacity="0.020"/>
<ellipse cx="116.9" cy="568.8" rx="18.3" ry="16.8" fill="#1E90FF" fill-opacity="0.021"/>
<ellipse cx="120.1" cy="535.1" rx="18.3" ry="16.8" fill="#EE4848" fill-opacity="0.020"/>
<ellipse cx="98.5" cy="579.8" rx="18.3" ry="16.8" fill="#1E90FF" fill-opacity="0.021"/>
<ellipse cx="212.4" cy="533.9" rx="18.3" ry="16.8" fill="#EE4848" fill-opacity="0.020"/>
<ellipse cx="207.5" cy="480.7" rx="18.3" ry="16.8" fill="#EE4848" fill-opacity="0.020"/>
<ellipse cx="95.2" cy="517.4" rx="18.3" ry="16.8" fill="#1E90FF" fill-opacity="0.021"/>
<ellipse cx="155" cy="493.3" rx="18.3" ry="16.8" fill="#EE4848" fill-opacity="0.020"/>
<ellipse cx="110.6" cy="457" rx="18.3" ry="16.8" fill="#1E90FF" fill-opacity="0.021"/>
<ellipse cx="126.2" cy="541.3" rx="18.3" ry="16.8" fill="#1E90FF" fill-opacity="0.021"/>
<ellipse cx="290.8" cy="519" rx="18.3" ry="16.8" fill="#1E90FF" fill-opacity="0.021"/>
<ellipse cx="214.8" cy="542.1" rx="18.3" ry="16.8" fill="#EE4848" fill-opacity="0.020"/>
<ellipse cx="123.1" cy="463.9" rx="18.3" ry="16.8" fill="#1E90FF" fill-opacity="0.021"/>
<ellipse cx="160.6" cy="550.3" rx="18.3" ry="16.8" fill="#EE4848" fill-opacity="0.020"/>
<ellipse cx="72.7" cy="510.5" rx="18.3" ry="16.8" fill="#1E90FF" fill-opacity="0.021"/>
<ellipse cx="185.6" cy="604" rx="18.3" ry="16.8" fill="#1E90FF" fill-opacity="0.021"/>
<ellipse cx="221" cy="593.6" rx="18.3" ry="16.8" fill="#1E90FF" fill-opacity="0.021"/>
<ellipse cx="300.9" cy="526.3" rx="18.3" ry="16.8" fill="#1E90FF" fill-opacity="0.021"/>
<ellipse cx="218.3" cy="506.3" rx="18.3" ry="16.8" fill="#EE4848" fill-opacity="0.020"/>
<ellipse cx="225.9" cy="457.9" rx="18.3" ry="16.8" fill="#EE4848" fill-opacity="0.020"/>
<ellipse cx="165.6" cy="514.9" rx="18.3" ry="16.8" fill="#EE4848" fill-opacity="0.020"/>
<ellipse cx="160.9" cy="525.4" rx="18.3" ry="16.8" fill="#EE4848" fill-opacity="0.020"/>
<ellipse cx="116" cy="517.2" rx="18.3" ry="16.8" fill="#EE4848" fill-opacity="0.020"/>
<ellipse cx="241" cy="505.7" rx="18.3" ry="16.8" fill="#EE4848" fill-opacity="0.020"/>
<ellipse cx="101.7" cy="495.9" rx="18.3" ry="16.8" fill="#1E90FF" fill-opacity="0.021"/>
<ellipse cx="219.9" cy="462.4" rx="18.3" ry="16.8" fill="#EE4848" fill-opacity="0.020"/>
<ellipse cx="226" cy="556.8" rx="18.3" ry="16.8" fill="#1E90FF" fill-opacity="0.021"/>
<ellipse cx="166.4" cy="537.8" rx="18.3" ry="16.8" fill="#EE4848" fill-opacity="0.020"/>
<ellipse cx="259.8" cy="572.5" rx="18.3" ry="16.8" fill="#1E90FF" fill-opacity="0.021"/>
<ellipse cx="108.6" cy="523.9" rx="18.3" ry="16.8" fill="#1E90FF" fill-opacity="0.021"/>
<ellipse cx="171.1" cy="558.3" rx="18.3" ry="16.8" fill="#EE4848" fill-opacity="0.020"/>
<ellipse cx="194.5" cy="471.4" rx="18.3" ry="16.8" fill="#EE4848" fill-opacity="0.020"/>
<ellipse cx="187.4" cy="557.2" rx="18.3" ry="16.8" fill="#EE4848" fill-opacity="0.020"/>
<ellipse cx="149.1" cy="540.6" rx="18.3" ry="16.8" fill="#EE4848" fill-opacity="0.020"/>
<ellipse cx="189" cy="481.2" rx="18.3" ry="16.8" fill="#EE4848" fill-opacity="0.020"/>
<ellipse cx="157.1" cy="483.8" rx="18.3" ry="16.8" fill="#EE4848" fill-opacity="0.020"/>
<ellipse cx="189.7" cy="467.9" rx="18.3" ry="16.8" fill="#EE4848" fill-opacity="0.020"/>
<ellipse cx="148" cy="545.6" rx="18.3" ry="16.8" fill="#EE4848" fill-opacity="0.020"/>
<ellipse cx="152.8" cy="471" rx="18.3" ry="16.8" fill="#EE4848" fill-opacity="0.020"/>
<ellipse cx="107.9" cy="485.8" rx="18.3" ry="16.8" fill="#1E90FF" fill-opacity="0.021"/>
<ellipse cx="174.9" cy="583.6" rx="18.3" ry="16.8" fill="#1E90FF" fill-opacity="0.021"/>
<ellipse cx="196" cy="471.2" rx="18.3" ry="16.8" fill="#EE4848" fill-opacity="0.020"/>
<ellipse cx="200.3" cy="559" rx="18.3" ry="16.8" fill="#EE4848" fill-opacity="0.020"/>
<ellipse cx="242.9" cy="533.1" rx="18.3" ry="16.8" fill="#EE4848" fill-opacity="0.020"/>
<ellipse cx="226" cy="533.9" rx="18.3" ry="16.8" fill="#EE4848" fill-opacity="0.020"/>
<ellipse cx="180.7" cy="537.1" rx="18.3" ry="16.8" fill="#EE4848" fill-opacity="0.020"/>
<ellipse cx="275.8" cy="566.9" rx="18.3" ry="16.8" fill="#1E90FF" fill-opacity="0.021"/>
<ellipse cx="201.4" cy="440.6" rx="18.3" ry="16.8" fill="#EE4848" fill-opacity="0.020"/>
<ellipse cx="141.4" cy="604.5" rx="18.3" ry="16.8" fill="#1E90FF" fill-opacity="0.021"/>
<ellipse cx="105.1" cy="536.3" rx="18.3" ry="16.8" fill="#1E90FF" fill-opacity="0.021"/>
<ellipse cx="211.5" cy="582.9" rx="18.3" ry="16.8" fill="#1E90FF" fill-opacity="0.021"/>
<ellipse cx="254.9" cy="496.4" rx="18.3" ry="16.8" fill="#EE4848" fill-opacity="0.020"/>
<ellipse cx="271.7" cy="535.8" rx="18.3" ry="16.8" fill="#1E90FF" fill-opacity="0.021"/>
<ellipse cx="81.6" cy="501.5" rx="18.3" ry="16.8" fill="#1E90FF" fill-opacity="0.021"/>
<ellipse cx="91.7" cy="503.2" rx="18.3" ry="16.8" fill="#1E90FF" fill-opacity="0.021"/>
<ellipse cx="161.6" cy="490.4" rx="18.3" ry="16.8" fill="#EE4848" fill-opacity="0.020"/>
<ellipse cx="251.4" cy="552.1" rx="18.3" ry="16.8" fill="#1E90FF" fill-opacity="0.021"/>
<ellipse cx="152.1" cy="538.4" rx="18.3" ry="16.8" fill="#EE4848" fill-opacity="0.020"/>
<ellipse cx="159.6" cy="534.9" rx="18.3" ry="16.8" fill="#EE4848" fill-opacity="0.020"/>
<ellipse cx="100" cy="504.6" rx="18.3" ry="16.8" fill="#1E90FF" fill-opacity="0.021"/>
<ellipse cx="222.3" cy="470.2" rx="18.3" ry="16.8" fill="#EE4848" fill-opacity="0.020"/>
<ellipse cx="170.2" cy="520.9" rx="18.3" ry="16.8" fill="#EE4848" fill-opacity="0.020"/>
<ellipse cx="114.1" cy="468.7" rx="18.3" ry="16.8" fill="#1E90FF" fill-opacity="0.021"/>
<ellipse cx="160.7" cy="507.3" rx="18.3" ry="16.8" fill="#EE4848" fill-opacity="0.020"/>
<ellipse cx="168.1" cy="479.4" rx="18.3" ry="16.8" fill="#EE4848" fill-opacity="0.020"/>
<ellipse cx="94.7" cy="542" rx="18.3" ry="16.8" fill="#1E90FF" fill-opacity="0.021"/>
<ellipse cx="211.7" cy="560.4" rx="18.3" ry="16.8" fill="#EE4848" fill-opacity="0.020"/>
<ellipse cx="234.8" cy="440.4" rx="18.3" ry="16.8" fill="#1E90FF" fill-opacity="0.021"/>
<ellipse cx="215" cy="541.7" rx="18.3" ry="16.8" fill="#EE4848" fill-opacity="0.020"/>
<ellipse cx="177.8" cy="421.7" rx="18.3" ry="16.8" fill="#1E90FF" fill-opacity="0.021"/>
<ellipse cx="243.5" cy="478.1" rx="18.3" ry="16.8" fill="#EE4848" fill-opacity="0.020"/>
<ellipse cx="131.1" cy="450.3" rx="18.3" ry="16.8" fill="#1E90FF" fill-opacity="0.021"/>
<ellipse cx="277.5" cy="537.6" rx="18.3" ry="16.8" fill="#1E90FF" fill-opacity="0.021"/>
<ellipse cx="173.9" cy="595.2" rx="18.3" ry="16.8" fill="#1E90FF" fill-opacity="0.021"/>
<ellipse cx="143" cy="519.3" rx="18.3" ry="16.8" fill="#EE4848" fill-opacity="0.020"/>
<ellipse cx="147.1" cy="579.6" rx="18.3" ry="16.8" fill="#1E90FF" fill-opacity="0.021"/>
<ellipse cx="262.3" cy="493.5" rx="18.3" ry="16.8" fill="#1E90FF" fill-opacity="0.021"/>
<ellipse cx="260.1" cy="440.2" rx="18.3" ry="16.8" fill="#1E90FF" fill-opacity="0.021"/>
<ellipse cx="268.1" cy="467" rx="18.3" ry="16.8" fill="#1E90FF" fill-opacity="0.021"/>
<ellipse cx="162.3" cy="576.9" rx="18.3" ry="16.8" fill="#1E90FF" fill-opacity="0.021"/>
<ellipse cx="97.9" cy="548.6" rx="18.3" ry="16.8" fill="#1E90FF" fill-opacity="0.021"/>
<ellipse cx="180.4" cy="545.6" rx="18.3" ry="16.8" fill="#EE4848" fill-opacity="0.020"/>
<ellipse cx="136.6" cy="465" rx="18.3" ry="16.8" fill="#EE4848" fill-opacity="0.020"/>
<ellipse cx="275.1" cy="574.9" rx="18.3" ry="16.8" fill="#1E90FF" fill-opacity="0.021"/>
<ellipse cx="122.6" cy="471.4" rx="18.3" ry="16.8" fill="#1E90FF" fill-opacity="0.021"/>
<ellipse cx="218.4" cy="418.3" rx="18.3" ry="16.8" fill="#1E90FF" fill-opacity="0.021"/>
<ellipse cx="272.4" cy="523.2" rx="18.3" ry="16.8" fill="#1E90FF" fill-opacity="0.021"/>
<ellipse cx="239.6" cy="522.5" rx="18.3" ry="16.8" fill="#EE4848" fill-opacity="0.020"/>
<ellipse cx="138.6" cy="521" rx="18.3" ry="16.8" fill="#EE4848" fill-opacity="0.020"/>
<ellipse cx="143.9" cy="601.9" rx="18.3" ry="16.8" fill="#1E90FF" fill-opacity="0.021"/>
<ellipse cx="254.2" cy="453.1" rx="18.3" ry="16.8" fill="#1E90FF" fill-opacity="0.021"/>
<ellipse cx="226.1" cy="507.4" rx="18.3" ry="16.8" fill="#EE4848" fill-opacity="0.020"/>
<ellipse cx="178.1" cy="543" rx="18.3" ry="16.8" fill="#EE4848" fill-opacity="0.020"/>
<ellipse cx="216.1" cy="556" rx="18.3" ry="16.8" fill="#1E90FF" fill-opacity="0.021"/>
<ellipse cx="206.1" cy="481.2" rx="18.3" ry="16.8" fill="#EE4848" fill-opacity="0.020"/>
<ellipse cx="234.5" cy="524.1" rx="18.3" ry="16.8" fill="#EE4848" fill-opacity="0.020"/>
<ellipse cx="158.5" cy="546.7" rx="18.3" ry="16.8" fill="#EE4848" fill-opacity="0.020"/>
<ellipse cx="273.3" cy="493.2" rx="18.3" ry="16.8" fill="#1E90FF" fill-opacity="0.021"/>
<ellipse cx="234.1" cy="523.9" rx="18.3" ry="16.8" fill="#EE4848" fill-opacity="0.020"/>
<ellipse cx="183.3" cy="546.2" rx="18.3" ry="16.8" fill="#EE4848" fill-opacity="0.020"/>
<ellipse cx="96.3" cy="460.1" rx="18.3" ry="16.8" fill="#1E90FF" fill-opacity="0.021"/>
<ellipse cx="272.7" cy="573.4" rx="18.3" ry="16.8" fill="#1E90FF" fill-opacity="0.021"/>
<ellipse cx="193.5" cy="575.9" rx="18.3" ry="16.8" fill="#EE4848" fill-opacity="0.020"/>
<ellipse cx="249.9" cy="581.1" rx="18.3" ry="16.8" fill="#1E90FF" fill-opacity="0.021"/>
<ellipse cx="152.4" cy="604.9" rx="18.3" ry="16.8" fill="#1E90FF" fill-opacity="0.021"/>
<ellipse cx="106.7" cy="440.4" rx="18.3" ry="16.8" fill="#1E90FF" fill-opacity="0.021"/>
<ellipse cx="230.3" cy="467.5" rx="18.3" ry="16.8" fill="#EE4848" fill-opacity="0.020"/>
<ellipse cx="262.4" cy="567.3" rx="18.3" ry="16.8" fill="#1E90FF" fill-opacity="0.021"/>
<ellipse cx="190" cy="429" rx="18.3" ry="16.8" fill="#1E90FF" fill-opacity="0.021"/>
<ellipse cx="205.6" cy="436.9" rx="18.3" ry="16.8" fill="#1E90FF" fill-opacity="0.021"/>
<ellipse cx="270.9" cy="461.3" rx="18.3" ry="16.8" fill="#1E90FF" fill-opacity="0.021"/>
<ellipse cx="246.8" cy="494.8" rx="18.3" ry="16.8" fill="#EE4848" fill-opacity="0.020"/>
<ellipse cx="155.6" cy="488.1" rx="18.3" ry="16.8" fill="#EE4848" fill-opacity="0.020"/>
<ellipse cx="232" cy="586.1" rx="18.3" ry="16.8" fill="#1E90FF" fill-opacity="0.021"/>
<ellipse cx="202.1" cy="557.8" rx="18.3" ry="16.8" fill="#EE4848" fill-opacity="0.020"/>
<ellipse cx="265.3" cy="449.7" rx="18.3" ry="16.8" fill="#1E90FF" fill-opacity="0.021"/>
<ellipse cx="196" cy="533.7" rx="18.3" ry="16.8" fill="#EE4848" fill-opacity="0.020"/>
<ellipse cx="276.5" cy="555.9" rx="18.3" ry="16.8" fill="#1E90FF" fill-opacity="0.021"/>
<ellipse cx="237.4" cy="496.4" rx="18.3" ry="16.8" fill="#EE4848" fill-opacity="0.020"/>
<ellipse cx="224.6" cy="462.7" rx="18.3" ry="16.8" fill="#EE4848" fill-opacity="0.020"/>
<ellipse cx="165.3" cy="583.1" rx="18.3" ry="16.8" fill="#1E90FF" fill-opacity="0.021"/>
<ellipse cx="206.5" cy="538.5" rx="18.3" ry="16.8" fill="#EE4848" fill-opacity="0.020"/>
<ellipse cx="102.7" cy="521.4" rx="18.3" ry="16.8" fill="#1E90FF" fill-opacity="0.021"/>
<ellipse cx="215.3" cy="435.3" rx="18.3" ry="16.8" fill="#1E90FF" fill-opacity="0.021"/>
<ellipse cx="126" cy="520.7" rx="18.3" ry="16.8" fill="#1E90FF" fill-opacity="0.021"/>
<ellipse cx="132.1" cy="525" rx="18.3" ry="16.8" fill="#1E90FF" fill-opacity="0.021"/>
<ellipse cx="223.9" cy="562.6" rx="18.3" ry="16.8" fill="#EE4848" fill-opacity="0.020"/>
<ellipse cx="288.7" cy="491.9" rx="18.3" ry="16.8" fill="#1E90FF" fill-opacity="0.021"/>
<ellipse cx="168" cy="474.9" rx="18.3" ry="16.8" fill="#EE4848" fill-opacity="0.020"/>
<ellipse cx="200.4" cy="531.9" rx="18.3" ry="16.8" fill="#EE4848" fill-opacity="0.020"/>
<ellipse cx="180.8" cy="390.7" rx="18.3" ry="16.8" fill="#1E90FF" fill-opacity="0.021"/>
<ellipse cx="202.8" cy="483" rx="18.3" ry="16.8" fill="#EE4848" fill-opacity="0.020"/>
<ellipse cx="271.4" cy="502.2" rx="18.3" ry="16.8" fill="#1E90FF" fill-opacity="0.021"/>
<ellipse cx="132.4" cy="577.5" rx="18.3" ry="16.8" fill="#1E90FF" fill-opacity="0.021"/>
<ellipse cx="255.7" cy="446" rx="18.3" ry="16.8" fill="#1E90FF" fill-opacity="0.021"/>
<ellipse cx="164.4" cy="508" rx="18.3" ry="16.8" fill="#EE4848" fill-opacity="0.020"/>
<ellipse cx="223.2" cy="523.7" rx="18.3" ry="16.8" fill="#EE4848" fill-opacity="0.020"/>
<ellipse cx="169.1" cy="503.4" rx="18.3" ry="16.8" fill="#EE4848" fill-opacity="0.020"/>
<ellipse cx="245.6" cy="575.6" rx="18.3" ry="16.8" fill="#1E90FF" fill-opacity="0.021"/>
<ellipse cx="246.8" cy="504.8" rx="18.3" ry="16.8" fill="#EE4848" fill-opacity="0.020"/>
<ellipse cx="205.1" cy="549.6" rx="18.3" ry="16.8" fill="#EE4848" fill-opacity="0.020"/>
<ellipse cx="170.2" cy="571.7" rx="18.3" ry="16.8" fill="#EE4848" fill-opacity="0.020"/>
<ellipse cx="155.3" cy="507.9" rx="18.3" ry="16.8" fill="#EE4848" fill-opacity="0.020"/>
<ellipse cx="270.4" cy="534.4" rx="18.3" ry="16.8" fill="#1E90FF" fill-opacity="0.021"/>
<ellipse cx="227.6" cy="569.9" rx="18.3" ry="16.8" fill="#1E90FF" fill-opacity="0.021"/>
<ellipse cx="266.8" cy="565.7" rx="18.3" ry="16.8" fill="#1E90FF" fill-opacity="0.021"/>
<ellipse cx="213.7" cy="504.7" rx="18.3" ry="16.8" fill="#EE4848" fill-opacity="0.020"/>
<ellipse cx="202.9" cy="552.1" rx="18.3" ry="16.8" fill="#EE4848" fill-opacity="0.020"/>
<ellipse cx="224.6" cy="514.1" rx="18.3" ry="16.8" fill="#EE4848" fill-opacity="0.020"/>
<ellipse cx="256.9" cy="546.5" rx="18.3" ry="16.8" fill="#EE4848" fill-opacity="0.020"/>
<ellipse cx="259" cy="516.7" rx="18.3" ry="16.8" fill="#EE4848" fill-opacity="0.020"/>
<ellipse cx="205.5" cy="481.6" rx="18.3" ry="16.8" fill="#EE4848" fill-opacity="0.020"/>
<ellipse cx="141.9" cy="509.2" rx="18.3" ry="16.8" fill="#EE4848" fill-opacity="0.020"/>
<ellipse cx="255.4" cy="474.8" rx="18.3" ry="16.8" fill="#EE4848" fill-opacity="0.020"/>
<ellipse cx="202.2" cy="599.3" rx="18.3" ry="16.8" fill="#1E90FF" fill-opacity="0.021"/>
<ellipse cx="140.3" cy="583" rx="18.3" ry="16.8" fill="#1E90FF" fill-opacity="0.021"/>
<ellipse cx="207.8" cy="447.7" rx="18.3" ry="16.8" fill="#1E90FF" fill-opacity="0.021"/>
<ellipse cx="279.8" cy="582.6" rx="18.3" ry="16.8" fill="#1E90FF" fill-opacity="0.021"/>
<ellipse cx="152.3" cy="553.2" rx="18.3" ry="16.8" fill="#EE4848" fill-opacity="0.020"/>
<ellipse cx="204.8" cy="595.6" rx="18.3" ry="16.8" fill="#1E90FF" fill-opacity="0.021"/>
<ellipse cx="184.8" cy="488" rx="18.3" ry="16.8" fill="#EE4848" fill-opacity="0.020"/>
<ellipse cx="255" cy="524.1" rx="18.3" ry="16.8" fill="#EE4848" fill-opacity="0.020"/>
<ellipse cx="117.5" cy="500" rx="18.3" ry="16.8" fill="#1E90FF" fill-opacity="0.021"/>
<ellipse cx="222.4" cy="419.7" rx="18.3" ry="16.8" fill="#1E90FF" fill-opacity="0.021"/>
<ellipse cx="163" cy="529.8" rx="18.3" ry="16.8" fill="#EE4848" fill-opacity="0.020"/>
<ellipse cx="304.5" cy="482.2" rx="18.3" ry="16.8" fill="#1E90FF" fill-opacity="0.021"/>
<ellipse cx="190.6" cy="560.8" rx="18.3" ry="16.8" fill="#EE4848" fill-opacity="0.020"/>
<ellipse cx="234.3" cy="537.7" rx="18.3" ry="16.8" fill="#EE4848" fill-opacity="0.020"/>
<ellipse cx="212.9" cy="441" rx="18.3" ry="16.8" fill="#1E90FF" fill-opacity="0.021"/>
<ellipse cx="194" cy="541.1" rx="18.3" ry="16.8" fill="#EE4848" fill-opacity="0.020"/>
<ellipse cx="145.3" cy="468.4" rx="18.3" ry="16.8" fill="#1E90FF" fill-opacity="0.021"/>
<ellipse cx="208.8" cy="582.9" rx="18.3" ry="16.8" fill="#1E90FF" fill-opacity="0.021"/>
<ellipse cx="222" cy="446.4" rx="18.3" ry="16.8" fill="#1E90FF" fill-opacity="0.021"/>
<ellipse cx="219.8" cy="498.7" rx="18.3" ry="16.8" fill="#EE4848" fill-opacity="0.020"/>
<ellipse cx="179.9" cy="552.3" rx="18.3" ry="16.8" fill="#EE4848" fill-opacity="0.020"/>
<ellipse cx="140.9" cy="509.3" rx="18.3" ry="16.8" fill="#EE4848" fill-opacity="0.020"/>
<ellipse cx="120.9" cy="444" rx="18.3" ry="16.8" fill="#1E90FF" fill-opacity="0.021"/>
<ellipse cx="173.7" cy="495.7" rx="18.3" ry="16.8" fill="#EE4848" fill-opacity="0.020"/>
<ellipse cx="226" cy="537.2" rx="18.3" ry="16.8" fill="#EE4848" fill-opacity="0.020"/>
<ellipse cx="217.5" cy="430.3" rx="18.3" ry="16.8" fill="#1E90FF" fill-opacity="0.021"/>
<ellipse cx="152" cy="481.1" rx="18.3" ry="16.8" fill="#EE4848" fill-opacity="0.020"/>
<ellipse cx="242.6" cy="497.1" rx="18.3" ry="16.8" fill="#EE4848" fill-opacity="0.020"/>
<ellipse cx="287.4" cy="519.7" rx="18.3" ry="16.8" fill="#1E90FF" fill-opacity="0.021"/>
<ellipse cx="252.4" cy="474.6" rx="18.3" ry="16.8" fill="#1E90FF" fill-opacity="0.021"/>
<ellipse cx="192.8" cy="485.5" rx="18.3" ry="16.8" fill="#EE4848" fill-opacity="0.020"/>
<ellipse cx="147.2" cy="451.2" rx="18.3" ry="16.8" fill="#1E90FF" fill-opacity="0.021"/>
<ellipse cx="143.6" cy="532.2" rx="18.3" ry="16.8" fill="#EE4848" fill-opacity="0.020"/>
<ellipse cx="233.6" cy="500.3" rx="18.3" ry="16.8" fill="#EE4848" fill-opacity="0.020"/>
<ellipse cx="156.2" cy="587" rx="18.3" ry="16.8" fill="#1E90FF" fill-opacity="0.021"/>
<ellipse cx="168.6" cy="465.1" rx="18.3" ry="16.8" fill="#EE4848" fill-opacity="0.020"/>
<ellipse cx="231.5" cy="509.8" rx="18.3" ry="16.8" fill="#EE4848" fill-opacity="0.020"/>
<ellipse cx="115.1" cy="548.9" rx="18.3" ry="16.8" fill="#1E90FF" fill-opacity="0.021"/>
<ellipse cx="213.7" cy="490.4" rx="18.3" ry="16.8" fill="#EE4848" fill-opacity="0.020"/>
<ellipse cx="247.3" cy="508" rx="18.3" ry="16.8" fill="#EE4848" fill-opacity="0.020"/>
<ellipse cx="195.6" cy="499.1" rx="18.3" ry="16.8" fill="#EE4848" fill-opacity="0.020"/>
<ellipse cx="295.9" cy="499.8" rx="18.3" ry="16.8" fill="#1E90FF" fill-opacity="0.021"/>
<ellipse cx="206.3" cy="431.9" rx="18.3" ry="16.8" fill="#1E90FF" fill-opacity="0.021"/>
<ellipse cx="130.9" cy="497" rx="18.3" ry="16.8" fill="#EE4848" fill-opacity="0.020"/>
<ellipse cx="236.8" cy="424.8" rx="18.3" ry="16.8" fill="#1E90FF" fill-opacity="0.021"/>
<ellipse cx="254.8" cy="550.4" rx="18.3" ry="16.8" fill="#EE4848" fill-opacity="0.020"/>
<ellipse cx="138" cy="590.3" rx="18.3" ry="16.8" fill="#1E90FF" fill-opacity="0.021"/>
<ellipse cx="166.3" cy="561.2" rx="18.3" ry="16.8" fill="#EE4848" fill-opacity="0.020"/>
<ellipse cx="216.8" cy="593" rx="18.3" ry="16.8" fill="#1E90FF" fill-opacity="0.021"/>
<ellipse cx="239.1" cy="494.7" rx="18.3" ry="16.8" fill="#EE4848" fill-opacity="0.020"/>
<ellipse cx="186.1" cy="581.3" rx="18.3" ry="16.8" fill="#1E90FF" fill-opacity="0.021"/>
<ellipse cx="151.6" cy="583.5" rx="18.3" ry="16.8" fill="#1E90FF" fill-opacity="0.021"/>
<ellipse cx="184.6" cy="436.1" rx="18.3" ry="16.8" fill="#1E90FF" fill-opacity="0.021"/>
<ellipse cx="204.5" cy="436.2" rx="18.3" ry="16.8" fill="#1E90FF" fill-opacity="0.021"/>
<ellipse cx="163.7" cy="497.9" rx="18.3" ry="16.8" fill="#EE4848" fill-opacity="0.020"/>
<ellipse cx="304.5" cy="540.7" rx="18.3" ry="16.8" fill="#1E90FF" fill-opacity="0.021"/>
<ellipse cx="237.6" cy="501.6" rx="18.3" ry="16.8" fill="#EE4848" fill-opacity="0.020"/>
<ellipse cx="258.8" cy="469.1" rx="18.3" ry="16.8" fill="#1E90FF" fill-opacity="0.021"/>
<ellipse cx="180.6" cy="451.8" rx="18.3" ry="16.8" fill="#EE4848" fill-opacity="0.020"/>
<ellipse cx="200" cy="548.5" rx="18.3" ry="16.8" fill="#EE4848" fill-opacity="0.020"/>
<ellipse cx="137.1" cy="573" rx="18.3" ry="16.8" fill="#1E90FF" fill-opacity="0.021"/>
<ellipse cx="219.4" cy="499.1" rx="18.3" ry="16.8" fill="#EE4848" fill-opacity="0.020"/>
<ellipse cx="189.5" cy="548.2" rx="18.3" ry="16.8" fill="#EE4848" fill-opacity="0.020"/>
<ellipse cx="197.1" cy="586.8" rx="18.3" ry="16.8" fill="#1E90FF" fill-opacity="0.021"/>
<ellipse cx="153.1" cy="552.4" rx="18.3" ry="16.8" fill="#EE4848" fill-opacity="0.020"/>
<ellipse cx="216" cy="448.1" rx="18.3" ry="16.8" fill="#EE4848" fill-opacity="0.020"/>
<ellipse cx="182.7" cy="542.3" rx="18.3" ry="16.8" fill="#EE4848" fill-opacity="0.020"/>
<ellipse cx="144.6" cy="477.2" rx="18.3" ry="16.8" fill="#EE4848" fill-opacity="0.020"/>
<ellipse cx="246.3" cy="509.2" rx="18.3" ry="16.8" fill="#EE4848" fill-opacity="0.020"/>
<ellipse cx="200.5" cy="452.7" rx="18.3" ry="16.8" fill="#EE4848" fill-opacity="0.020"/>
<ellipse cx="103.7" cy="574.2" rx="18.3" ry="16.8" fill="#1E90FF" fill-opacity="0.021"/>
<ellipse cx="109.5" cy="518.1" rx="18.3" ry="16.8" fill="#1E90FF" fill-opacity="0.021"/>
<ellipse cx="132.3" cy="557.1" rx="18.3" ry="16.8" fill="#1E90FF" fill-opacity="0.021"/>
<ellipse cx="141" cy="491.5" rx="18.3" ry="16.8" fill="#EE4848" fill-opacity="0.020"/>
<ellipse cx="102.5" cy="465.5" rx="18.3" ry="16.8" fill="#1E90FF" fill-opacity="0.021"/>
<ellipse cx="152.2" cy="514.7" rx="18.3" ry="16.8" fill="#EE4848" fill-opacity="0.020"/>
<ellipse cx="172" cy="468.7" rx="18.3" ry="16.8" fill="#1E90FF" fill-opacity="0.021"/>
<ellipse cx="206.1" cy="561.6" rx="18.3" ry="16.8" fill="#EE4848" fill-opacity="0.020"/>
<ellipse cx="161.8" cy="483.5" rx="18.3" ry="16.8" fill="#EE4848" fill-opacity="0.020"/>
<ellipse cx="229.4" cy="569.8" rx="18.3" ry="16.8" fill="#1E90FF" fill-opacity="0.021"/>
<ellipse cx="213.6" cy="542.9" rx="18.3" ry="16.8" fill="#EE4848" fill-opacity="0.020"/>
<ellipse cx="93.8" cy="513.6" rx="18.3" ry="16.8" fill="#1E90FF" fill-opacity="0.021"/>
<ellipse cx="259.9" cy="502.8" rx="18.3" ry="16.8" fill="#EE4848" fill-opacity="0.020"/>
<ellipse cx="245.7" cy="497.8" rx="18.3" ry="16.8" fill="#1E90FF" fill-opacity="0.021"/>
<ellipse cx="206.5" cy="603.7" rx="18.3" ry="16.8" fill="#1E90FF" fill-opacity="0.021"/>
<ellipse cx="148.9" cy="418.3" rx="18.3" ry="16.8" fill="#1E90FF" fill-opacity="0.021"/>
<ellipse cx="111.9" cy="471.7" rx="18.3" ry="16.8" fill="#1E90FF" fill-opacity="0.021"/>
<ellipse cx="242.3" cy="509.6" rx="18.3" ry="16.8" fill="#EE4848" fill-opacity="0.020"/>
<ellipse cx="132.8" cy="467.2" rx="18.3" ry="16.8" fill="#EE4848" fill-opacity="0.020"/>
<ellipse cx="168.3" cy="570.6" rx="18.3" ry="16.8" fill="#EE4848" fill-opacity="0.020"/>
<ellipse cx="100.1" cy="441.4" rx="18.3" ry="16.8" fill="#1E90FF" fill-opacity="0.021"/>
</g>
<path fill="none" stroke="#2A8EE6" stroke-width="1.35" d="M191.4 424.9l4.6 4.6m0-4.6l-4.6 4.6M138 561.8l4.6 4.6m0-4.6l-4.6 4.6M119.8 446.1l4.6 4.6m0-4.6l-4.6 4.6M103.9 495.6l4.6 4.6m0-4.6l-4.6 4.6M166.9 438.9l4.6 4.6m0-4.6l-4.6 4.6M279.6 497.7l4.6 4.6m0-4.6l-4.6 4.6M220.5 610l4.6 4.6m0-4.6l-4.6 4.6M124.5 449.5l4.6 4.6m0-4.6l-4.6 4.6M256.3 447.4l4.6 4.6m0-4.6l-4.6 4.6M149.5 448.9l4.6 4.6m0-4.6l-4.6 4.6M245.2 582.2l4.6 4.6m0-4.6l-4.6 4.6M110.4 438l4.6 4.6m0-4.6l-4.6 4.6M157.2 588.3l4.6 4.6m0-4.6l-4.6 4.6M276.8 492l4.6 4.6m0-4.6l-4.6 4.6M186.1 425.7l4.6 4.6m0-4.6l-4.6 4.6M231.5 577.2l4.6 4.6m0-4.6l-4.6 4.6M190.1 416.8l4.6 4.6m0-4.6l-4.6 4.6M92.9 455.1l4.6 4.6m0-4.6l-4.6 4.6M173 618.3l4.6 4.6m0-4.6l-4.6 4.6M242.7 468l4.6 4.6m0-4.6l-4.6 4.6M177.9 426.8l4.6 4.6m0-4.6l-4.6 4.6M289.3 504.3l4.6 4.6m0-4.6l-4.6 4.6M288.5 473.9l4.6 4.6m0-4.6l-4.6 4.6M255.1 467.6l4.6 4.6m0-4.6l-4.6 4.6M131.7 415.2l4.6 4.6m0-4.6l-4.6 4.6M150 586.5l4.6 4.6m0-4.6l-4.6 4.6M95.7 520.1l4.6 4.6m0-4.6l-4.6 4.6M194.8 601.1l4.6 4.6m0-4.6l-4.6 4.6M193.5 409.5l4.6 4.6m0-4.6l-4.6 4.6M116.9 554.2l4.6 4.6m0-4.6l-4.6 4.6M259.2 477.4l4.6 4.6m0-4.6l-4.6 4.6M212.1 594l4.6 4.6m0-4.6l-4.6 4.6M137.2 413.5l4.6 4.6m0-4.6l-4.6 4.6M130.9 425.8l4.6 4.6m0-4.6l-4.6 4.6M238.1 433.3l4.6 4.6m0-4.6l-4.6 4.6M208.7 431.9l4.6 4.6m0-4.6l-4.6 4.6M295.5 541.6l4.6 4.6m0-4.6l-4.6 4.6M163.6 436.5l4.6 4.6m0-4.6l-4.6 4.6M72.4 570.3l4.6 4.6m0-4.6l-4.6 4.6M138.4 425.9l4.6 4.6m0-4.6l-4.6 4.6M173.1 593.5l4.6 4.6m0-4.6l-4.6 4.6M133.4 436.4l4.6 4.6m0-4.6l-4.6 4.6M172.3 590.4l4.6 4.6m0-4.6l-4.6 4.6M144.3 467.4l4.6 4.6m0-4.6l-4.6 4.6M192.6 445.2l4.6 4.6m0-4.6l-4.6 4.6M281.7 491.7l4.6 4.6m0-4.6l-4.6 4.6M294.1 516.1l4.6 4.6m0-4.6l-4.6 4.6M251.4 466.2l4.6 4.6m0-4.6l-4.6 4.6M226.8 398.4l4.6 4.6m0-4.6l-4.6 4.6M262.8 563.6l4.6 4.6m0-4.6l-4.6 4.6M125.4 528.2l4.6 4.6m0-4.6l-4.6 4.6M84.2 535.4l4.6 4.6m0-4.6l-4.6 4.6M273.5 471.6l4.6 4.6m0-4.6l-4.6 4.6M286.7 509.2l4.6 4.6m0-4.6l-4.6 4.6M259.5 558.8l4.6 4.6m0-4.6l-4.6 4.6M102.9 500.5l4.6 4.6m0-4.6l-4.6 4.6M237.5 454.3l4.6 4.6m0-4.6l-4.6 4.6M234.1 565.8l4.6 4.6m0-4.6l-4.6 4.6M157.7 617.9l4.6 4.6m0-4.6l-4.6 4.6M154.2 573.1l4.6 4.6m0-4.6l-4.6 4.6M275.7 528.9l4.6 4.6m0-4.6l-4.6 4.6M285.9 531.9l4.6 4.6m0-4.6l-4.6 4.6M226.6 578l4.6 4.6m0-4.6l-4.6 4.6M96.8 533.8l4.6 4.6m0-4.6l-4.6 4.6M251.1 480.8l4.6 4.6m0-4.6l-4.6 4.6M112.1 484.3l4.6 4.6m0-4.6l-4.6 4.6M79.4 509l4.6 4.6m0-4.6l-4.6 4.6M195.4 421.8l4.6 4.6m0-4.6l-4.6 4.6M207.9 604.6l4.6 4.6m0-4.6l-4.6 4.6M289.7 460.2l4.6 4.6m0-4.6l-4.6 4.6M269.2 474.6l4.6 4.6m0-4.6l-4.6 4.6M192.8 448.7l4.6 4.6m0-4.6l-4.6 4.6M223.6 610.9l4.6 4.6m0-4.6l-4.6 4.6M132.1 464.9l4.6 4.6m0-4.6l-4.6 4.6M271.7 457.2l4.6 4.6m0-4.6l-4.6 4.6M268 567.1l4.6 4.6m0-4.6l-4.6 4.6M290.2 492.5l4.6 4.6m0-4.6l-4.6 4.6M93.2 486.5l4.6 4.6m0-4.6l-4.6 4.6M236.7 451.4l4.6 4.6m0-4.6l-4.6 4.6M269.3 470.6l4.6 4.6m0-4.6l-4.6 4.6M283.6 494.6l4.6 4.6m0-4.6l-4.6 4.6M220.3 552.4l4.6 4.6m0-4.6l-4.6 4.6M203.9 456.8l4.6 4.6m0-4.6l-4.6 4.6M71.9 462.2l4.6 4.6m0-4.6l-4.6 4.6M256.9 442l4.6 4.6m0-4.6l-4.6 4.6M256.7 465.4l4.6 4.6m0-4.6l-4.6 4.6M278.3 473.2l4.6 4.6m0-4.6l-4.6 4.6M74.3 467.8l4.6 4.6m0-4.6l-4.6 4.6M274.6 455.6l4.6 4.6m0-4.6l-4.6 4.6M168.7 569.1l4.6 4.6m0-4.6l-4.6 4.6M116.7 471.2l4.6 4.6m0-4.6l-4.6 4.6M110.3 468.5l4.6 4.6m0-4.6l-4.6 4.6M144.1 599.3l4.6 4.6m0-4.6l-4.6 4.6M184.3 591.1l4.6 4.6m0-4.6l-4.6 4.6M119.2 561.4l4.6 4.6m0-4.6l-4.6 4.6M197.3 599.6l4.6 4.6m0-4.6l-4.6 4.6M123.5 552.5l4.6 4.6m0-4.6l-4.6 4.6M165.8 424.7l4.6 4.6m0-4.6l-4.6 4.6M252.3 584.9l4.6 4.6m0-4.6l-4.6 4.6M144.6 574.9l4.6 4.6m0-4.6l-4.6 4.6M94.4 466.9l4.6 4.6m0-4.6l-4.6 4.6M271.1 523.5l4.6 4.6m0-4.6l-4.6 4.6M114.4 551.3l4.6 4.6m0-4.6l-4.6 4.6M158.1 469.7l4.6 4.6m0-4.6l-4.6 4.6M118.8 549.5l4.6 4.6m0-4.6l-4.6 4.6M162.1 442.2l4.6 4.6m0-4.6l-4.6 4.6M273.5 548.3l4.6 4.6m0-4.6l-4.6 4.6M119.8 563.4l4.6 4.6m0-4.6l-4.6 4.6M139.9 564.8l4.6 4.6m0-4.6l-4.6 4.6M229.2 604l4.6 4.6m0-4.6l-4.6 4.6M300.2 530.6l4.6 4.6m0-4.6l-4.6 4.6M154.8 475.6l4.6 4.6m0-4.6l-4.6 4.6M98.9 486.5l4.6 4.6m0-4.6l-4.6 4.6M274.8 552.5l4.6 4.6m0-4.6l-4.6 4.6M249.8 555.2l4.6 4.6m0-4.6l-4.6 4.6M264.2 433.1l4.6 4.6m0-4.6l-4.6 4.6M211.3 583.6l4.6 4.6m0-4.6l-4.6 4.6M116.4 546.3l4.6 4.6m0-4.6l-4.6 4.6M272.8 510.9l4.6 4.6m0-4.6l-4.6 4.6M199 439.8l4.6 4.6m0-4.6l-4.6 4.6M102.3 478l4.6 4.6m0-4.6l-4.6 4.6M131.1 462l4.6 4.6m0-4.6l-4.6 4.6M268.5 478.1l4.6 4.6m0-4.6l-4.6 4.6M139.8 566.1l4.6 4.6m0-4.6l-4.6 4.6M133 558.7l4.6 4.6m0-4.6l-4.6 4.6M154.3 592l4.6 4.6m0-4.6l-4.6 4.6M172.9 590.6l4.6 4.6m0-4.6l-4.6 4.6M290.1 501.7l4.6 4.6m0-4.6l-4.6 4.6M148.6 469.7l4.6 4.6m0-4.6l-4.6 4.6M143.1 421.7l4.6 4.6m0-4.6l-4.6 4.6M235.9 424.3l4.6 4.6m0-4.6l-4.6 4.6M140.4 568.8l4.6 4.6m0-4.6l-4.6 4.6M211.9 606.1l4.6 4.6m0-4.6l-4.6 4.6M114.6 566.5l4.6 4.6m0-4.6l-4.6 4.6M96.2 577.5l4.6 4.6m0-4.6l-4.6 4.6M92.9 515.1l4.6 4.6m0-4.6l-4.6 4.6M108.3 454.7l4.6 4.6m0-4.6l-4.6 4.6M123.9 539l4.6 4.6m0-4.6l-4.6 4.6M288.5 516.7l4.6 4.6m0-4.6l-4.6 4.6M120.8 461.6l4.6 4.6m0-4.6l-4.6 4.6M70.4 508.2l4.6 4.6m0-4.6l-4.6 4.6M183.3 601.7l4.6 4.6m0-4.6l-4.6 4.6M218.7 591.3l4.6 4.6m0-4.6l-4.6 4.6M298.6 524l4.6 4.6m0-4.6l-4.6 4.6M99.4 493.6l4.6 4.6m0-4.6l-4.6 4.6M223.7 554.5l4.6 4.6m0-4.6l-4.6 4.6M257.5 570.2l4.6 4.6m0-4.6l-4.6 4.6M106.3 521.6l4.6 4.6m0-4.6l-4.6 4.6M105.6 483.5l4.6 4.6m0-4.6l-4.6 4.6M172.6 581.3l4.6 4.6m0-4.6l-4.6 4.6M273.5 564.6l4.6 4.6m0-4.6l-4.6 4.6M139.1 602.2l4.6 4.6m0-4.6l-4.6 4.6M102.8 534l4.6 4.6m0-4.6l-4.6 4.6M209.2 580.6l4.6 4.6m0-4.6l-4.6 4.6M269.4 533.5l4.6 4.6m0-4.6l-4.6 4.6M79.3 499.2l4.6 4.6m0-4.6l-4.6 4.6M89.4 500.9l4.6 4.6m0-4.6l-4.6 4.6M249.1 549.8l4.6 4.6m0-4.6l-4.6 4.6M97.7 502.3l4.6 4.6m0-4.6l-4.6 4.6M111.8 466.4l4.6 4.6m0-4.6l-4.6 4.6M92.4 539.7l4.6 4.6m0-4.6l-4.6 4.6M232.5 438.1l4.6 4.6m0-4.6l-4.6 4.6M175.5 419.4l4.6 4.6m0-4.6l-4.6 4.6M128.8 448l4.6 4.6m0-4.6l-4.6 4.6M275.2 535.3l4.6 4.6m0-4.6l-4.6 4.6M171.6 592.9l4.6 4.6m0-4.6l-4.6 4.6M144.8 577.3l4.6 4.6m0-4.6l-4.6 4.6M260 491.2l4.6 4.6m0-4.6l-4.6 4.6M257.8 437.9l4.6 4.6m0-4.6l-4.6 4.6M265.8 464.7l4.6 4.6m0-4.6l-4.6 4.6M160 574.6l4.6 4.6m0-4.6l-4.6 4.6M95.6 546.3l4.6 4.6m0-4.6l-4.6 4.6M272.8 572.6l4.6 4.6m0-4.6l-4.6 4.6M120.3 469.1l4.6 4.6m0-4.6l-4.6 4.6M216.1 416l4.6 4.6m0-4.6l-4.6 4.6M270.1 520.9l4.6 4.6m0-4.6l-4.6 4.6M141.6 599.6l4.6 4.6m0-4.6l-4.6 4.6M251.9 450.8l4.6 4.6m0-4.6l-4.6 4.6M213.8 553.7l4.6 4.6m0-4.6l-4.6 4.6M271 490.9l4.6 4.6m0-4.6l-4.6 4.6M94 457.8l4.6 4.6m0-4.6l-4.6 4.6M270.4 571.1l4.6 4.6m0-4.6l-4.6 4.6M247.6 578.8l4.6 4.6m0-4.6l-4.6 4.6M150.1 602.6l4.6 4.6m0-4.6l-4.6 4.6M104.4 438.1l4.6 4.6m0-4.6l-4.6 4.6M260.1 565l4.6 4.6m0-4.6l-4.6 4.6M187.7 426.7l4.6 4.6m0-4.6l-4.6 4.6M203.3 434.6l4.6 4.6m0-4.6l-4.6 4.6M268.6 459l4.6 4.6m0-4.6l-4.6 4.6M229.7 583.8l4.6 4.6m0-4.6l-4.6 4.6M263 447.4l4.6 4.6m0-4.6l-4.6 4.6M274.2 553.6l4.6 4.6m0-4.6l-4.6 4.6M163 580.8l4.6 4.6m0-4.6l-4.6 4.6M100.4 519.1l4.6 4.6m0-4.6l-4.6 4.6M213 433l4.6 4.6m0-4.6l-4.6 4.6M123.7 518.4l4.6 4.6m0-4.6l-4.6 4.6M129.8 522.7l4.6 4.6m0-4.6l-4.6 4.6M286.4 489.6l4.6 4.6m0-4.6l-4.6 4.6M178.5 388.4l4.6 4.6m0-4.6l-4.6 4.6M269.1 499.9l4.6 4.6m0-4.6l-4.6 4.6M130.1 575.2l4.6 4.6m0-4.6l-4.6 4.6M253.4 443.7l4.6 4.6m0-4.6l-4.6 4.6M243.3 573.3l4.6 4.6m0-4.6l-4.6 4.6M268.1 532.1l4.6 4.6m0-4.6l-4.6 4.6M225.3 567.6l4.6 4.6m0-4.6l-4.6 4.6M264.5 563.4l4.6 4.6m0-4.6l-4.6 4.6M199.9 597l4.6 4.6m0-4.6l-4.6 4.6M138 580.7l4.6 4.6m0-4.6l-4.6 4.6M205.5 445.4l4.6 4.6m0-4.6l-4.6 4.6M277.5 580.3l4.6 4.6m0-4.6l-4.6 4.6M202.5 593.3l4.6 4.6m0-4.6l-4.6 4.6M115.2 497.7l4.6 4.6m0-4.6l-4.6 4.6M220.1 417.4l4.6 4.6m0-4.6l-4.6 4.6M302.2 479.9l4.6 4.6m0-4.6l-4.6 4.6M210.6 438.7l4.6 4.6m0-4.6l-4.6 4.6M143 466.1l4.6 4.6m0-4.6l-4.6 4.6M206.5 580.6l4.6 4.6m0-4.6l-4.6 4.6M219.7 444.1l4.6 4.6m0-4.6l-4.6 4.6M118.6 441.7l4.6 4.6m0-4.6l-4.6 4.6M215.2 428l4.6 4.6m0-4.6l-4.6 4.6M285.1 517.4l4.6 4.6m0-4.6l-4.6 4.6M250.1 472.3l4.6 4.6m0-4.6l-4.6 4.6M144.9 448.9l4.6 4.6m0-4.6l-4.6 4.6M153.9 584.7l4.6 4.6m0-4.6l-4.6 4.6M112.8 546.6l4.6 4.6m0-4.6l-4.6 4.6M293.6 497.5l4.6 4.6m0-4.6l-4.6 4.6M204 429.6l4.6 4.6m0-4.6l-4.6 4.6M234.5 422.5l4.6 4.6m0-4.6l-4.6 4.6M135.7 588l4.6 4.6m0-4.6l-4.6 4.6M214.5 590.7l4.6 4.6m0-4.6l-4.6 4.6M183.8 579l4.6 4.6m0-4.6l-4.6 4.6M149.3 581.2l4.6 4.6m0-4.6l-4.6 4.6M182.3 433.8l4.6 4.6m0-4.6l-4.6 4.6M202.2 433.9l4.6 4.6m0-4.6l-4.6 4.6M302.2 538.4l4.6 4.6m0-4.6l-4.6 4.6M256.5 466.8l4.6 4.6m0-4.6l-4.6 4.6M134.8 570.7l4.6 4.6m0-4.6l-4.6 4.6M194.8 584.5l4.6 4.6m0-4.6l-4.6 4.6M101.4 571.9l4.6 4.6m0-4.6l-4.6 4.6M107.2 515.8l4.6 4.6m0-4.6l-4.6 4.6M130 554.8l4.6 4.6m0-4.6l-4.6 4.6M100.2 463.2l4.6 4.6m0-4.6l-4.6 4.6M169.7 466.4l4.6 4.6m0-4.6l-4.6 4.6M227.1 567.5l4.6 4.6m0-4.6l-4.6 4.6M91.5 511.3l4.6 4.6m0-4.6l-4.6 4.6M243.4 495.5l4.6 4.6m0-4.6l-4.6 4.6M204.2 601.4l4.6 4.6m0-4.6l-4.6 4.6M146.6 416l4.6 4.6m0-4.6l-4.6 4.6M109.6 469.4l4.6 4.6m0-4.6l-4.6 4.6M97.8 439.1l4.6 4.6m0-4.6l-4.6 4.6"/>
<path fill="none" stroke="#EE4848" stroke-width="1.35" d="M145.7 487.1l4.6 4.6m0-4.6l-4.6 4.6M150.7 508.1l4.6 4.6m0-4.6l-4.6 4.6M151.1 533.7l4.6 4.6m0-4.6l-4.6 4.6M149 498.9l4.6 4.6m0-4.6l-4.6 4.6M195.4 566.9l4.6 4.6m0-4.6l-4.6 4.6M177.5 552.8l4.6 4.6m0-4.6l-4.6 4.6M169.9 507.3l4.6 4.6m0-4.6l-4.6 4.6M152.5 526.8l4.6 4.6m0-4.6l-4.6 4.6M233 522.7l4.6 4.6m0-4.6l-4.6 4.6M207.8 492.9l4.6 4.6m0-4.6l-4.6 4.6M179.9 535.3l4.6 4.6m0-4.6l-4.6 4.6M228.1 528.4l4.6 4.6m0-4.6l-4.6 4.6M247.8 517.6l4.6 4.6m0-4.6l-4.6 4.6M201 477.8l4.6 4.6m0-4.6l-4.6 4.6M163.7 481l4.6 4.6m0-4.6l-4.6 4.6M209.8 504.9l4.6 4.6m0-4.6l-4.6 4.6M213.2 524.8l4.6 4.6m0-4.6l-4.6 4.6M153.4 475.3l4.6 4.6m0-4.6l-4.6 4.6M228.6 545.8l4.6 4.6m0-4.6l-4.6 4.6M143.3 472.8l4.6 4.6m0-4.6l-4.6 4.6M216.5 547.8l4.6 4.6m0-4.6l-4.6 4.6M159.1 491.6l4.6 4.6m0-4.6l-4.6 4.6M136.8 541.7l4.6 4.6m0-4.6l-4.6 4.6M162.3 532.5l4.6 4.6m0-4.6l-4.6 4.6M217.3 516l4.6 4.6m0-4.6l-4.6 4.6M156.7 564.3l4.6 4.6m0-4.6l-4.6 4.6M153 540.6l4.6 4.6m0-4.6l-4.6 4.6M223.6 528.4l4.6 4.6m0-4.6l-4.6 4.6M214.3 508.3l4.6 4.6m0-4.6l-4.6 4.6M169.9 471.2l4.6 4.6m0-4.6l-4.6 4.6M221.6 548.5l4.6 4.6m0-4.6l-4.6 4.6M214.7 548.7l4.6 4.6m0-4.6l-4.6 4.6M151.2 527.6l4.6 4.6m0-4.6l-4.6 4.6M169.2 496.7l4.6 4.6m0-4.6l-4.6 4.6M174.5 484.2l4.6 4.6m0-4.6l-4.6 4.6M214.9 483.4l4.6 4.6m0-4.6l-4.6 4.6M218 451.6l4.6 4.6m0-4.6l-4.6 4.6M187.9 467l4.6 4.6m0-4.6l-4.6 4.6M220.4 462.5l4.6 4.6m0-4.6l-4.6 4.6M221.1 475.7l4.6 4.6m0-4.6l-4.6 4.6M196.6 560.7l4.6 4.6m0-4.6l-4.6 4.6M222.5 546.6l4.6 4.6m0-4.6l-4.6 4.6M219.4 502l4.6 4.6m0-4.6l-4.6 4.6M194.8 463.5l4.6 4.6m0-4.6l-4.6 4.6M174.5 520.1l4.6 4.6m0-4.6l-4.6 4.6M192.7 474.8l4.6 4.6m0-4.6l-4.6 4.6M195.7 459.3l4.6 4.6m0-4.6l-4.6 4.6M139.7 510.6l4.6 4.6m0-4.6l-4.6 4.6M249.9 535.3l4.6 4.6m0-4.6l-4.6 4.6M142.6 479.7l4.6 4.6m0-4.6l-4.6 4.6M182 463.5l4.6 4.6m0-4.6l-4.6 4.6M160.3 537.2l4.6 4.6m0-4.6l-4.6 4.6M158.9 501.2l4.6 4.6m0-4.6l-4.6 4.6M211.5 563.2l4.6 4.6m0-4.6l-4.6 4.6M190 552.5l4.6 4.6m0-4.6l-4.6 4.6M170.9 457.2l4.6 4.6m0-4.6l-4.6 4.6M163.9 475l4.6 4.6m0-4.6l-4.6 4.6M212.6 474.5l4.6 4.6m0-4.6l-4.6 4.6M159.5 477l4.6 4.6m0-4.6l-4.6 4.6M174.8 549.8l4.6 4.6m0-4.6l-4.6 4.6M175.1 474.8l4.6 4.6m0-4.6l-4.6 4.6M241.5 540.8l4.6 4.6m0-4.6l-4.6 4.6M226.8 491.5l4.6 4.6m0-4.6l-4.6 4.6M198.6 486.3l4.6 4.6m0-4.6l-4.6 4.6M145.1 561.8l4.6 4.6m0-4.6l-4.6 4.6M177.1 475.1l4.6 4.6m0-4.6l-4.6 4.6M246.8 540.7l4.6 4.6m0-4.6l-4.6 4.6M236.1 479.5l4.6 4.6m0-4.6l-4.6 4.6M241.9 495.5l4.6 4.6m0-4.6l-4.6 4.6M255.8 507.2l4.6 4.6m0-4.6l-4.6 4.6M267.3 515.5l4.6 4.6m0-4.6l-4.6 4.6M228 492.6l4.6 4.6m0-4.6l-4.6 4.6M242 502l4.6 4.6m0-4.6l-4.6 4.6M183.6 545l4.6 4.6m0-4.6l-4.6 4.6M238.7 534.9l4.6 4.6m0-4.6l-4.6 4.6M171.8 497.7l4.6 4.6m0-4.6l-4.6 4.6M129.7 527.2l4.6 4.6m0-4.6l-4.6 4.6M199.1 480.6l4.6 4.6m0-4.6l-4.6 4.6M165.7 545.3l4.6 4.6m0-4.6l-4.6 4.6M194.7 533.1l4.6 4.6m0-4.6l-4.6 4.6M236.3 529.9l4.6 4.6m0-4.6l-4.6 4.6M200.5 546.5l4.6 4.6m0-4.6l-4.6 4.6M197.4 527.3l4.6 4.6m0-4.6l-4.6 4.6M119.8 516.6l4.6 4.6m0-4.6l-4.6 4.6M131.3 502.2l4.6 4.6m0-4.6l-4.6 4.6M137.8 510.1l4.6 4.6m0-4.6l-4.6 4.6M160.3 543.9l4.6 4.6m0-4.6l-4.6 4.6M208.8 500.2l4.6 4.6m0-4.6l-4.6 4.6M214.6 566.5l4.6 4.6m0-4.6l-4.6 4.6M152.8 508.6l4.6 4.6m0-4.6l-4.6 4.6M245.4 518.9l4.6 4.6m0-4.6l-4.6 4.6M136.7 510l4.6 4.6m0-4.6l-4.6 4.6M149 531.8l4.6 4.6m0-4.6l-4.6 4.6M211.3 485.6l4.6 4.6m0-4.6l-4.6 4.6M135.8 514.1l4.6 4.6m0-4.6l-4.6 4.6M207.7 562.2l4.6 4.6m0-4.6l-4.6 4.6M222.8 530.1l4.6 4.6m0-4.6l-4.6 4.6M139.1 496.5l4.6 4.6m0-4.6l-4.6 4.6M223.2 499.5l4.6 4.6m0-4.6l-4.6 4.6M208.4 496.6l4.6 4.6m0-4.6l-4.6 4.6M193.4 479.4l4.6 4.6m0-4.6l-4.6 4.6M269.6 503.9l4.6 4.6m0-4.6l-4.6 4.6M160.3 513.6l4.6 4.6m0-4.6l-4.6 4.6M152.9 522.5l4.6 4.6m0-4.6l-4.6 4.6M149.8 488.3l4.6 4.6m0-4.6l-4.6 4.6M146.7 527.4l4.6 4.6m0-4.6l-4.6 4.6M235.9 481.4l4.6 4.6m0-4.6l-4.6 4.6M140 500.8l4.6 4.6m0-4.6l-4.6 4.6M181.8 537.2l4.6 4.6m0-4.6l-4.6 4.6M212 472.2l4.6 4.6m0-4.6l-4.6 4.6M210.4 551.8l4.6 4.6m0-4.6l-4.6 4.6M154.6 510.7l4.6 4.6m0-4.6l-4.6 4.6M140.1 485.9l4.6 4.6m0-4.6l-4.6 4.6M165.4 469.6l4.6 4.6m0-4.6l-4.6 4.6M146.5 561.8l4.6 4.6m0-4.6l-4.6 4.6M195.9 559.4l4.6 4.6m0-4.6l-4.6 4.6M153 533.1l4.6 4.6m0-4.6l-4.6 4.6M192.1 470.7l4.6 4.6m0-4.6l-4.6 4.6M224.5 535.1l4.6 4.6m0-4.6l-4.6 4.6M214.6 471l4.6 4.6m0-4.6l-4.6 4.6M232.3 538l4.6 4.6m0-4.6l-4.6 4.6M210.2 493.9l4.6 4.6m0-4.6l-4.6 4.6M169 550.5l4.6 4.6m0-4.6l-4.6 4.6M117.8 532.8l4.6 4.6m0-4.6l-4.6 4.6M210.1 531.6l4.6 4.6m0-4.6l-4.6 4.6M205.2 478.4l4.6 4.6m0-4.6l-4.6 4.6M152.7 491l4.6 4.6m0-4.6l-4.6 4.6M212.5 539.8l4.6 4.6m0-4.6l-4.6 4.6M158.3 548l4.6 4.6m0-4.6l-4.6 4.6M216 504l4.6 4.6m0-4.6l-4.6 4.6M223.6 455.6l4.6 4.6m0-4.6l-4.6 4.6M163.3 512.6l4.6 4.6m0-4.6l-4.6 4.6M158.6 523.1l4.6 4.6m0-4.6l-4.6 4.6M113.7 514.9l4.6 4.6m0-4.6l-4.6 4.6M238.7 503.4l4.6 4.6m0-4.6l-4.6 4.6M217.6 460.1l4.6 4.6m0-4.6l-4.6 4.6M164.1 535.5l4.6 4.6m0-4.6l-4.6 4.6M168.8 556l4.6 4.6m0-4.6l-4.6 4.6M192.2 469.1l4.6 4.6m0-4.6l-4.6 4.6M185.1 554.9l4.6 4.6m0-4.6l-4.6 4.6M146.8 538.3l4.6 4.6m0-4.6l-4.6 4.6M186.7 478.9l4.6 4.6m0-4.6l-4.6 4.6M154.8 481.5l4.6 4.6m0-4.6l-4.6 4.6M187.4 465.6l4.6 4.6m0-4.6l-4.6 4.6M145.7 543.3l4.6 4.6m0-4.6l-4.6 4.6M150.5 468.7l4.6 4.6m0-4.6l-4.6 4.6M193.7 468.9l4.6 4.6m0-4.6l-4.6 4.6M198 556.7l4.6 4.6m0-4.6l-4.6 4.6M240.6 530.8l4.6 4.6m0-4.6l-4.6 4.6M223.7 531.6l4.6 4.6m0-4.6l-4.6 4.6M178.4 534.8l4.6 4.6m0-4.6l-4.6 4.6M199.1 438.3l4.6 4.6m0-4.6l-4.6 4.6M252.6 494.1l4.6 4.6m0-4.6l-4.6 4.6M159.3 488.1l4.6 4.6m0-4.6l-4.6 4.6M149.8 536.1l4.6 4.6m0-4.6l-4.6 4.6M157.3 532.6l4.6 4.6m0-4.6l-4.6 4.6M220 467.9l4.6 4.6m0-4.6l-4.6 4.6M167.9 518.6l4.6 4.6m0-4.6l-4.6 4.6M158.4 505l4.6 4.6m0-4.6l-4.6 4.6M165.8 477.1l4.6 4.6m0-4.6l-4.6 4.6M209.4 558.1l4.6 4.6m0-4.6l-4.6 4.6M212.7 539.4l4.6 4.6m0-4.6l-4.6 4.6M241.2 475.8l4.6 4.6m0-4.6l-4.6 4.6M140.7 517l4.6 4.6m0-4.6l-4.6 4.6M178.1 543.3l4.6 4.6m0-4.6l-4.6 4.6M134.3 462.7l4.6 4.6m0-4.6l-4.6 4.6M237.3 520.2l4.6 4.6m0-4.6l-4.6 4.6M136.3 518.7l4.6 4.6m0-4.6l-4.6 4.6M223.8 505.1l4.6 4.6m0-4.6l-4.6 4.6M175.8 540.7l4.6 4.6m0-4.6l-4.6 4.6M203.8 478.9l4.6 4.6m0-4.6l-4.6 4.6M232.2 521.8l4.6 4.6m0-4.6l-4.6 4.6M156.2 544.4l4.6 4.6m0-4.6l-4.6 4.6M231.8 521.6l4.6 4.6m0-4.6l-4.6 4.6M181 543.9l4.6 4.6m0-4.6l-4.6 4.6M191.2 573.6l4.6 4.6m0-4.6l-4.6 4.6M228 465.2l4.6 4.6m0-4.6l-4.6 4.6M244.5 492.5l4.6 4.6m0-4.6l-4.6 4.6M153.3 485.8l4.6 4.6m0-4.6l-4.6 4.6M199.8 555.5l4.6 4.6m0-4.6l-4.6 4.6M193.7 531.4l4.6 4.6m0-4.6l-4.6 4.6M235.1 494.1l4.6 4.6m0-4.6l-4.6 4.6M222.3 460.4l4.6 4.6m0-4.6l-4.6 4.6M204.2 536.2l4.6 4.6m0-4.6l-4.6 4.6M221.6 560.3l4.6 4.6m0-4.6l-4.6 4.6M165.7 472.6l4.6 4.6m0-4.6l-4.6 4.6M198.1 529.6l4.6 4.6m0-4.6l-4.6 4.6M200.5 480.7l4.6 4.6m0-4.6l-4.6 4.6M162.1 505.7l4.6 4.6m0-4.6l-4.6 4.6M220.9 521.4l4.6 4.6m0-4.6l-4.6 4.6M166.8 501.1l4.6 4.6m0-4.6l-4.6 4.6M244.5 502.5l4.6 4.6m0-4.6l-4.6 4.6M202.8 547.3l4.6 4.6m0-4.6l-4.6 4.6M167.9 569.4l4.6 4.6m0-4.6l-4.6 4.6M153 505.6l4.6 4.6m0-4.6l-4.6 4.6M211.4 502.4l4.6 4.6m0-4.6l-4.6 4.6M200.6 549.8l4.6 4.6m0-4.6l-4.6 4.6M222.3 511.8l4.6 4.6m0-4.6l-4.6 4.6M254.6 544.2l4.6 4.6m0-4.6l-4.6 4.6M256.7 514.4l4.6 4.6m0-4.6l-4.6 4.6M203.2 479.3l4.6 4.6m0-4.6l-4.6 4.6M139.6 506.9l4.6 4.6m0-4.6l-4.6 4.6M253.1 472.5l4.6 4.6m0-4.6l-4.6 4.6M150 550.9l4.6 4.6m0-4.6l-4.6 4.6M182.5 485.7l4.6 4.6m0-4.6l-4.6 4.6M252.7 521.8l4.6 4.6m0-4.6l-4.6 4.6M160.7 527.5l4.6 4.6m0-4.6l-4.6 4.6M188.3 558.5l4.6 4.6m0-4.6l-4.6 4.6M232 535.4l4.6 4.6m0-4.6l-4.6 4.6M191.7 538.8l4.6 4.6m0-4.6l-4.6 4.6M217.5 496.4l4.6 4.6m0-4.6l-4.6 4.6M177.6 550l4.6 4.6m0-4.6l-4.6 4.6M138.6 507l4.6 4.6m0-4.6l-4.6 4.6M171.4 493.4l4.6 4.6m0-4.6l-4.6 4.6M223.7 534.9l4.6 4.6m0-4.6l-4.6 4.6M149.7 478.8l4.6 4.6m0-4.6l-4.6 4.6M240.3 494.8l4.6 4.6m0-4.6l-4.6 4.6M190.5 483.2l4.6 4.6m0-4.6l-4.6 4.6M141.3 529.9l4.6 4.6m0-4.6l-4.6 4.6M231.3 498l4.6 4.6m0-4.6l-4.6 4.6M166.3 462.8l4.6 4.6m0-4.6l-4.6 4.6M229.2 507.5l4.6 4.6m0-4.6l-4.6 4.6M211.4 488.1l4.6 4.6m0-4.6l-4.6 4.6M245 505.7l4.6 4.6m0-4.6l-4.6 4.6M193.3 496.8l4.6 4.6m0-4.6l-4.6 4.6M128.6 494.7l4.6 4.6m0-4.6l-4.6 4.6M252.5 548.1l4.6 4.6m0-4.6l-4.6 4.6M164 558.9l4.6 4.6m0-4.6l-4.6 4.6M236.8 492.4l4.6 4.6m0-4.6l-4.6 4.6M161.4 495.6l4.6 4.6m0-4.6l-4.6 4.6M235.3 499.3l4.6 4.6m0-4.6l-4.6 4.6M178.3 449.5l4.6 4.6m0-4.6l-4.6 4.6M197.7 546.2l4.6 4.6m0-4.6l-4.6 4.6M217.1 496.8l4.6 4.6m0-4.6l-4.6 4.6M187.2 545.9l4.6 4.6m0-4.6l-4.6 4.6M150.8 550.1l4.6 4.6m0-4.6l-4.6 4.6M213.7 445.8l4.6 4.6m0-4.6l-4.6 4.6M180.4 540l4.6 4.6m0-4.6l-4.6 4.6M142.3 474.9l4.6 4.6m0-4.6l-4.6 4.6M244 506.9l4.6 4.6m0-4.6l-4.6 4.6M198.2 450.4l4.6 4.6m0-4.6l-4.6 4.6M138.7 489.2l4.6 4.6m0-4.6l-4.6 4.6M149.9 512.4l4.6 4.6m0-4.6l-4.6 4.6M203.8 559.3l4.6 4.6m0-4.6l-4.6 4.6M159.5 481.2l4.6 4.6m0-4.6l-4.6 4.6M211.3 540.6l4.6 4.6m0-4.6l-4.6 4.6M257.6 500.5l4.6 4.6m0-4.6l-4.6 4.6M240 507.3l4.6 4.6m0-4.6l-4.6 4.6M130.5 464.9l4.6 4.6m0-4.6l-4.6 4.6M166 568.3l4.6 4.6m0-4.6l-4.6 4.6"/>
<g filter="url(#bl)">
<ellipse cx="488.9" cy="489.4" rx="18.4" ry="16.8" fill="#F0E68C" fill-opacity="0.036"/>
<ellipse cx="534.7" cy="427.2" rx="18.4" ry="16.8" fill="#F0E68C" fill-opacity="0.057"/>
<ellipse cx="481.2" cy="564.1" rx="18.4" ry="16.8" fill="#F0E68C" fill-opacity="0.183"/>
<ellipse cx="510.1" cy="441.2" rx="18.4" ry="16.8" fill="#F0E68C" fill-opacity="0.114"/>
<ellipse cx="538.7" cy="569.2" rx="18.4" ry="16.8" fill="#F0E68C" fill-opacity="0.057"/>
<ellipse cx="623.1" cy="500" rx="18.4" ry="16.8" fill="#F0E68C" fill-opacity="0.057"/>
<ellipse cx="467.6" cy="451.8" rx="18.4" ry="16.8" fill="#F0E68C" fill-opacity="0.153"/>
<ellipse cx="507" cy="483.3" rx="18.4" ry="16.8" fill="#F0E68C" fill-opacity="0.096"/>
<ellipse cx="496.6" cy="477.6" rx="18.4" ry="16.8" fill="#F0E68C" fill-opacity="0.148"/>
<ellipse cx="572" cy="548.1" rx="18.4" ry="16.8" fill="#F0E68C" fill-opacity="0.119"/>
<ellipse cx="486.5" cy="475.1" rx="18.4" ry="16.8" fill="#F0E68C" fill-opacity="0.220"/>
<ellipse cx="559.9" cy="550.1" rx="18.4" ry="16.8" fill="#F0E68C" fill-opacity="0.104"/>
<ellipse cx="620.3" cy="494.3" rx="18.4" ry="16.8" fill="#F0E68C" fill-opacity="0.061"/>
<ellipse cx="502.4" cy="493.9" rx="18.4" ry="16.8" fill="#F0E68C" fill-opacity="0.031"/>
<ellipse cx="480" cy="544" rx="18.4" ry="16.8" fill="#F0E68C" fill-opacity="0.162"/>
<ellipse cx="586.2" cy="470.3" rx="18.4" ry="16.8" fill="#F0E68C" fill-opacity="0.236"/>
<ellipse cx="499.9" cy="566.6" rx="18.4" ry="16.8" fill="#F0E68C" fill-opacity="0.242"/>
<ellipse cx="598.6" cy="469.9" rx="18.4" ry="16.8" fill="#F0E68C" fill-opacity="0.107"/>
<ellipse cx="602.6" cy="479.7" rx="18.4" ry="16.8" fill="#F0E68C" fill-opacity="0.107"/>
<ellipse cx="513.2" cy="473.5" rx="18.4" ry="16.8" fill="#F0E68C" fill-opacity="0.131"/>
<ellipse cx="564.9" cy="550.8" rx="18.4" ry="16.8" fill="#F0E68C" fill-opacity="0.131"/>
<ellipse cx="558.1" cy="551" rx="18.4" ry="16.8" fill="#F0E68C" fill-opacity="0.096"/>
<ellipse cx="552.1" cy="434.2" rx="18.4" ry="16.8" fill="#F0E68C" fill-opacity="0.122"/>
<ellipse cx="561.4" cy="453.9" rx="18.4" ry="16.8" fill="#F0E68C" fill-opacity="0.220"/>
<ellipse cx="531.2" cy="469.3" rx="18.4" ry="16.8" fill="#F0E68C" fill-opacity="0.049"/>
<ellipse cx="563.8" cy="464.8" rx="18.4" ry="16.8" fill="#F0E68C" fill-opacity="0.067"/>
<ellipse cx="565.9" cy="548.9" rx="18.4" ry="16.8" fill="#F0E68C" fill-opacity="0.119"/>
<ellipse cx="538.1" cy="465.8" rx="18.4" ry="16.8" fill="#F0E68C" fill-opacity="0.114"/>
<ellipse cx="539.1" cy="461.6" rx="18.4" ry="16.8" fill="#F0E68C" fill-opacity="0.200"/>
<ellipse cx="482.9" cy="512.9" rx="18.4" ry="16.8" fill="#F0E68C" fill-opacity="0.085"/>
<ellipse cx="593.3" cy="537.6" rx="18.4" ry="16.8" fill="#F0E68C" fill-opacity="0.067"/>
<ellipse cx="485.8" cy="482" rx="18.4" ry="16.8" fill="#F0E68C" fill-opacity="0.160"/>
<ellipse cx="525.3" cy="465.8" rx="18.4" ry="16.8" fill="#F0E68C" fill-opacity="0.043"/>
<ellipse cx="487.5" cy="469.7" rx="18.4" ry="16.8" fill="#F0E68C" fill-opacity="0.249"/>
<ellipse cx="535.9" cy="447.5" rx="18.4" ry="16.8" fill="#F0E68C" fill-opacity="0.220"/>
<ellipse cx="554.8" cy="565.5" rx="18.4" ry="16.8" fill="#F0E68C" fill-opacity="0.183"/>
<ellipse cx="625.2" cy="494" rx="18.4" ry="16.8" fill="#F0E68C" fill-opacity="0.067"/>
<ellipse cx="594.8" cy="468.5" rx="18.4" ry="16.8" fill="#F0E68C" fill-opacity="0.131"/>
<ellipse cx="514.2" cy="459.5" rx="18.4" ry="16.8" fill="#F0E68C" fill-opacity="0.100"/>
<ellipse cx="507.1" cy="477.3" rx="18.4" ry="16.8" fill="#F0E68C" fill-opacity="0.141"/>
<ellipse cx="502.8" cy="479.3" rx="18.4" ry="16.8" fill="#F0E68C" fill-opacity="0.110"/>
<ellipse cx="468.6" cy="530.5" rx="18.4" ry="16.8" fill="#F0E68C" fill-opacity="0.247"/>
<ellipse cx="518.4" cy="477.1" rx="18.4" ry="16.8" fill="#F0E68C" fill-opacity="0.070"/>
<ellipse cx="585" cy="543.1" rx="18.4" ry="16.8" fill="#F0E68C" fill-opacity="0.114"/>
<ellipse cx="570.2" cy="493.8" rx="18.4" ry="16.8" fill="#F0E68C" fill-opacity="0.030"/>
<ellipse cx="630.2" cy="511.5" rx="18.4" ry="16.8" fill="#F0E68C" fill-opacity="0.073"/>
<ellipse cx="602.9" cy="561.1" rx="18.4" ry="16.8" fill="#F0E68C" fill-opacity="0.107"/>
<ellipse cx="580.9" cy="456.6" rx="18.4" ry="16.8" fill="#F0E68C" fill-opacity="0.244"/>
<ellipse cx="577.5" cy="568.1" rx="18.4" ry="16.8" fill="#F0E68C" fill-opacity="0.100"/>
<ellipse cx="497.4" cy="575.4" rx="18.4" ry="16.8" fill="#F0E68C" fill-opacity="0.190"/>
<ellipse cx="619.2" cy="531.2" rx="18.4" ry="16.8" fill="#F0E68C" fill-opacity="0.089"/>
<ellipse cx="488.3" cy="564.1" rx="18.4" ry="16.8" fill="#F0E68C" fill-opacity="0.220"/>
<ellipse cx="570" cy="580.3" rx="18.4" ry="16.8" fill="#F0E68C" fill-opacity="0.073"/>
<ellipse cx="520.3" cy="477.4" rx="18.4" ry="16.8" fill="#F0E68C" fill-opacity="0.033"/>
<ellipse cx="594.6" cy="483.1" rx="18.4" ry="16.8" fill="#F0E68C" fill-opacity="0.227"/>
<ellipse cx="590.3" cy="543" rx="18.4" ry="16.8" fill="#F0E68C" fill-opacity="0.131"/>
<ellipse cx="579.5" cy="481.8" rx="18.4" ry="16.8" fill="#F0E68C" fill-opacity="0.162"/>
<ellipse cx="612.7" cy="476.9" rx="18.4" ry="16.8" fill="#F0E68C" fill-opacity="0.061"/>
<ellipse cx="585.3" cy="497.8" rx="18.4" ry="16.8" fill="#F0E68C" fill-opacity="0.038"/>
<ellipse cx="536.1" cy="451" rx="18.4" ry="16.8" fill="#F0E68C" fill-opacity="0.250"/>
<ellipse cx="599.2" cy="509.5" rx="18.4" ry="16.8" fill="#F0E68C" fill-opacity="0.160"/>
<ellipse cx="475.2" cy="467.2" rx="18.4" ry="16.8" fill="#F0E68C" fill-opacity="0.220"/>
<ellipse cx="610.8" cy="517.8" rx="18.4" ry="16.8" fill="#F0E68C" fill-opacity="0.242"/>
<ellipse cx="571.4" cy="494.9" rx="18.4" ry="16.8" fill="#F0E68C" fill-opacity="0.031"/>
<ellipse cx="585.4" cy="504.3" rx="18.4" ry="16.8" fill="#F0E68C" fill-opacity="0.038"/>
<ellipse cx="580.2" cy="453.7" rx="18.4" ry="16.8" fill="#F0E68C" fill-opacity="0.244"/>
<ellipse cx="612.8" cy="472.9" rx="18.4" ry="16.8" fill="#F0E68C" fill-opacity="0.057"/>
<ellipse cx="627.1" cy="496.9" rx="18.4" ry="16.8" fill="#F0E68C" fill-opacity="0.061"/>
<ellipse cx="563.7" cy="554.7" rx="18.4" ry="16.8" fill="#F0E68C" fill-opacity="0.183"/>
<ellipse cx="472.8" cy="529.5" rx="18.4" ry="16.8" fill="#F0E68C" fill-opacity="0.210"/>
<ellipse cx="547.2" cy="459.1" rx="18.4" ry="16.8" fill="#F0E68C" fill-opacity="0.210"/>
<ellipse cx="600.1" cy="467.7" rx="18.4" ry="16.8" fill="#F0E68C" fill-opacity="0.046"/>
<ellipse cx="543.9" cy="548.8" rx="18.4" ry="16.8" fill="#F0E68C" fill-opacity="0.029"/>
<ellipse cx="512" cy="571.4" rx="18.4" ry="16.8" fill="#F0E68C" fill-opacity="0.250"/>
<ellipse cx="459.8" cy="473.5" rx="18.4" ry="16.8" fill="#F0E68C" fill-opacity="0.067"/>
<ellipse cx="462.9" cy="518.9" rx="18.4" ry="16.8" fill="#F0E68C" fill-opacity="0.248"/>
<ellipse cx="474.5" cy="504.5" rx="18.4" ry="16.8" fill="#F0E68C" fill-opacity="0.061"/>
<ellipse cx="481" cy="512.4" rx="18.4" ry="16.8" fill="#F0E68C" fill-opacity="0.085"/>
<ellipse cx="557.9" cy="568.8" rx="18.4" ry="16.8" fill="#F0E68C" fill-opacity="0.249"/>
<ellipse cx="466.7" cy="554.8" rx="18.4" ry="16.8" fill="#F0E68C" fill-opacity="0.057"/>
<ellipse cx="487.8" cy="577.2" rx="18.4" ry="16.8" fill="#F0E68C" fill-opacity="0.131"/>
<ellipse cx="479.9" cy="512.3" rx="18.4" ry="16.8" fill="#F0E68C" fill-opacity="0.085"/>
<ellipse cx="614.5" cy="525.8" rx="18.4" ry="16.8" fill="#F0E68C" fill-opacity="0.141"/>
<ellipse cx="501.3" cy="472" rx="18.4" ry="16.8" fill="#F0E68C" fill-opacity="0.188"/>
<ellipse cx="462" cy="551.8" rx="18.4" ry="16.8" fill="#F0E68C" fill-opacity="0.067"/>
<ellipse cx="479" cy="516.4" rx="18.4" ry="16.8" fill="#F0E68C" fill-opacity="0.085"/>
<ellipse cx="551" cy="564.5" rx="18.4" ry="16.8" fill="#F0E68C" fill-opacity="0.125"/>
<ellipse cx="505.3" cy="444.5" rx="18.4" ry="16.8" fill="#F0E68C" fill-opacity="0.153"/>
<ellipse cx="483.1" cy="567.1" rx="18.4" ry="16.8" fill="#F0E68C" fill-opacity="0.183"/>
<ellipse cx="498" cy="477.9" rx="18.4" ry="16.8" fill="#F0E68C" fill-opacity="0.162"/>
<ellipse cx="613.1" cy="506.2" rx="18.4" ry="16.8" fill="#F0E68C" fill-opacity="0.228"/>
<ellipse cx="493.1" cy="490.6" rx="18.4" ry="16.8" fill="#F0E68C" fill-opacity="0.033"/>
<ellipse cx="593.2" cy="557.5" rx="18.4" ry="16.8" fill="#F0E68C" fill-opacity="0.230"/>
<ellipse cx="489.9" cy="529.7" rx="18.4" ry="16.8" fill="#F0E68C" fill-opacity="0.033"/>
<ellipse cx="579.4" cy="483.7" rx="18.4" ry="16.8" fill="#F0E68C" fill-opacity="0.191"/>
<ellipse cx="459.6" cy="548.6" rx="18.4" ry="16.8" fill="#F0E68C" fill-opacity="0.080"/>
<ellipse cx="616.3" cy="513.2" rx="18.4" ry="16.8" fill="#F0E68C" fill-opacity="0.210"/>
<ellipse cx="542.4" cy="442.1" rx="18.4" ry="16.8" fill="#F0E68C" fill-opacity="0.145"/>
<ellipse cx="474.3" cy="464.3" rx="18.4" ry="16.8" fill="#F0E68C" fill-opacity="0.210"/>
<ellipse cx="553.7" cy="554.1" rx="18.4" ry="16.8" fill="#F0E68C" fill-opacity="0.093"/>
<ellipse cx="611.9" cy="480.4" rx="18.4" ry="16.8" fill="#F0E68C" fill-opacity="0.053"/>
<ellipse cx="508.6" cy="471.9" rx="18.4" ry="16.8" fill="#F0E68C" fill-opacity="0.147"/>
<ellipse cx="483" cy="568.4" rx="18.4" ry="16.8" fill="#F0E68C" fill-opacity="0.153"/>
<ellipse cx="476.2" cy="561" rx="18.4" ry="16.8" fill="#F0E68C" fill-opacity="0.107"/>
<ellipse cx="489.7" cy="564.1" rx="18.4" ry="16.8" fill="#F0E68C" fill-opacity="0.233"/>
<ellipse cx="491.8" cy="472" rx="18.4" ry="16.8" fill="#F0E68C" fill-opacity="0.207"/>
<ellipse cx="483.6" cy="571.1" rx="18.4" ry="16.8" fill="#F0E68C" fill-opacity="0.153"/>
<ellipse cx="460.9" cy="535.1" rx="18.4" ry="16.8" fill="#F0E68C" fill-opacity="0.183"/>
<ellipse cx="495.9" cy="493.3" rx="18.4" ry="16.8" fill="#F0E68C" fill-opacity="0.030"/>
<ellipse cx="467" cy="541.3" rx="18.4" ry="16.8" fill="#F0E68C" fill-opacity="0.194"/>
<ellipse cx="555.9" cy="542.1" rx="18.4" ry="16.8" fill="#F0E68C" fill-opacity="0.067"/>
<ellipse cx="463.9" cy="463.9" rx="18.4" ry="16.8" fill="#F0E68C" fill-opacity="0.114"/>
<ellipse cx="567" cy="457.9" rx="18.4" ry="16.8" fill="#F0E68C" fill-opacity="0.194"/>
<ellipse cx="456.8" cy="517.2" rx="18.4" ry="16.8" fill="#F0E68C" fill-opacity="0.200"/>
<ellipse cx="582.1" cy="505.7" rx="18.4" ry="16.8" fill="#F0E68C" fill-opacity="0.033"/>
<ellipse cx="561" cy="462.4" rx="18.4" ry="16.8" fill="#F0E68C" fill-opacity="0.114"/>
<ellipse cx="567.1" cy="556.8" rx="18.4" ry="16.8" fill="#F0E68C" fill-opacity="0.227"/>
<ellipse cx="449.4" cy="523.9" rx="18.4" ry="16.8" fill="#F0E68C" fill-opacity="0.194"/>
<ellipse cx="512.1" cy="558.3" rx="18.4" ry="16.8" fill="#F0E68C" fill-opacity="0.043"/>
<ellipse cx="535.5" cy="471.4" rx="18.4" ry="16.8" fill="#F0E68C" fill-opacity="0.036"/>
<ellipse cx="498" cy="483.8" rx="18.4" ry="16.8" fill="#F0E68C" fill-opacity="0.093"/>
<ellipse cx="530.7" cy="467.9" rx="18.4" ry="16.8" fill="#F0E68C" fill-opacity="0.057"/>
<ellipse cx="493.8" cy="471" rx="18.4" ry="16.8" fill="#F0E68C" fill-opacity="0.183"/>
<ellipse cx="515.9" cy="583.6" rx="18.4" ry="16.8" fill="#F0E68C" fill-opacity="0.122"/>
<ellipse cx="537" cy="471.2" rx="18.4" ry="16.8" fill="#F0E68C" fill-opacity="0.038"/>
<ellipse cx="541.4" cy="559" rx="18.4" ry="16.8" fill="#F0E68C" fill-opacity="0.041"/>
<ellipse cx="542.4" cy="440.6" rx="18.4" ry="16.8" fill="#F0E68C" fill-opacity="0.145"/>
<ellipse cx="445.9" cy="536.3" rx="18.4" ry="16.8" fill="#F0E68C" fill-opacity="0.089"/>
<ellipse cx="552.5" cy="582.9" rx="18.4" ry="16.8" fill="#F0E68C" fill-opacity="0.080"/>
<ellipse cx="596" cy="496.4" rx="18.4" ry="16.8" fill="#F0E68C" fill-opacity="0.167"/>
<ellipse cx="502.5" cy="490.4" rx="18.4" ry="16.8" fill="#F0E68C" fill-opacity="0.031"/>
<ellipse cx="592.5" cy="552.1" rx="18.4" ry="16.8" fill="#F0E68C" fill-opacity="0.233"/>
<ellipse cx="509" cy="479.4" rx="18.4" ry="16.8" fill="#F0E68C" fill-opacity="0.109"/>
<ellipse cx="552.8" cy="560.4" rx="18.4" ry="16.8" fill="#F0E68C" fill-opacity="0.104"/>
<ellipse cx="556.1" cy="541.7" rx="18.4" ry="16.8" fill="#F0E68C" fill-opacity="0.067"/>
<ellipse cx="584.7" cy="478.1" rx="18.4" ry="16.8" fill="#F0E68C" fill-opacity="0.242"/>
<ellipse cx="472" cy="450.3" rx="18.4" ry="16.8" fill="#F0E68C" fill-opacity="0.089"/>
<ellipse cx="483.9" cy="519.3" rx="18.4" ry="16.8" fill="#F0E68C" fill-opacity="0.070"/>
<ellipse cx="488" cy="579.6" rx="18.4" ry="16.8" fill="#F0E68C" fill-opacity="0.089"/>
<ellipse cx="603.4" cy="493.5" rx="18.4" ry="16.8" fill="#F0E68C" fill-opacity="0.236"/>
<ellipse cx="609.2" cy="467" rx="18.4" ry="16.8" fill="#F0E68C" fill-opacity="0.049"/>
<ellipse cx="503.2" cy="576.9" rx="18.4" ry="16.8" fill="#F0E68C" fill-opacity="0.191"/>
<ellipse cx="477.4" cy="465" rx="18.4" ry="16.8" fill="#F0E68C" fill-opacity="0.228"/>
<ellipse cx="463.4" cy="471.4" rx="18.4" ry="16.8" fill="#F0E68C" fill-opacity="0.153"/>
<ellipse cx="613.6" cy="523.2" rx="18.4" ry="16.8" fill="#F0E68C" fill-opacity="0.194"/>
<ellipse cx="479.5" cy="521" rx="18.4" ry="16.8" fill="#F0E68C" fill-opacity="0.131"/>
<ellipse cx="557.2" cy="556" rx="18.4" ry="16.8" fill="#F0E68C" fill-opacity="0.100"/>
<ellipse cx="614.5" cy="493.2" rx="18.4" ry="16.8" fill="#F0E68C" fill-opacity="0.131"/>
<ellipse cx="534.5" cy="575.9" rx="18.4" ry="16.8" fill="#F0E68C" fill-opacity="0.233"/>
<ellipse cx="571.4" cy="467.5" rx="18.4" ry="16.8" fill="#F0E68C" fill-opacity="0.153"/>
<ellipse cx="531" cy="429" rx="18.4" ry="16.8" fill="#F0E68C" fill-opacity="0.061"/>
<ellipse cx="546.6" cy="436.9" rx="18.4" ry="16.8" fill="#F0E68C" fill-opacity="0.145"/>
<ellipse cx="587.9" cy="494.8" rx="18.4" ry="16.8" fill="#F0E68C" fill-opacity="0.109"/>
<ellipse cx="496.5" cy="488.1" rx="18.4" ry="16.8" fill="#F0E68C" fill-opacity="0.093"/>
<ellipse cx="543.1" cy="557.8" rx="18.4" ry="16.8" fill="#F0E68C" fill-opacity="0.038"/>
<ellipse cx="578.5" cy="496.4" rx="18.4" ry="16.8" fill="#F0E68C" fill-opacity="0.030"/>
<ellipse cx="565.7" cy="462.7" rx="18.4" ry="16.8" fill="#F0E68C" fill-opacity="0.153"/>
<ellipse cx="506.2" cy="583.1" rx="18.4" ry="16.8" fill="#F0E68C" fill-opacity="0.100"/>
<ellipse cx="443.5" cy="521.4" rx="18.4" ry="16.8" fill="#F0E68C" fill-opacity="0.089"/>
<ellipse cx="556.4" cy="435.3" rx="18.4" ry="16.8" fill="#F0E68C" fill-opacity="0.131"/>
<ellipse cx="466.8" cy="520.7" rx="18.4" ry="16.8" fill="#F0E68C" fill-opacity="0.220"/>
<ellipse cx="473" cy="525" rx="18.4" ry="16.8" fill="#F0E68C" fill-opacity="0.153"/>
<ellipse cx="565" cy="562.6" rx="18.4" ry="16.8" fill="#F0E68C" fill-opacity="0.220"/>
<ellipse cx="508.9" cy="474.9" rx="18.4" ry="16.8" fill="#F0E68C" fill-opacity="0.141"/>
<ellipse cx="612.6" cy="502.2" rx="18.4" ry="16.8" fill="#F0E68C" fill-opacity="0.236"/>
<ellipse cx="587.9" cy="504.8" rx="18.4" ry="16.8" fill="#F0E68C" fill-opacity="0.036"/>
<ellipse cx="546.1" cy="549.6" rx="18.4" ry="16.8" fill="#F0E68C" fill-opacity="0.033"/>
<ellipse cx="511.1" cy="571.7" rx="18.4" ry="16.8" fill="#F0E68C" fill-opacity="0.250"/>
<ellipse cx="611.5" cy="534.4" rx="18.4" ry="16.8" fill="#F0E68C" fill-opacity="0.100"/>
<ellipse cx="568.7" cy="569.9" rx="18.4" ry="16.8" fill="#F0E68C" fill-opacity="0.194"/>
<ellipse cx="543.9" cy="552.1" rx="18.4" ry="16.8" fill="#F0E68C" fill-opacity="0.029"/>
<ellipse cx="598.1" cy="546.5" rx="18.4" ry="16.8" fill="#F0E68C" fill-opacity="0.233"/>
<ellipse cx="600.1" cy="516.7" rx="18.4" ry="16.8" fill="#F0E68C" fill-opacity="0.162"/>
<ellipse cx="596.5" cy="474.8" rx="18.4" ry="16.8" fill="#F0E68C" fill-opacity="0.114"/>
<ellipse cx="548.8" cy="447.7" rx="18.4" ry="16.8" fill="#F0E68C" fill-opacity="0.204"/>
<ellipse cx="493.3" cy="553.2" rx="18.4" ry="16.8" fill="#F0E68C" fill-opacity="0.089"/>
<ellipse cx="596.2" cy="524.1" rx="18.4" ry="16.8" fill="#F0E68C" fill-opacity="0.080"/>
<ellipse cx="458.4" cy="500" rx="18.4" ry="16.8" fill="#F0E68C" fill-opacity="0.167"/>
<ellipse cx="554" cy="441" rx="18.4" ry="16.8" fill="#F0E68C" fill-opacity="0.200"/>
<ellipse cx="486.2" cy="468.4" rx="18.4" ry="16.8" fill="#F0E68C" fill-opacity="0.249"/>
<ellipse cx="549.8" cy="582.9" rx="18.4" ry="16.8" fill="#F0E68C" fill-opacity="0.153"/>
<ellipse cx="563.1" cy="446.4" rx="18.4" ry="16.8" fill="#F0E68C" fill-opacity="0.242"/>
<ellipse cx="492.9" cy="481.1" rx="18.4" ry="16.8" fill="#F0E68C" fill-opacity="0.148"/>
<ellipse cx="583.7" cy="497.1" rx="18.4" ry="16.8" fill="#F0E68C" fill-opacity="0.036"/>
<ellipse cx="628.6" cy="519.7" rx="18.4" ry="16.8" fill="#F0E68C" fill-opacity="0.061"/>
<ellipse cx="593.5" cy="474.6" rx="18.4" ry="16.8" fill="#F0E68C" fill-opacity="0.210"/>
<ellipse cx="484.5" cy="532.2" rx="18.4" ry="16.8" fill="#F0E68C" fill-opacity="0.080"/>
<ellipse cx="574.7" cy="500.3" rx="18.4" ry="16.8" fill="#F0E68C" fill-opacity="0.031"/>
<ellipse cx="509.5" cy="465.1" rx="18.4" ry="16.8" fill="#F0E68C" fill-opacity="0.153"/>
<ellipse cx="455.9" cy="548.9" rx="18.4" ry="16.8" fill="#F0E68C" fill-opacity="0.073"/>
<ellipse cx="588.4" cy="508" rx="18.4" ry="16.8" fill="#F0E68C" fill-opacity="0.034"/>
<ellipse cx="547.3" cy="431.9" rx="18.4" ry="16.8" fill="#F0E68C" fill-opacity="0.061"/>
<ellipse cx="471.7" cy="497" rx="18.4" ry="16.8" fill="#F0E68C" fill-opacity="0.089"/>
<ellipse cx="595.9" cy="550.4" rx="18.4" ry="16.8" fill="#F0E68C" fill-opacity="0.233"/>
<ellipse cx="507.3" cy="561.2" rx="18.4" ry="16.8" fill="#F0E68C" fill-opacity="0.089"/>
<ellipse cx="580.2" cy="494.7" rx="18.4" ry="16.8" fill="#F0E68C" fill-opacity="0.036"/>
<ellipse cx="527.1" cy="581.3" rx="18.4" ry="16.8" fill="#F0E68C" fill-opacity="0.183"/>
<ellipse cx="525.6" cy="436.1" rx="18.4" ry="16.8" fill="#F0E68C" fill-opacity="0.141"/>
<ellipse cx="545.5" cy="436.2" rx="18.4" ry="16.8" fill="#F0E68C" fill-opacity="0.107"/>
<ellipse cx="578.7" cy="501.6" rx="18.4" ry="16.8" fill="#F0E68C" fill-opacity="0.034"/>
<ellipse cx="600" cy="469.1" rx="18.4" ry="16.8" fill="#F0E68C" fill-opacity="0.094"/>
<ellipse cx="521.5" cy="451.8" rx="18.4" ry="16.8" fill="#F0E68C" fill-opacity="0.233"/>
<ellipse cx="541" cy="548.5" rx="18.4" ry="16.8" fill="#F0E68C" fill-opacity="0.027"/>
<ellipse cx="477.9" cy="573" rx="18.4" ry="16.8" fill="#F0E68C" fill-opacity="0.114"/>
<ellipse cx="538.1" cy="586.8" rx="18.4" ry="16.8" fill="#F0E68C" fill-opacity="0.073"/>
<ellipse cx="494.1" cy="552.4" rx="18.4" ry="16.8" fill="#F0E68C" fill-opacity="0.041"/>
<ellipse cx="557" cy="448.1" rx="18.4" ry="16.8" fill="#F0E68C" fill-opacity="0.246"/>
<ellipse cx="485.5" cy="477.2" rx="18.4" ry="16.8" fill="#F0E68C" fill-opacity="0.214"/>
<ellipse cx="587.5" cy="509.2" rx="18.4" ry="16.8" fill="#F0E68C" fill-opacity="0.034"/>
<ellipse cx="541.6" cy="452.7" rx="18.4" ry="16.8" fill="#F0E68C" fill-opacity="0.242"/>
<ellipse cx="450.3" cy="518.1" rx="18.4" ry="16.8" fill="#F0E68C" fill-opacity="0.141"/>
<ellipse cx="473.2" cy="557.1" rx="18.4" ry="16.8" fill="#F0E68C" fill-opacity="0.145"/>
<ellipse cx="512.9" cy="468.7" rx="18.4" ry="16.8" fill="#F0E68C" fill-opacity="0.138"/>
<ellipse cx="547.1" cy="561.6" rx="18.4" ry="16.8" fill="#F0E68C" fill-opacity="0.073"/>
<ellipse cx="502.8" cy="483.5" rx="18.4" ry="16.8" fill="#F0E68C" fill-opacity="0.093"/>
<ellipse cx="570.5" cy="569.8" rx="18.4" ry="16.8" fill="#F0E68C" fill-opacity="0.183"/>
<ellipse cx="554.6" cy="542.9" rx="18.4" ry="16.8" fill="#F0E68C" fill-opacity="0.067"/>
<ellipse cx="601" cy="502.8" rx="18.4" ry="16.8" fill="#F0E68C" fill-opacity="0.191"/>
<ellipse cx="586.8" cy="497.8" rx="18.4" ry="16.8" fill="#F0E68C" fill-opacity="0.109"/>
<ellipse cx="583.4" cy="509.6" rx="18.4" ry="16.8" fill="#F0E68C" fill-opacity="0.033"/>
<ellipse cx="473.7" cy="467.2" rx="18.4" ry="16.8" fill="#F0E68C" fill-opacity="0.220"/>
<ellipse cx="509.3" cy="570.6" rx="18.4" ry="16.8" fill="#F0E68C" fill-opacity="0.250"/>
</g>
<path fill="none" stroke="#000" stroke-width="1.35" d="M486.6 487.1l4.6 4.6m0-4.6l-4.6 4.6M532.4 424.9l4.6 4.6m0-4.6l-4.6 4.6M491.6 508.1l4.6 4.6m0-4.6l-4.6 4.6M478.9 561.8l4.6 4.6m0-4.6l-4.6 4.6M460.6 446.1l4.6 4.6m0-4.6l-4.6 4.6M492 533.7l4.6 4.6m0-4.6l-4.6 4.6M489.9 498.9l4.6 4.6m0-4.6l-4.6 4.6M444.7 495.6l4.6 4.6m0-4.6l-4.6 4.6M507.8 438.9l4.6 4.6m0-4.6l-4.6 4.6M536.4 566.9l4.6 4.6m0-4.6l-4.6 4.6M620.8 497.7l4.6 4.6m0-4.6l-4.6 4.6M561.6 610l4.6 4.6m0-4.6l-4.6 4.6M518.4 552.8l4.6 4.6m0-4.6l-4.6 4.6M465.3 449.5l4.6 4.6m0-4.6l-4.6 4.6M510.9 507.3l4.6 4.6m0-4.6l-4.6 4.6M493.5 526.8l4.6 4.6m0-4.6l-4.6 4.6M574.1 522.7l4.6 4.6m0-4.6l-4.6 4.6M597.4 447.4l4.6 4.6m0-4.6l-4.6 4.6M548.8 492.9l4.6 4.6m0-4.6l-4.6 4.6M520.9 535.3l4.6 4.6m0-4.6l-4.6 4.6M569.1 528.4l4.6 4.6m0-4.6l-4.6 4.6M588.9 517.6l4.6 4.6m0-4.6l-4.6 4.6M542.1 477.8l4.6 4.6m0-4.6l-4.6 4.6M504.7 481l4.6 4.6m0-4.6l-4.6 4.6M490.5 448.9l4.6 4.6m0-4.6l-4.6 4.6M550.8 504.9l4.6 4.6m0-4.6l-4.6 4.6M554.2 524.8l4.6 4.6m0-4.6l-4.6 4.6M586.3 582.2l4.6 4.6m0-4.6l-4.6 4.6M451.2 438l4.6 4.6m0-4.6l-4.6 4.6M494.3 475.3l4.6 4.6m0-4.6l-4.6 4.6M569.7 545.8l4.6 4.6m0-4.6l-4.6 4.6M484.2 472.8l4.6 4.6m0-4.6l-4.6 4.6M557.6 547.8l4.6 4.6m0-4.6l-4.6 4.6M498.2 588.3l4.6 4.6m0-4.6l-4.6 4.6M618 492l4.6 4.6m0-4.6l-4.6 4.6M500.1 491.6l4.6 4.6m0-4.6l-4.6 4.6M477.7 541.7l4.6 4.6m0-4.6l-4.6 4.6M527.1 425.7l4.6 4.6m0-4.6l-4.6 4.6M572.6 577.2l4.6 4.6m0-4.6l-4.6 4.6M531.1 416.8l4.6 4.6m0-4.6l-4.6 4.6M503.2 532.5l4.6 4.6m0-4.6l-4.6 4.6M433.7 455.1l4.6 4.6m0-4.6l-4.6 4.6M558.4 516l4.6 4.6m0-4.6l-4.6 4.6M513.9 618.3l4.6 4.6m0-4.6l-4.6 4.6M583.9 468l4.6 4.6m0-4.6l-4.6 4.6M518.9 426.8l4.6 4.6m0-4.6l-4.6 4.6M630.6 504.3l4.6 4.6m0-4.6l-4.6 4.6M629.7 473.9l4.6 4.6m0-4.6l-4.6 4.6M497.6 564.3l4.6 4.6m0-4.6l-4.6 4.6M596.3 467.6l4.6 4.6m0-4.6l-4.6 4.6M472.6 415.2l4.6 4.6m0-4.6l-4.6 4.6M490.9 586.5l4.6 4.6m0-4.6l-4.6 4.6M436.5 520.1l4.6 4.6m0-4.6l-4.6 4.6M493.9 540.6l4.6 4.6m0-4.6l-4.6 4.6M535.9 601.1l4.6 4.6m0-4.6l-4.6 4.6M534.6 409.5l4.6 4.6m0-4.6l-4.6 4.6M457.8 554.2l4.6 4.6m0-4.6l-4.6 4.6M600.3 477.4l4.6 4.6m0-4.6l-4.6 4.6M553.1 594l4.6 4.6m0-4.6l-4.6 4.6M478.1 413.5l4.6 4.6m0-4.6l-4.6 4.6M564.7 528.4l4.6 4.6m0-4.6l-4.6 4.6M555.3 508.3l4.6 4.6m0-4.6l-4.6 4.6M510.9 471.2l4.6 4.6m0-4.6l-4.6 4.6M562.6 548.5l4.6 4.6m0-4.6l-4.6 4.6M471.8 425.8l4.6 4.6m0-4.6l-4.6 4.6M579.2 433.3l4.6 4.6m0-4.6l-4.6 4.6M555.8 548.7l4.6 4.6m0-4.6l-4.6 4.6M549.8 431.9l4.6 4.6m0-4.6l-4.6 4.6M636.8 541.6l4.6 4.6m0-4.6l-4.6 4.6M492.1 527.6l4.6 4.6m0-4.6l-4.6 4.6M510.1 496.7l4.6 4.6m0-4.6l-4.6 4.6M515.4 484.2l4.6 4.6m0-4.6l-4.6 4.6M555.9 483.4l4.6 4.6m0-4.6l-4.6 4.6M559.1 451.6l4.6 4.6m0-4.6l-4.6 4.6M528.9 467l4.6 4.6m0-4.6l-4.6 4.6M561.5 462.5l4.6 4.6m0-4.6l-4.6 4.6M562.2 475.7l4.6 4.6m0-4.6l-4.6 4.6M504.5 436.5l4.6 4.6m0-4.6l-4.6 4.6M537.6 560.7l4.6 4.6m0-4.6l-4.6 4.6M563.6 546.6l4.6 4.6m0-4.6l-4.6 4.6M413.2 570.3l4.6 4.6m0-4.6l-4.6 4.6M479.3 425.9l4.6 4.6m0-4.6l-4.6 4.6M560.4 502l4.6 4.6m0-4.6l-4.6 4.6M514 593.5l4.6 4.6m0-4.6l-4.6 4.6M535.8 463.5l4.6 4.6m0-4.6l-4.6 4.6M474.3 436.4l4.6 4.6m0-4.6l-4.6 4.6M513.2 590.4l4.6 4.6m0-4.6l-4.6 4.6M515.5 520.1l4.6 4.6m0-4.6l-4.6 4.6M533.7 474.8l4.6 4.6m0-4.6l-4.6 4.6M536.8 459.3l4.6 4.6m0-4.6l-4.6 4.6M480.6 510.6l4.6 4.6m0-4.6l-4.6 4.6M591 535.3l4.6 4.6m0-4.6l-4.6 4.6M483.5 479.7l4.6 4.6m0-4.6l-4.6 4.6M523 463.5l4.6 4.6m0-4.6l-4.6 4.6M501.2 537.2l4.6 4.6m0-4.6l-4.6 4.6M499.8 501.2l4.6 4.6m0-4.6l-4.6 4.6M485.2 467.4l4.6 4.6m0-4.6l-4.6 4.6M533.6 445.2l4.6 4.6m0-4.6l-4.6 4.6M552.5 563.2l4.6 4.6m0-4.6l-4.6 4.6M622.9 491.7l4.6 4.6m0-4.6l-4.6 4.6M635.4 516.1l4.6 4.6m0-4.6l-4.6 4.6M531 552.5l4.6 4.6m0-4.6l-4.6 4.6M592.5 466.2l4.6 4.6m0-4.6l-4.6 4.6M511.9 457.2l4.6 4.6m0-4.6l-4.6 4.6M504.8 475l4.6 4.6m0-4.6l-4.6 4.6M567.9 398.4l4.6 4.6m0-4.6l-4.6 4.6M553.6 474.5l4.6 4.6m0-4.6l-4.6 4.6M604 563.6l4.6 4.6m0-4.6l-4.6 4.6M500.5 477l4.6 4.6m0-4.6l-4.6 4.6M466.3 528.2l4.6 4.6m0-4.6l-4.6 4.6M425 535.4l4.6 4.6m0-4.6l-4.6 4.6M515.8 549.8l4.6 4.6m0-4.6l-4.6 4.6M516.1 474.8l4.6 4.6m0-4.6l-4.6 4.6M614.7 471.6l4.6 4.6m0-4.6l-4.6 4.6M582.7 540.8l4.6 4.6m0-4.6l-4.6 4.6M567.9 491.5l4.6 4.6m0-4.6l-4.6 4.6M627.9 509.2l4.6 4.6m0-4.6l-4.6 4.6M600.6 558.8l4.6 4.6m0-4.6l-4.6 4.6M443.7 500.5l4.6 4.6m0-4.6l-4.6 4.6M578.6 454.3l4.6 4.6m0-4.6l-4.6 4.6M575.2 565.8l4.6 4.6m0-4.6l-4.6 4.6M498.7 617.9l4.6 4.6m0-4.6l-4.6 4.6M539.6 486.3l4.6 4.6m0-4.6l-4.6 4.6M495.1 573.1l4.6 4.6m0-4.6l-4.6 4.6M616.9 528.9l4.6 4.6m0-4.6l-4.6 4.6M627.1 531.9l4.6 4.6m0-4.6l-4.6 4.6M486 561.8l4.6 4.6m0-4.6l-4.6 4.6M567.7 578l4.6 4.6m0-4.6l-4.6 4.6M437.6 533.8l4.6 4.6m0-4.6l-4.6 4.6M518 475.1l4.6 4.6m0-4.6l-4.6 4.6M592.3 480.8l4.6 4.6m0-4.6l-4.6 4.6M452.9 484.3l4.6 4.6m0-4.6l-4.6 4.6M588 540.7l4.6 4.6m0-4.6l-4.6 4.6M577.2 479.5l4.6 4.6m0-4.6l-4.6 4.6M420.1 509l4.6 4.6m0-4.6l-4.6 4.6M536.4 421.8l4.6 4.6m0-4.6l-4.6 4.6M548.9 604.6l4.6 4.6m0-4.6l-4.6 4.6M630.9 460.2l4.6 4.6m0-4.6l-4.6 4.6M610.4 474.6l4.6 4.6m0-4.6l-4.6 4.6M583 495.5l4.6 4.6m0-4.6l-4.6 4.6M533.8 448.7l4.6 4.6m0-4.6l-4.6 4.6M564.7 610.9l4.6 4.6m0-4.6l-4.6 4.6M596.9 507.2l4.6 4.6m0-4.6l-4.6 4.6M472.9 464.9l4.6 4.6m0-4.6l-4.6 4.6M608.5 515.5l4.6 4.6m0-4.6l-4.6 4.6M569.1 492.6l4.6 4.6m0-4.6l-4.6 4.6M612.9 457.2l4.6 4.6m0-4.6l-4.6 4.6M609.2 567.1l4.6 4.6m0-4.6l-4.6 4.6M583.1 502l4.6 4.6m0-4.6l-4.6 4.6M524.6 545l4.6 4.6m0-4.6l-4.6 4.6M631.4 492.5l4.6 4.6m0-4.6l-4.6 4.6M434 486.5l4.6 4.6m0-4.6l-4.6 4.6M577.9 451.4l4.6 4.6m0-4.6l-4.6 4.6M610.5 470.6l4.6 4.6m0-4.6l-4.6 4.6M579.8 534.9l4.6 4.6m0-4.6l-4.6 4.6M512.8 497.7l4.6 4.6m0-4.6l-4.6 4.6M624.8 494.6l4.6 4.6m0-4.6l-4.6 4.6M561.4 552.4l4.6 4.6m0-4.6l-4.6 4.6M470.5 527.2l4.6 4.6m0-4.6l-4.6 4.6M544.9 456.8l4.6 4.6m0-4.6l-4.6 4.6M412.7 462.2l4.6 4.6m0-4.6l-4.6 4.6M540.1 480.6l4.6 4.6m0-4.6l-4.6 4.6M506.7 545.3l4.6 4.6m0-4.6l-4.6 4.6M598.1 442l4.6 4.6m0-4.6l-4.6 4.6M535.7 533.1l4.6 4.6m0-4.6l-4.6 4.6M577.4 529.9l4.6 4.6m0-4.6l-4.6 4.6M597.8 465.4l4.6 4.6m0-4.6l-4.6 4.6M619.5 473.2l4.6 4.6m0-4.6l-4.6 4.6M541.6 546.5l4.6 4.6m0-4.6l-4.6 4.6M415.1 467.8l4.6 4.6m0-4.6l-4.6 4.6M615.8 455.6l4.6 4.6m0-4.6l-4.6 4.6M509.7 569.1l4.6 4.6m0-4.6l-4.6 4.6M538.4 527.3l4.6 4.6m0-4.6l-4.6 4.6M457.5 471.2l4.6 4.6m0-4.6l-4.6 4.6M451.2 468.5l4.6 4.6m0-4.6l-4.6 4.6M485.1 599.3l4.6 4.6m0-4.6l-4.6 4.6M460.6 516.6l4.6 4.6m0-4.6l-4.6 4.6M525.3 591.1l4.6 4.6m0-4.6l-4.6 4.6M460 561.4l4.6 4.6m0-4.6l-4.6 4.6M472.2 502.2l4.6 4.6m0-4.6l-4.6 4.6M478.7 510.1l4.6 4.6m0-4.6l-4.6 4.6M538.3 599.6l4.6 4.6m0-4.6l-4.6 4.6M501.2 543.9l4.6 4.6m0-4.6l-4.6 4.6M549.9 500.2l4.6 4.6m0-4.6l-4.6 4.6M555.6 566.5l4.6 4.6m0-4.6l-4.6 4.6M464.4 552.5l4.6 4.6m0-4.6l-4.6 4.6M493.7 508.6l4.6 4.6m0-4.6l-4.6 4.6M506.7 424.7l4.6 4.6m0-4.6l-4.6 4.6M593.5 584.9l4.6 4.6m0-4.6l-4.6 4.6M485.5 574.9l4.6 4.6m0-4.6l-4.6 4.6M586.5 518.9l4.6 4.6m0-4.6l-4.6 4.6M477.6 510l4.6 4.6m0-4.6l-4.6 4.6M489.9 531.8l4.6 4.6m0-4.6l-4.6 4.6M552.3 485.6l4.6 4.6m0-4.6l-4.6 4.6M435.2 466.9l4.6 4.6m0-4.6l-4.6 4.6M612.2 523.5l4.6 4.6m0-4.6l-4.6 4.6M455.3 551.3l4.6 4.6m0-4.6l-4.6 4.6M499 469.7l4.6 4.6m0-4.6l-4.6 4.6M459.7 549.5l4.6 4.6m0-4.6l-4.6 4.6M476.7 514.1l4.6 4.6m0-4.6l-4.6 4.6M548.7 562.2l4.6 4.6m0-4.6l-4.6 4.6M503 442.2l4.6 4.6m0-4.6l-4.6 4.6M614.7 548.3l4.6 4.6m0-4.6l-4.6 4.6M460.7 563.4l4.6 4.6m0-4.6l-4.6 4.6M480.8 564.8l4.6 4.6m0-4.6l-4.6 4.6M570.2 604l4.6 4.6m0-4.6l-4.6 4.6M641.4 530.6l4.6 4.6m0-4.6l-4.6 4.6M495.7 475.6l4.6 4.6m0-4.6l-4.6 4.6M563.9 530.1l4.6 4.6m0-4.6l-4.6 4.6M480 496.5l4.6 4.6m0-4.6l-4.6 4.6M564.2 499.5l4.6 4.6m0-4.6l-4.6 4.6M439.7 486.5l4.6 4.6m0-4.6l-4.6 4.6M549.4 496.6l4.6 4.6m0-4.6l-4.6 4.6M534.4 479.4l4.6 4.6m0-4.6l-4.6 4.6M610.8 503.9l4.6 4.6m0-4.6l-4.6 4.6M501.2 513.6l4.6 4.6m0-4.6l-4.6 4.6M493.8 522.5l4.6 4.6m0-4.6l-4.6 4.6M616 552.5l4.6 4.6m0-4.6l-4.6 4.6M490.8 488.3l4.6 4.6m0-4.6l-4.6 4.6M590.9 555.2l4.6 4.6m0-4.6l-4.6 4.6M487.6 527.4l4.6 4.6m0-4.6l-4.6 4.6M577.1 481.4l4.6 4.6m0-4.6l-4.6 4.6M605.4 433.1l4.6 4.6m0-4.6l-4.6 4.6M552.3 583.6l4.6 4.6m0-4.6l-4.6 4.6M457.3 546.3l4.6 4.6m0-4.6l-4.6 4.6M480.9 500.8l4.6 4.6m0-4.6l-4.6 4.6M614 510.9l4.6 4.6m0-4.6l-4.6 4.6M522.8 537.2l4.6 4.6m0-4.6l-4.6 4.6M553 472.2l4.6 4.6m0-4.6l-4.6 4.6M540.1 439.8l4.6 4.6m0-4.6l-4.6 4.6M443.1 478l4.6 4.6m0-4.6l-4.6 4.6M472 462l4.6 4.6m0-4.6l-4.6 4.6M551.4 551.8l4.6 4.6m0-4.6l-4.6 4.6M609.6 478.1l4.6 4.6m0-4.6l-4.6 4.6M495.5 510.7l4.6 4.6m0-4.6l-4.6 4.6M481 485.9l4.6 4.6m0-4.6l-4.6 4.6M506.3 469.6l4.6 4.6m0-4.6l-4.6 4.6M480.7 566.1l4.6 4.6m0-4.6l-4.6 4.6M473.9 558.7l4.6 4.6m0-4.6l-4.6 4.6M495.2 592l4.6 4.6m0-4.6l-4.6 4.6M487.4 561.8l4.6 4.6m0-4.6l-4.6 4.6M513.9 590.6l4.6 4.6m0-4.6l-4.6 4.6M537 559.4l4.6 4.6m0-4.6l-4.6 4.6M631.3 501.7l4.6 4.6m0-4.6l-4.6 4.6M493.9 533.1l4.6 4.6m0-4.6l-4.6 4.6M489.5 469.7l4.6 4.6m0-4.6l-4.6 4.6M484 421.7l4.6 4.6m0-4.6l-4.6 4.6M577 424.3l4.6 4.6m0-4.6l-4.6 4.6M533.1 470.7l4.6 4.6m0-4.6l-4.6 4.6M481.3 568.8l4.6 4.6m0-4.6l-4.6 4.6M565.6 535.1l4.6 4.6m0-4.6l-4.6 4.6M555.7 471l4.6 4.6m0-4.6l-4.6 4.6M573.4 538l4.6 4.6m0-4.6l-4.6 4.6M553 606.1l4.6 4.6m0-4.6l-4.6 4.6M551.3 493.9l4.6 4.6m0-4.6l-4.6 4.6M510 550.5l4.6 4.6m0-4.6l-4.6 4.6M455.4 566.5l4.6 4.6m0-4.6l-4.6 4.6M458.6 532.8l4.6 4.6m0-4.6l-4.6 4.6M437 577.5l4.6 4.6m0-4.6l-4.6 4.6M551.2 531.6l4.6 4.6m0-4.6l-4.6 4.6M546.2 478.4l4.6 4.6m0-4.6l-4.6 4.6M433.6 515.1l4.6 4.6m0-4.6l-4.6 4.6M493.6 491l4.6 4.6m0-4.6l-4.6 4.6M449.1 454.7l4.6 4.6m0-4.6l-4.6 4.6M464.7 539l4.6 4.6m0-4.6l-4.6 4.6M629.7 516.7l4.6 4.6m0-4.6l-4.6 4.6M553.6 539.8l4.6 4.6m0-4.6l-4.6 4.6M461.6 461.6l4.6 4.6m0-4.6l-4.6 4.6M499.2 548l4.6 4.6m0-4.6l-4.6 4.6M411.1 508.2l4.6 4.6m0-4.6l-4.6 4.6M524.3 601.7l4.6 4.6m0-4.6l-4.6 4.6M559.8 591.3l4.6 4.6m0-4.6l-4.6 4.6M639.9 524l4.6 4.6m0-4.6l-4.6 4.6M557 504l4.6 4.6m0-4.6l-4.6 4.6M564.7 455.6l4.6 4.6m0-4.6l-4.6 4.6M504.3 512.6l4.6 4.6m0-4.6l-4.6 4.6M499.5 523.1l4.6 4.6m0-4.6l-4.6 4.6M454.5 514.9l4.6 4.6m0-4.6l-4.6 4.6M579.8 503.4l4.6 4.6m0-4.6l-4.6 4.6M440.2 493.6l4.6 4.6m0-4.6l-4.6 4.6M558.7 460.1l4.6 4.6m0-4.6l-4.6 4.6M564.8 554.5l4.6 4.6m0-4.6l-4.6 4.6M505.1 535.5l4.6 4.6m0-4.6l-4.6 4.6M598.6 570.2l4.6 4.6m0-4.6l-4.6 4.6M447.1 521.6l4.6 4.6m0-4.6l-4.6 4.6M509.8 556l4.6 4.6m0-4.6l-4.6 4.6M533.2 469.1l4.6 4.6m0-4.6l-4.6 4.6M526.1 554.9l4.6 4.6m0-4.6l-4.6 4.6M487.7 538.3l4.6 4.6m0-4.6l-4.6 4.6M527.7 478.9l4.6 4.6m0-4.6l-4.6 4.6M495.7 481.5l4.6 4.6m0-4.6l-4.6 4.6M528.4 465.6l4.6 4.6m0-4.6l-4.6 4.6M486.6 543.3l4.6 4.6m0-4.6l-4.6 4.6M491.5 468.7l4.6 4.6m0-4.6l-4.6 4.6M446.4 483.5l4.6 4.6m0-4.6l-4.6 4.6M513.6 581.3l4.6 4.6m0-4.6l-4.6 4.6M534.7 468.9l4.6 4.6m0-4.6l-4.6 4.6M539.1 556.7l4.6 4.6m0-4.6l-4.6 4.6M581.8 530.8l4.6 4.6m0-4.6l-4.6 4.6M564.8 531.6l4.6 4.6m0-4.6l-4.6 4.6M519.3 534.8l4.6 4.6m0-4.6l-4.6 4.6M614.7 564.6l4.6 4.6m0-4.6l-4.6 4.6M540.1 438.3l4.6 4.6m0-4.6l-4.6 4.6M480 602.2l4.6 4.6m0-4.6l-4.6 4.6M443.6 534l4.6 4.6m0-4.6l-4.6 4.6M550.2 580.6l4.6 4.6m0-4.6l-4.6 4.6M593.7 494.1l4.6 4.6m0-4.6l-4.6 4.6M610.5 533.5l4.6 4.6m0-4.6l-4.6 4.6M420.1 499.2l4.6 4.6m0-4.6l-4.6 4.6M430.2 500.9l4.6 4.6m0-4.6l-4.6 4.6M500.2 488.1l4.6 4.6m0-4.6l-4.6 4.6M590.2 549.8l4.6 4.6m0-4.6l-4.6 4.6M490.7 536.1l4.6 4.6m0-4.6l-4.6 4.6M498.2 532.6l4.6 4.6m0-4.6l-4.6 4.6M438.5 502.3l4.6 4.6m0-4.6l-4.6 4.6M561.1 467.9l4.6 4.6m0-4.6l-4.6 4.6M508.8 518.6l4.6 4.6m0-4.6l-4.6 4.6M452.7 466.4l4.6 4.6m0-4.6l-4.6 4.6M499.3 505l4.6 4.6m0-4.6l-4.6 4.6M506.7 477.1l4.6 4.6m0-4.6l-4.6 4.6M433.2 539.7l4.6 4.6m0-4.6l-4.6 4.6M550.5 558.1l4.6 4.6m0-4.6l-4.6 4.6M573.6 438.1l4.6 4.6m0-4.6l-4.6 4.6M553.8 539.4l4.6 4.6m0-4.6l-4.6 4.6M516.5 419.4l4.6 4.6m0-4.6l-4.6 4.6M582.4 475.8l4.6 4.6m0-4.6l-4.6 4.6M469.7 448l4.6 4.6m0-4.6l-4.6 4.6M616.4 535.3l4.6 4.6m0-4.6l-4.6 4.6M512.6 592.9l4.6 4.6m0-4.6l-4.6 4.6M481.6 517l4.6 4.6m0-4.6l-4.6 4.6M485.7 577.3l4.6 4.6m0-4.6l-4.6 4.6M601.1 491.2l4.6 4.6m0-4.6l-4.6 4.6M598.9 437.9l4.6 4.6m0-4.6l-4.6 4.6M606.9 464.7l4.6 4.6m0-4.6l-4.6 4.6M500.9 574.6l4.6 4.6m0-4.6l-4.6 4.6M436.4 546.3l4.6 4.6m0-4.6l-4.6 4.6M519.1 543.3l4.6 4.6m0-4.6l-4.6 4.6M475.1 462.7l4.6 4.6m0-4.6l-4.6 4.6M613.9 572.6l4.6 4.6m0-4.6l-4.6 4.6M461.1 469.1l4.6 4.6m0-4.6l-4.6 4.6M557.1 416l4.6 4.6m0-4.6l-4.6 4.6M611.3 520.9l4.6 4.6m0-4.6l-4.6 4.6M578.4 520.2l4.6 4.6m0-4.6l-4.6 4.6M477.2 518.7l4.6 4.6m0-4.6l-4.6 4.6M482.5 599.6l4.6 4.6m0-4.6l-4.6 4.6M593 450.8l4.6 4.6m0-4.6l-4.6 4.6M564.8 505.1l4.6 4.6m0-4.6l-4.6 4.6M516.7 540.7l4.6 4.6m0-4.6l-4.6 4.6M554.9 553.7l4.6 4.6m0-4.6l-4.6 4.6M544.8 478.9l4.6 4.6m0-4.6l-4.6 4.6M573.2 521.8l4.6 4.6m0-4.6l-4.6 4.6M497.1 544.4l4.6 4.6m0-4.6l-4.6 4.6M612.2 490.9l4.6 4.6m0-4.6l-4.6 4.6M572.9 521.6l4.6 4.6m0-4.6l-4.6 4.6M522 543.9l4.6 4.6m0-4.6l-4.6 4.6M434.8 457.8l4.6 4.6m0-4.6l-4.6 4.6M611.5 571.1l4.6 4.6m0-4.6l-4.6 4.6M532.2 573.6l4.6 4.6m0-4.6l-4.6 4.6M588.8 578.8l4.6 4.6m0-4.6l-4.6 4.6M491 602.6l4.6 4.6m0-4.6l-4.6 4.6M445.2 438.1l4.6 4.6m0-4.6l-4.6 4.6M569.1 465.2l4.6 4.6m0-4.6l-4.6 4.6M601.3 565l4.6 4.6m0-4.6l-4.6 4.6M528.7 426.7l4.6 4.6m0-4.6l-4.6 4.6M544.3 434.6l4.6 4.6m0-4.6l-4.6 4.6M609.8 459l4.6 4.6m0-4.6l-4.6 4.6M585.6 492.5l4.6 4.6m0-4.6l-4.6 4.6M494.2 485.8l4.6 4.6m0-4.6l-4.6 4.6M570.8 583.8l4.6 4.6m0-4.6l-4.6 4.6M540.8 555.5l4.6 4.6m0-4.6l-4.6 4.6M604.2 447.4l4.6 4.6m0-4.6l-4.6 4.6M534.8 531.4l4.6 4.6m0-4.6l-4.6 4.6M615.4 553.6l4.6 4.6m0-4.6l-4.6 4.6M576.2 494.1l4.6 4.6m0-4.6l-4.6 4.6M563.4 460.4l4.6 4.6m0-4.6l-4.6 4.6M503.9 580.8l4.6 4.6m0-4.6l-4.6 4.6M545.2 536.2l4.6 4.6m0-4.6l-4.6 4.6M441.2 519.1l4.6 4.6m0-4.6l-4.6 4.6M554.1 433l4.6 4.6m0-4.6l-4.6 4.6M464.5 518.4l4.6 4.6m0-4.6l-4.6 4.6M470.7 522.7l4.6 4.6m0-4.6l-4.6 4.6M562.7 560.3l4.6 4.6m0-4.6l-4.6 4.6M627.7 489.6l4.6 4.6m0-4.6l-4.6 4.6M506.6 472.6l4.6 4.6m0-4.6l-4.6 4.6M539.1 529.6l4.6 4.6m0-4.6l-4.6 4.6M519.5 388.4l4.6 4.6m0-4.6l-4.6 4.6M541.5 480.7l4.6 4.6m0-4.6l-4.6 4.6M610.3 499.9l4.6 4.6m0-4.6l-4.6 4.6M470.9 575.2l4.6 4.6m0-4.6l-4.6 4.6M594.6 443.7l4.6 4.6m0-4.6l-4.6 4.6M503.1 505.7l4.6 4.6m0-4.6l-4.6 4.6M562 521.4l4.6 4.6m0-4.6l-4.6 4.6M507.8 501.1l4.6 4.6m0-4.6l-4.6 4.6M584.4 573.3l4.6 4.6m0-4.6l-4.6 4.6M585.6 502.5l4.6 4.6m0-4.6l-4.6 4.6M543.8 547.3l4.6 4.6m0-4.6l-4.6 4.6M508.8 569.4l4.6 4.6m0-4.6l-4.6 4.6M493.9 505.6l4.6 4.6m0-4.6l-4.6 4.6M609.2 532.1l4.6 4.6m0-4.6l-4.6 4.6M566.4 567.6l4.6 4.6m0-4.6l-4.6 4.6M605.7 563.4l4.6 4.6m0-4.6l-4.6 4.6M552.5 502.4l4.6 4.6m0-4.6l-4.6 4.6M541.6 549.8l4.6 4.6m0-4.6l-4.6 4.6M563.3 511.8l4.6 4.6m0-4.6l-4.6 4.6M595.8 544.2l4.6 4.6m0-4.6l-4.6 4.6M597.8 514.4l4.6 4.6m0-4.6l-4.6 4.6M544.3 479.3l4.6 4.6m0-4.6l-4.6 4.6M480.5 506.9l4.6 4.6m0-4.6l-4.6 4.6M594.2 472.5l4.6 4.6m0-4.6l-4.6 4.6M540.9 597l4.6 4.6m0-4.6l-4.6 4.6M478.9 580.7l4.6 4.6m0-4.6l-4.6 4.6M546.5 445.4l4.6 4.6m0-4.6l-4.6 4.6M618.7 580.3l4.6 4.6m0-4.6l-4.6 4.6M491 550.9l4.6 4.6m0-4.6l-4.6 4.6M543.6 593.3l4.6 4.6m0-4.6l-4.6 4.6M523.5 485.7l4.6 4.6m0-4.6l-4.6 4.6M593.9 521.8l4.6 4.6m0-4.6l-4.6 4.6M456.1 497.7l4.6 4.6m0-4.6l-4.6 4.6M561.2 417.4l4.6 4.6m0-4.6l-4.6 4.6M501.6 527.5l4.6 4.6m0-4.6l-4.6 4.6M643.4 479.9l4.6 4.6m0-4.6l-4.6 4.6M529.3 558.5l4.6 4.6m0-4.6l-4.6 4.6M573.1 535.4l4.6 4.6m0-4.6l-4.6 4.6M551.7 438.7l4.6 4.6m0-4.6l-4.6 4.6M532.7 538.8l4.6 4.6m0-4.6l-4.6 4.6M483.9 466.1l4.6 4.6m0-4.6l-4.6 4.6M547.5 580.6l4.6 4.6m0-4.6l-4.6 4.6M560.8 444.1l4.6 4.6m0-4.6l-4.6 4.6M558.5 496.4l4.6 4.6m0-4.6l-4.6 4.6M518.6 550l4.6 4.6m0-4.6l-4.6 4.6M479.5 507l4.6 4.6m0-4.6l-4.6 4.6M459.4 441.7l4.6 4.6m0-4.6l-4.6 4.6M512.4 493.4l4.6 4.6m0-4.6l-4.6 4.6M564.8 534.9l4.6 4.6m0-4.6l-4.6 4.6M556.2 428l4.6 4.6m0-4.6l-4.6 4.6M490.6 478.8l4.6 4.6m0-4.6l-4.6 4.6M581.4 494.8l4.6 4.6m0-4.6l-4.6 4.6M626.3 517.4l4.6 4.6m0-4.6l-4.6 4.6M591.2 472.3l4.6 4.6m0-4.6l-4.6 4.6M531.5 483.2l4.6 4.6m0-4.6l-4.6 4.6M485.8 448.9l4.6 4.6m0-4.6l-4.6 4.6M482.2 529.9l4.6 4.6m0-4.6l-4.6 4.6M572.4 498l4.6 4.6m0-4.6l-4.6 4.6M494.8 584.7l4.6 4.6m0-4.6l-4.6 4.6M507.2 462.8l4.6 4.6m0-4.6l-4.6 4.6M570.3 507.5l4.6 4.6m0-4.6l-4.6 4.6M453.6 546.6l4.6 4.6m0-4.6l-4.6 4.6M552.5 488.1l4.6 4.6m0-4.6l-4.6 4.6M586.1 505.7l4.6 4.6m0-4.6l-4.6 4.6M534.3 496.8l4.6 4.6m0-4.6l-4.6 4.6M634.9 497.5l4.6 4.6m0-4.6l-4.6 4.6M545 429.6l4.6 4.6m0-4.6l-4.6 4.6M469.4 494.7l4.6 4.6m0-4.6l-4.6 4.6M575.6 422.5l4.6 4.6m0-4.6l-4.6 4.6M593.6 548.1l4.6 4.6m0-4.6l-4.6 4.6M476.6 588l4.6 4.6m0-4.6l-4.6 4.6M505 558.9l4.6 4.6m0-4.6l-4.6 4.6M555.6 590.7l4.6 4.6m0-4.6l-4.6 4.6M577.9 492.4l4.6 4.6m0-4.6l-4.6 4.6M524.8 579l4.6 4.6m0-4.6l-4.6 4.6M490.3 581.2l4.6 4.6m0-4.6l-4.6 4.6M523.3 433.8l4.6 4.6m0-4.6l-4.6 4.6M543.2 433.9l4.6 4.6m0-4.6l-4.6 4.6M502.4 495.6l4.6 4.6m0-4.6l-4.6 4.6M643.4 538.4l4.6 4.6m0-4.6l-4.6 4.6M576.4 499.3l4.6 4.6m0-4.6l-4.6 4.6M597.7 466.8l4.6 4.6m0-4.6l-4.6 4.6M519.2 449.5l4.6 4.6m0-4.6l-4.6 4.6M538.7 546.2l4.6 4.6m0-4.6l-4.6 4.6M475.6 570.7l4.6 4.6m0-4.6l-4.6 4.6M558.2 496.8l4.6 4.6m0-4.6l-4.6 4.6M528.2 545.9l4.6 4.6m0-4.6l-4.6 4.6M535.8 584.5l4.6 4.6m0-4.6l-4.6 4.6M491.8 550.1l4.6 4.6m0-4.6l-4.6 4.6M554.7 445.8l4.6 4.6m0-4.6l-4.6 4.6M521.4 540l4.6 4.6m0-4.6l-4.6 4.6M483.2 474.9l4.6 4.6m0-4.6l-4.6 4.6M585.2 506.9l4.6 4.6m0-4.6l-4.6 4.6M539.3 450.4l4.6 4.6m0-4.6l-4.6 4.6M442.2 571.9l4.6 4.6m0-4.6l-4.6 4.6M448 515.8l4.6 4.6m0-4.6l-4.6 4.6M470.9 554.8l4.6 4.6m0-4.6l-4.6 4.6M479.6 489.2l4.6 4.6m0-4.6l-4.6 4.6M441 463.2l4.6 4.6m0-4.6l-4.6 4.6M490.8 512.4l4.6 4.6m0-4.6l-4.6 4.6M510.6 466.4l4.6 4.6m0-4.6l-4.6 4.6M544.8 559.3l4.6 4.6m0-4.6l-4.6 4.6M500.5 481.2l4.6 4.6m0-4.6l-4.6 4.6M568.2 567.5l4.6 4.6m0-4.6l-4.6 4.6M552.3 540.6l4.6 4.6m0-4.6l-4.6 4.6M432.2 511.3l4.6 4.6m0-4.6l-4.6 4.6M598.7 500.5l4.6 4.6m0-4.6l-4.6 4.6M584.5 495.5l4.6 4.6m0-4.6l-4.6 4.6M545.2 601.4l4.6 4.6m0-4.6l-4.6 4.6M487.5 416l4.6 4.6m0-4.6l-4.6 4.6M450.4 469.4l4.6 4.6m0-4.6l-4.6 4.6M581.1 507.3l4.6 4.6m0-4.6l-4.6 4.6M471.4 464.9l4.6 4.6m0-4.6l-4.6 4.6M507 568.3l4.6 4.6m0-4.6l-4.6 4.6M438.6 439.1l4.6 4.6m0-4.6l-4.6 4.6"/>
</g>
<g class="fr">
<line x1="88.9" y1="303.4" x2="88.9" y2="306.2"/>
<text class="tl" x="88.9" y="315.6" text-anchor="middle">−1.0</text>
<line x1="141.2" y1="303.4" x2="141.2" y2="306.2"/>
<text class="tl" x="141.2" y="315.6" text-anchor="middle">−0.5</text>
<line x1="193.5" y1="303.4" x2="193.5" y2="306.2"/>
<text class="tl" x="193.5" y="315.6" text-anchor="middle">0.0</text>
<line x1="245.8" y1="303.4" x2="245.8" y2="306.2"/>
<text class="tl" x="245.8" y="315.6" text-anchor="middle">0.5</text>
<line x1="298.1" y1="303.4" x2="298.1" y2="306.2"/>
<text class="tl" x="298.1" y="315.6" text-anchor="middle">1.0</text>
<line x1="41.9" y1="261.5" x2="44.7" y2="261.5"/>
<text class="tl" x="38.9" y="264.9" text-anchor="end">−1.0</text>
<line x1="41.9" y1="211.6" x2="44.7" y2="211.6"/>
<text class="tl" x="38.9" y="215.0" text-anchor="end">−0.5</text>
<line x1="41.9" y1="161.6" x2="44.7" y2="161.6"/>
<text class="tl" x="38.9" y="165.0" text-anchor="end">0.0</text>
<line x1="41.9" y1="111.6" x2="44.7" y2="111.6"/>
<text class="tl" x="38.9" y="115.0" text-anchor="end">0.5</text>
<line x1="41.9" y1="61.7" x2="44.7" y2="61.7"/>
<text class="tl" x="38.9" y="65.1" text-anchor="end">1.0</text>
<rect x="44.7" y="13.6" width="295.8" height="289.8" fill="none"/>
<text class="tt" x="192.6" y="8.8" text-anchor="middle">Classes with estimation thresholds</text>
<text class="al" x="192.6" y="326.4" text-anchor="middle">X</text>
<text class="al" transform="translate(15.2 158.5) rotate(-90)" text-anchor="middle">Y</text>
<line x1="429.5" y1="303.4" x2="429.5" y2="306.2"/>
<text class="tl" x="429.5" y="315.6" text-anchor="middle">−1.0</text>
<line x1="481.9" y1="303.4" x2="481.9" y2="306.2"/>
<text class="tl" x="481.9" y="315.6" text-anchor="middle">−0.5</text>
<line x1="534.2" y1="303.4" x2="534.2" y2="306.2"/>
<text class="tl" x="534.2" y="315.6" text-anchor="middle">0.0</text>
<line x1="586.6" y1="303.4" x2="586.6" y2="306.2"/>
<text class="tl" x="586.6" y="315.6" text-anchor="middle">0.5</text>
<line x1="639.0" y1="303.4" x2="639.0" y2="306.2"/>
<text class="tl" x="639.0" y="315.6" text-anchor="middle">1.0</text>
<line x1="382.8" y1="261.5" x2="385.6" y2="261.5"/>
<text class="tl" x="379.8" y="264.9" text-anchor="end">−1.0</text>
<line x1="382.8" y1="211.6" x2="385.6" y2="211.6"/>
<text class="tl" x="379.8" y="215.0" text-anchor="end">−0.5</text>
<line x1="382.8" y1="161.6" x2="385.6" y2="161.6"/>
<text class="tl" x="379.8" y="165.0" text-anchor="end">0.0</text>
<line x1="382.8" y1="111.6" x2="385.6" y2="111.6"/>
<text class="tl" x="379.8" y="115.0" text-anchor="end">0.5</text>
<line x1="382.8" y1="61.7" x2="385.6" y2="61.7"/>
<text class="tl" x="379.8" y="65.1" text-anchor="end">1.0</text>
<rect x="385.6" y="13.6" width="296.0" height="289.8" fill="none"/>
<text class="tt" x="533.6" y="8.8" text-anchor="middle">Entropy regions</text>
<text class="al" x="533.6" y="326.4" text-anchor="middle">X</text>
<text class="al" transform="translate(356.1 158.5) rotate(-90)" text-anchor="middle">Y</text>
<line x1="53.4" y1="650.4" x2="53.4" y2="653.2"/>
<text class="tl" x="53.4" y="662.6" text-anchor="middle">−1.5</text>
<line x1="99.3" y1="650.4" x2="99.3" y2="653.2"/>
<text class="tl" x="99.3" y="662.6" text-anchor="middle">−1.0</text>
<line x1="145.1" y1="650.4" x2="145.1" y2="653.2"/>
<text class="tl" x="145.1" y="662.6" text-anchor="middle">−0.5</text>
<line x1="191.0" y1="650.4" x2="191.0" y2="653.2"/>
<text class="tl" x="191.0" y="662.6" text-anchor="middle">0.0</text>
<line x1="236.9" y1="650.4" x2="236.9" y2="653.2"/>
<text class="tl" x="236.9" y="662.6" text-anchor="middle">0.5</text>
<line x1="282.7" y1="650.4" x2="282.7" y2="653.2"/>
<text class="tl" x="282.7" y="662.6" text-anchor="middle">1.0</text>
<line x1="328.6" y1="650.4" x2="328.6" y2="653.2"/>
<text class="tl" x="328.6" y="662.6" text-anchor="middle">1.5</text>
<line x1="38.0" y1="639.1" x2="40.8" y2="639.1"/>
<text class="tl" x="35.0" y="642.5" text-anchor="end">−1.5</text>
<line x1="38.0" y1="597.2" x2="40.8" y2="597.2"/>
<text class="tl" x="35.0" y="600.6" text-anchor="end">−1.0</text>
<line x1="38.0" y1="555.3" x2="40.8" y2="555.3"/>
<text class="tl" x="35.0" y="558.7" text-anchor="end">−0.5</text>
<line x1="38.0" y1="513.4" x2="40.8" y2="513.4"/>
<text class="tl" x="35.0" y="516.8" text-anchor="end">0.0</text>
<line x1="38.0" y1="471.4" x2="40.8" y2="471.4"/>
<text class="tl" x="35.0" y="474.8" text-anchor="end">0.5</text>
<line x1="38.0" y1="429.5" x2="40.8" y2="429.5"/>
<text class="tl" x="35.0" y="432.9" text-anchor="end">1.0</text>
<line x1="38.0" y1="387.6" x2="40.8" y2="387.6"/>
<text class="tl" x="35.0" y="391.0" text-anchor="end">1.5</text>
<rect x="40.8" y="360.7" width="295.5" height="289.7" fill="none"/>
<text class="tt" x="188.6" y="355.9" text-anchor="middle">Classes with estimation thresholds</text>
<text class="al" x="188.6" y="673.4" text-anchor="middle">X</text>
<text class="al" transform="translate(11.3 505.5) rotate(-90)" text-anchor="middle">Y</text>
<line x1="394.1" y1="650.4" x2="394.1" y2="653.2"/>
<text class="tl" x="394.1" y="662.6" text-anchor="middle">−1.5</text>
<line x1="440.1" y1="650.4" x2="440.1" y2="653.2"/>
<text class="tl" x="440.1" y="662.6" text-anchor="middle">−1.0</text>
<line x1="486.0" y1="650.4" x2="486.0" y2="653.2"/>
<text class="tl" x="486.0" y="662.6" text-anchor="middle">−0.5</text>
<line x1="532.0" y1="650.4" x2="532.0" y2="653.2"/>
<text class="tl" x="532.0" y="662.6" text-anchor="middle">0.0</text>
<line x1="578.0" y1="650.4" x2="578.0" y2="653.2"/>
<text class="tl" x="578.0" y="662.6" text-anchor="middle">0.5</text>
<line x1="623.9" y1="650.4" x2="623.9" y2="653.2"/>
<text class="tl" x="623.9" y="662.6" text-anchor="middle">1.0</text>
<line x1="669.9" y1="650.4" x2="669.9" y2="653.2"/>
<text class="tl" x="669.9" y="662.6" text-anchor="middle">1.5</text>
<line x1="378.5" y1="639.1" x2="381.3" y2="639.1"/>
<text class="tl" x="375.5" y="642.5" text-anchor="end">−1.5</text>
<line x1="378.5" y1="597.2" x2="381.3" y2="597.2"/>
<text class="tl" x="375.5" y="600.6" text-anchor="end">−1.0</text>
<line x1="378.5" y1="555.3" x2="381.3" y2="555.3"/>
<text class="tl" x="375.5" y="558.7" text-anchor="end">−0.5</text>
<line x1="378.5" y1="513.4" x2="381.3" y2="513.4"/>
<text class="tl" x="375.5" y="516.8" text-anchor="end">0.0</text>
<line x1="378.5" y1="471.4" x2="381.3" y2="471.4"/>
<text class="tl" x="375.5" y="474.8" text-anchor="end">0.5</text>
<line x1="378.5" y1="429.5" x2="381.3" y2="429.5"/>
<text class="tl" x="375.5" y="432.9" text-anchor="end">1.0</text>
<line x1="378.5" y1="387.6" x2="381.3" y2="387.6"/>
<text class="tl" x="375.5" y="391.0" text-anchor="end">1.5</text>
<rect x="381.3" y="360.7" width="296.4" height="289.7" fill="none"/>
<text class="tt" x="529.5" y="355.9" text-anchor="middle">Entropy regions</text>
<text class="al" x="529.5" y="673.4" text-anchor="middle">X</text>
<text class="al" transform="translate(351.8 505.5) rotate(-90)" text-anchor="middle">Y</text>
</g>
</svg>
</body></html>
